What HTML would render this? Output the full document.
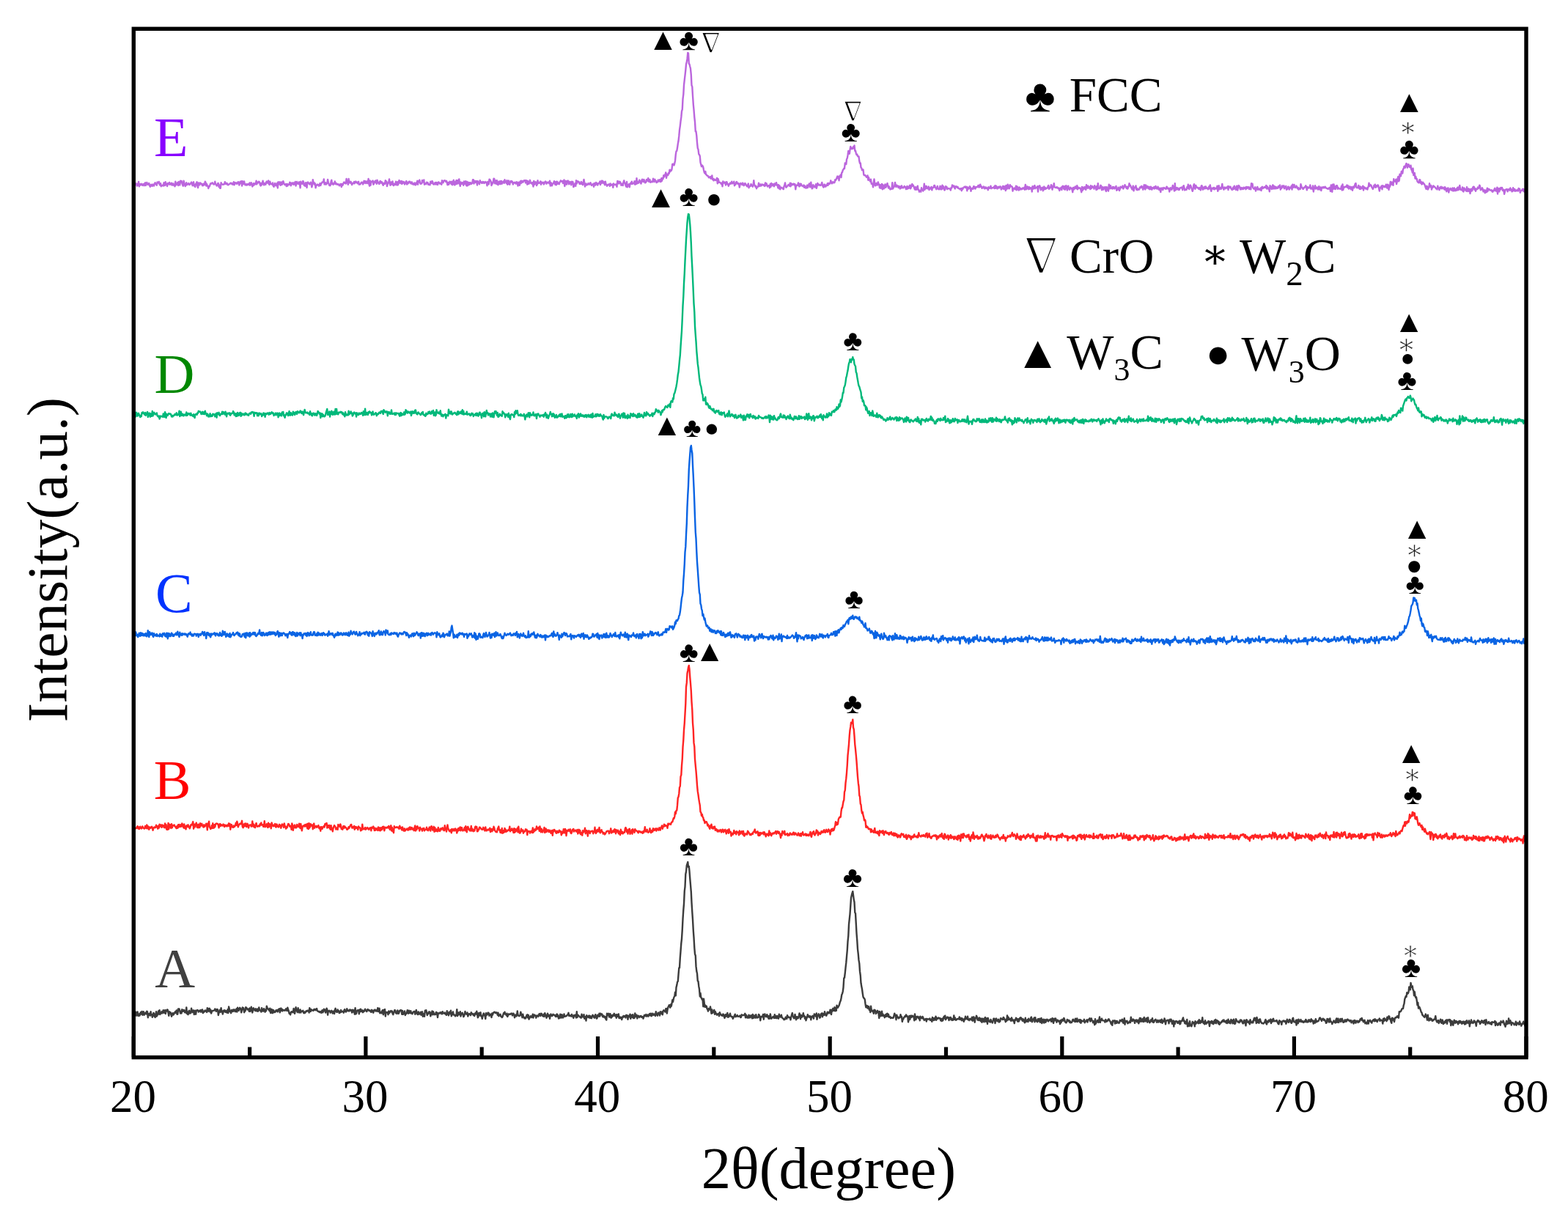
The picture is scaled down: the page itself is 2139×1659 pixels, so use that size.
<!DOCTYPE html>
<html><head><meta charset="utf-8"><title>XRD patterns</title>
<style>html,body{margin:0;padding:0;background:#fff;overflow:hidden;}svg{display:block;filter:blur(0.5px);}</style>
</head><body>
<svg width="2139" height="1659" viewBox="0 0 2139 1659">
<rect x="0" y="0" width="2139" height="1659" fill="#ffffff"/>
<polyline fill="none" stroke="#bb66dd" stroke-width="2.4" stroke-linejoin="round" points="182.3,251.4 183.1,253.9 183.8,253.7 184.6,250.4 185.3,250.8 186.1,250.4 186.8,253.7 187.6,251.3 188.3,252.8 189.1,247.9 189.8,254.4 190.6,251.2 191.3,252.7 192.1,251.2 192.8,250.7 193.6,252.3 194.3,253.0 195.1,251.2 195.8,251.5 196.6,253.2 197.3,250.4 198.1,249.3 198.8,253.1 199.6,251.2 200.3,249.0 201.1,251.2 201.8,251.9 202.6,250.6 203.3,250.1 204.1,253.1 204.8,254.8 205.6,252.7 206.3,251.8 207.1,253.6 207.8,253.9 208.6,251.6 209.3,252.9 210.1,253.5 210.8,250.7 211.6,249.2 212.3,251.1 213.1,251.0 213.8,252.8 214.6,248.4 215.3,249.7 216.1,249.5 216.8,247.9 217.6,251.6 218.3,252.5 219.1,250.2 219.8,254.2 220.6,253.2 221.3,252.9 222.1,252.5 222.8,253.6 223.6,249.3 224.3,253.0 225.1,252.8 225.8,248.2 226.6,252.0 227.3,250.7 228.1,254.0 228.8,250.0 229.6,250.7 230.3,251.2 231.1,248.9 231.8,251.7 232.6,250.4 233.3,251.6 234.1,249.7 234.8,252.7 235.6,251.8 236.3,250.4 237.1,252.8 237.8,253.1 238.6,254.2 239.3,247.8 240.1,252.5 240.8,251.7 241.6,250.6 242.3,248.9 243.1,253.0 243.8,248.0 244.6,251.3 245.3,252.5 246.1,246.8 246.8,249.1 247.6,246.9 248.3,249.7 249.1,252.4 249.8,253.7 250.6,246.8 251.3,249.3 252.1,252.1 252.8,254.1 253.6,252.2 254.3,249.2 255.1,252.2 255.8,251.5 256.6,251.1 257.3,250.0 258.1,252.0 258.8,251.8 259.6,251.0 260.3,250.1 261.1,248.6 261.8,250.1 262.6,253.3 263.3,250.2 264.1,248.3 264.8,253.6 265.6,252.0 266.3,255.0 267.1,251.1 267.8,250.2 268.6,248.3 269.3,253.6 270.1,256.0 270.8,249.5 271.6,249.9 272.3,252.3 273.1,249.5 273.8,250.6 274.6,250.5 275.3,251.5 276.1,253.3 276.8,251.2 277.6,253.0 278.3,250.4 279.1,252.1 279.8,247.6 280.6,249.1 281.3,253.6 282.1,251.1 282.8,253.6 283.6,253.7 284.3,257.0 285.1,254.2 285.8,254.4 286.6,252.0 287.3,250.3 288.1,250.4 288.8,250.6 289.6,249.2 290.3,250.1 291.1,251.0 291.8,251.7 292.6,250.6 293.3,247.7 294.1,251.3 294.8,251.9 295.6,253.6 296.3,252.7 297.1,250.2 297.8,249.9 298.6,255.0 299.3,252.5 300.1,256.9 300.8,256.9 301.6,249.1 302.3,251.2 303.1,251.4 303.8,251.7 304.6,251.8 305.3,251.2 306.1,251.2 306.8,248.1 307.6,250.8 308.3,249.7 309.1,251.3 309.8,250.1 310.6,252.1 311.3,252.4 312.1,251.4 312.8,251.3 313.6,250.8 314.3,249.7 315.1,250.3 315.8,249.7 316.6,251.4 317.3,250.7 318.1,251.8 318.8,248.1 319.6,252.4 320.3,249.2 321.1,249.2 321.8,250.2 322.6,249.4 323.3,250.9 324.1,249.2 324.8,248.2 325.6,248.5 326.3,252.6 327.1,250.1 327.8,247.8 328.6,250.1 329.3,247.1 330.1,253.5 330.8,247.2 331.6,251.0 332.3,251.1 333.1,247.5 333.8,250.9 334.6,252.4 335.3,251.5 336.1,251.2 336.8,252.7 337.6,251.3 338.3,251.7 339.1,250.9 339.8,252.3 340.6,249.4 341.3,252.7 342.1,250.3 342.8,249.2 343.6,252.0 344.3,254.5 345.1,253.1 345.8,250.2 346.6,252.5 347.3,250.3 348.1,250.9 348.8,251.3 349.6,246.7 350.3,251.4 351.1,249.0 351.8,249.5 352.6,247.9 353.3,247.7 354.1,248.6 354.8,251.9 355.6,253.4 356.3,250.0 357.1,252.3 357.8,249.8 358.6,246.7 359.3,250.8 360.1,252.4 360.8,249.9 361.6,251.3 362.3,252.0 363.1,248.9 363.8,247.5 364.6,249.6 365.3,249.3 366.1,246.5 366.8,251.0 367.6,252.1 368.3,247.7 369.1,250.2 369.8,251.0 370.6,250.9 371.3,251.9 372.1,249.5 372.8,253.8 373.6,254.8 374.3,252.8 375.1,250.0 375.8,252.3 376.6,253.4 377.3,251.6 378.1,249.7 378.8,256.5 379.6,248.2 380.3,251.4 381.1,250.5 381.8,248.3 382.6,252.9 383.3,251.3 384.1,248.4 384.8,251.8 385.6,249.9 386.3,247.1 387.1,249.5 387.8,251.4 388.6,252.2 389.3,251.4 390.1,251.2 390.8,254.1 391.6,250.9 392.3,253.6 393.1,251.5 393.8,251.6 394.6,251.9 395.3,248.7 396.1,249.2 396.8,253.3 397.6,250.9 398.3,249.5 399.1,250.9 399.8,249.4 400.6,251.8 401.3,249.4 402.1,251.3 402.8,247.9 403.6,253.6 404.3,250.2 405.1,248.0 405.8,250.5 406.6,250.0 407.3,250.9 408.1,248.3 408.8,251.1 409.6,256.4 410.3,247.6 411.1,250.8 411.8,249.6 412.6,250.7 413.3,246.9 414.1,248.3 414.8,252.8 415.6,250.6 416.3,253.9 417.1,249.3 417.8,250.9 418.6,256.0 419.3,248.9 420.1,248.6 420.8,250.1 421.6,250.0 422.3,251.6 423.1,250.3 423.8,248.7 424.6,250.6 425.3,255.3 426.1,252.7 426.8,245.1 427.6,250.2 428.3,248.9 429.1,251.8 429.8,250.4 430.6,256.3 431.3,252.7 432.1,252.8 432.8,251.6 433.6,252.4 434.3,252.1 435.1,253.7 435.8,252.0 436.6,250.1 437.3,253.0 438.1,250.7 438.8,250.0 439.6,248.4 440.3,248.6 441.1,248.5 441.8,244.4 442.6,251.6 443.3,250.8 444.1,249.3 444.8,251.7 445.6,250.5 446.3,250.4 447.1,245.0 447.8,249.3 448.6,250.8 449.3,252.9 450.1,253.3 450.8,252.6 451.6,247.7 452.3,245.7 453.1,251.0 453.8,250.1 454.6,251.9 455.3,249.9 456.1,250.6 456.8,247.4 457.6,251.2 458.3,249.5 459.1,251.3 459.8,251.7 460.6,250.9 461.3,251.9 462.1,251.6 462.8,253.3 463.6,253.0 464.3,251.3 465.1,250.9 465.8,255.0 466.6,251.1 467.3,252.9 468.1,251.4 468.8,249.2 469.6,248.5 470.3,249.8 471.1,249.9 471.8,250.5 472.6,244.0 473.3,247.9 474.1,248.7 474.8,251.8 475.6,244.0 476.3,249.2 477.1,247.5 477.8,249.5 478.6,247.9 479.3,249.6 480.1,252.1 480.8,249.9 481.6,250.2 482.3,250.2 483.1,248.0 483.8,250.3 484.6,248.8 485.3,247.5 486.1,248.9 486.8,248.5 487.6,250.2 488.3,248.6 489.1,247.8 489.8,251.7 490.6,250.9 491.3,251.5 492.1,250.4 492.8,249.1 493.6,248.6 494.3,249.0 495.1,251.4 495.8,249.8 496.6,246.8 497.3,249.6 498.1,247.1 498.8,250.1 499.6,247.6 500.3,247.5 501.1,250.1 501.8,249.6 502.6,243.9 503.3,251.0 504.1,253.6 504.8,246.5 505.6,252.7 506.3,247.8 507.1,248.2 507.8,247.6 508.6,246.4 509.3,251.7 510.1,250.6 510.8,247.8 511.6,248.8 512.3,246.4 513.0,248.5 513.8,250.8 514.5,245.7 515.3,248.0 516.0,249.0 516.8,250.6 517.5,251.0 518.3,247.4 519.0,247.1 519.8,249.6 520.5,248.2 521.3,248.5 522.0,251.4 522.8,252.8 523.5,250.2 524.3,249.6 525.0,250.9 525.8,246.1 526.5,249.6 527.3,247.5 528.0,254.0 528.8,250.7 529.5,249.5 530.3,248.8 531.0,244.5 531.8,250.9 532.5,252.8 533.3,248.5 534.0,251.4 534.8,251.6 535.5,247.5 536.3,252.4 537.0,253.2 537.8,251.0 538.5,250.5 539.3,252.1 540.0,247.6 540.8,250.7 541.5,252.6 542.3,248.2 543.0,252.2 543.8,249.4 544.5,246.0 545.3,249.6 546.0,247.7 546.8,250.0 547.5,246.9 548.3,251.0 549.0,247.6 549.8,249.7 550.5,248.0 551.3,248.5 552.0,251.5 552.8,249.7 553.5,248.5 554.3,247.0 555.0,251.6 555.8,250.8 556.5,248.8 557.3,250.0 558.0,247.6 558.8,247.6 559.5,248.0 560.3,250.3 561.0,250.3 561.8,248.4 562.5,251.3 563.3,251.4 564.0,250.3 564.8,252.0 565.5,249.6 566.3,250.0 567.0,252.4 567.8,249.6 568.5,251.0 569.3,246.8 570.0,251.7 570.8,247.2 571.5,248.1 572.3,245.6 573.0,249.5 573.8,250.9 574.5,250.7 575.3,250.4 576.0,246.0 576.8,247.6 577.5,248.4 578.3,245.5 579.0,251.8 579.8,250.2 580.5,250.6 581.3,251.2 582.0,248.6 582.8,248.9 583.5,249.1 584.3,251.9 585.0,251.4 585.8,251.7 586.5,252.4 587.3,247.6 588.0,248.9 588.8,250.1 589.5,247.0 590.3,248.4 591.0,251.3 591.8,251.5 592.5,251.5 593.3,249.6 594.0,249.1 594.8,251.6 595.5,248.9 596.3,250.2 597.0,252.1 597.8,248.8 598.5,248.4 599.3,249.5 600.0,250.6 600.8,250.4 601.5,249.7 602.3,251.8 603.0,246.2 603.8,247.5 604.5,249.3 605.3,247.1 606.0,246.2 606.8,246.3 607.5,246.8 608.3,248.1 609.0,246.7 609.8,249.3 610.5,252.3 611.3,249.0 612.0,251.9 612.8,250.2 613.5,247.7 614.3,249.6 615.0,248.1 615.8,251.4 616.5,247.7 617.3,252.3 618.0,250.8 618.8,245.8 619.5,251.1 620.3,252.5 621.0,248.0 621.8,251.4 622.5,246.0 623.3,250.8 624.0,246.3 624.8,250.3 625.5,246.0 626.3,244.4 627.0,250.2 627.8,253.9 628.5,248.4 629.3,251.2 630.0,249.9 630.8,249.1 631.5,250.9 632.3,252.9 633.0,247.4 633.8,250.9 634.5,250.5 635.3,247.1 636.0,252.9 636.8,253.5 637.5,248.0 638.3,253.1 639.0,249.7 639.8,249.0 640.5,251.9 641.3,249.2 642.0,249.1 642.8,251.1 643.5,250.4 644.3,249.6 645.0,245.2 645.8,245.1 646.5,250.5 647.3,246.8 648.0,249.1 648.8,247.0 649.5,248.9 650.3,247.1 651.0,252.5 651.8,247.3 652.5,248.9 653.3,248.7 654.0,251.3 654.8,246.1 655.5,248.7 656.3,248.2 657.0,249.7 657.8,249.7 658.5,247.9 659.3,249.4 660.0,248.2 660.8,249.9 661.5,248.9 662.3,247.9 663.0,249.0 663.8,249.7 664.5,253.2 665.3,247.9 666.0,249.3 666.8,251.4 667.5,244.6 668.3,245.1 669.0,246.1 669.8,248.2 670.5,253.0 671.3,249.1 672.0,250.6 672.8,247.9 673.5,243.6 674.3,243.8 675.0,250.4 675.8,249.0 676.5,246.3 677.3,251.1 678.0,246.2 678.8,251.5 679.5,252.3 680.3,248.2 681.0,247.5 681.8,251.1 682.5,247.3 683.3,251.0 684.0,246.9 684.8,250.6 685.5,249.2 686.3,248.1 687.0,247.2 687.8,249.8 688.5,245.2 689.3,248.2 690.0,248.0 690.8,250.0 691.5,246.3 692.3,251.9 693.0,248.0 693.8,246.4 694.5,251.3 695.3,251.8 696.0,248.3 696.8,246.9 697.5,248.6 698.3,247.3 699.0,248.0 699.8,251.6 700.5,249.5 701.3,249.0 702.0,249.5 702.8,248.7 703.5,250.5 704.3,250.6 705.0,248.2 705.8,249.1 706.5,253.6 707.3,249.7 708.0,248.6 708.8,252.9 709.5,249.0 710.3,246.8 711.0,250.0 711.8,246.8 712.5,247.3 713.3,248.7 714.0,247.6 714.8,246.1 715.5,246.3 716.3,246.0 717.0,249.5 717.8,246.1 718.5,246.5 719.3,251.7 720.0,246.9 720.8,250.9 721.5,250.8 722.3,248.1 723.0,245.8 723.8,249.4 724.5,249.9 725.3,250.6 726.0,248.9 726.8,251.2 727.5,254.5 728.3,247.0 729.0,251.8 729.8,249.5 730.5,248.2 731.3,248.8 732.0,253.1 732.8,251.5 733.5,246.3 734.3,250.0 735.0,249.7 735.8,249.7 736.5,248.9 737.3,247.4 738.0,251.9 738.8,248.5 739.5,249.7 740.3,249.3 741.0,248.8 741.8,251.4 742.5,250.5 743.3,248.3 744.0,247.5 744.8,248.2 745.5,250.7 746.3,248.9 747.0,249.4 747.8,248.6 748.5,249.1 749.3,250.3 750.0,246.6 750.8,253.5 751.5,249.2 752.3,250.0 753.0,253.4 753.8,251.1 754.5,250.6 755.3,249.2 756.0,247.2 756.8,250.3 757.5,252.1 758.3,247.9 759.0,252.3 759.8,247.6 760.5,248.4 761.3,250.8 762.0,249.9 762.8,251.2 763.5,248.5 764.3,248.0 765.0,246.3 765.8,247.5 766.5,247.7 767.3,246.9 768.0,250.1 768.8,248.2 769.5,245.5 770.3,254.0 771.0,247.6 771.8,246.8 772.5,251.6 773.3,251.5 774.0,247.0 774.8,246.4 775.5,247.3 776.3,251.4 777.0,248.9 777.8,248.1 778.5,249.8 779.3,252.4 780.0,247.7 780.8,249.8 781.5,248.1 782.3,255.1 783.0,254.3 783.8,252.5 784.5,250.2 785.3,253.8 786.0,246.1 786.8,250.5 787.5,247.3 788.3,247.1 789.0,248.3 789.8,248.1 790.5,250.8 791.3,251.1 792.0,250.3 792.8,248.0 793.5,251.1 794.3,249.6 795.0,252.2 795.8,248.3 796.5,244.9 797.3,249.4 798.0,254.6 798.8,251.5 799.5,250.4 800.3,252.6 801.0,251.9 801.8,251.9 802.5,250.1 803.3,251.3 804.0,251.6 804.8,250.0 805.5,249.2 806.3,251.6 807.0,252.9 807.8,252.0 808.5,251.4 809.3,251.1 810.0,254.7 810.8,249.9 811.5,251.1 812.3,252.6 813.0,249.0 813.8,249.6 814.5,251.2 815.3,252.6 816.0,250.1 816.8,250.3 817.5,249.9 818.3,247.6 819.0,252.1 819.8,249.4 820.5,246.6 821.3,249.7 822.0,246.6 822.8,248.1 823.5,250.1 824.3,248.3 825.0,252.3 825.8,247.6 826.5,251.1 827.3,251.9 828.0,253.8 828.8,252.9 829.5,251.8 830.3,251.7 831.0,251.5 831.8,253.9 832.5,250.5 833.3,252.8 834.0,251.7 834.8,252.4 835.5,251.5 836.3,255.9 837.0,250.5 837.8,252.0 838.5,251.8 839.3,252.2 840.0,251.6 840.8,251.3 841.5,254.8 842.3,247.0 843.0,250.0 843.8,247.6 844.5,250.5 845.3,247.8 846.0,248.3 846.8,250.0 847.5,252.9 848.3,251.3 849.0,250.8 849.8,253.0 850.5,248.5 851.3,246.3 852.0,249.6 852.8,249.9 853.5,252.9 854.3,254.7 855.0,248.0 855.8,255.4 856.5,253.6 857.3,252.2 858.0,251.3 858.8,255.3 859.5,250.8 860.3,249.7 861.0,250.7 861.8,247.6 862.5,251.0 863.3,249.7 864.0,250.4 864.8,250.2 865.5,247.3 866.3,251.7 867.0,247.3 867.8,251.1 868.5,243.2 869.3,250.3 870.0,248.0 870.8,249.8 871.5,248.5 872.3,245.6 873.0,247.5 873.8,249.6 874.5,250.5 875.3,246.2 876.0,244.7 876.8,246.9 877.5,248.0 878.3,244.9 879.0,246.3 879.8,249.3 880.5,249.2 881.3,248.5 882.0,245.0 882.8,246.7 883.5,245.8 884.3,243.1 885.0,247.7 885.8,246.2 886.5,245.1 887.3,248.9 888.0,247.7 888.8,247.8 889.5,248.5 890.3,247.6 891.0,243.7 891.8,245.5 892.5,248.2 893.3,244.7 894.0,246.3 894.8,247.0 895.5,249.1 896.3,248.8 897.0,247.9 897.8,245.6 898.5,247.6 899.3,246.7 900.0,245.1 900.8,247.9 901.5,248.0 902.3,243.3 903.0,246.7 903.8,243.0 904.5,244.1 905.3,239.1 906.0,241.4 906.8,238.8 907.5,238.0 908.3,235.3 909.0,242.9 909.8,237.8 910.5,238.0 911.3,239.1 912.0,236.0 912.8,236.5 913.5,231.8 914.3,234.0 915.0,231.9 915.8,232.7 916.5,230.9 917.3,223.9 918.0,223.8 918.8,223.8 919.5,225.5 920.3,222.6 921.0,219.4 921.8,210.9 922.5,206.4 923.3,205.8 924.0,201.8 924.8,196.1 925.5,192.6 926.3,185.4 927.0,177.4 927.8,171.8 928.5,165.7 929.3,159.9 930.0,151.9 930.8,149.1 931.5,135.1 932.3,128.6 933.0,116.1 933.8,108.9 934.5,102.8 935.3,95.6 936.0,87.8 936.8,84.3 937.5,80.4 938.3,72.0 939.0,72.7 939.8,86.9 940.5,87.4 941.3,90.8 942.0,93.5 942.8,102.1 943.5,116.3 944.3,118.4 945.0,130.3 945.8,142.3 946.5,149.7 947.3,159.8 948.0,166.1 948.8,179.4 949.5,179.3 950.3,185.3 951.0,194.6 951.8,202.3 952.5,203.8 953.3,210.4 954.0,211.0 954.8,213.0 955.5,221.5 956.3,224.6 957.0,227.2 957.8,225.6 958.5,226.3 959.3,228.2 960.0,232.0 960.8,235.2 961.5,236.5 962.3,233.9 963.0,238.1 963.8,238.6 964.5,239.4 965.3,239.9 966.0,240.1 966.8,242.2 967.5,241.8 968.3,242.4 969.0,241.0 969.8,243.7 970.5,243.0 971.3,239.4 972.0,244.9 972.8,243.8 973.5,246.4 974.3,244.5 975.0,245.0 975.8,246.0 976.5,245.8 977.3,245.3 978.0,242.9 978.8,250.4 979.5,243.9 980.3,246.6 981.0,248.9 981.8,248.6 982.5,249.2 983.3,249.9 984.0,251.1 984.8,249.5 985.5,254.3 986.3,247.4 987.0,249.9 987.8,248.8 988.5,248.5 989.3,250.2 990.0,252.5 990.8,248.3 991.5,248.3 992.3,251.2 993.0,250.9 993.8,253.8 994.5,252.1 995.3,250.6 996.0,249.6 996.8,250.7 997.5,250.0 998.3,247.7 999.0,250.4 999.8,249.9 1000.5,249.7 1001.3,247.7 1002.0,253.3 1002.8,251.3 1003.5,251.7 1004.3,248.6 1005.0,248.0 1005.8,249.7 1006.5,251.0 1007.3,250.1 1008.0,250.7 1008.8,255.6 1009.5,252.2 1010.3,249.9 1011.0,251.0 1011.8,250.6 1012.5,252.2 1013.3,249.6 1014.0,251.5 1014.8,253.2 1015.5,251.9 1016.3,250.1 1017.0,250.9 1017.8,252.5 1018.5,253.5 1019.3,254.4 1020.0,252.7 1020.8,250.6 1021.5,256.2 1022.3,254.2 1023.0,254.3 1023.8,253.9 1024.5,251.1 1025.3,252.4 1026.0,253.3 1026.8,254.7 1027.5,252.6 1028.3,246.3 1029.0,251.9 1029.8,253.1 1030.5,254.9 1031.3,253.8 1032.0,257.3 1032.8,255.3 1033.5,255.1 1034.3,254.4 1035.0,249.8 1035.8,254.1 1036.5,253.6 1037.3,251.4 1038.0,253.5 1038.8,253.2 1039.5,251.4 1040.3,252.0 1041.0,251.9 1041.8,253.1 1042.5,251.9 1043.3,254.0 1044.0,249.4 1044.8,252.7 1045.5,250.1 1046.3,252.6 1047.0,254.5 1047.8,253.4 1048.5,253.1 1049.3,253.4 1050.0,256.2 1050.8,251.0 1051.5,254.7 1052.3,250.0 1053.0,252.0 1053.8,253.2 1054.5,251.2 1055.3,253.2 1056.0,254.2 1056.8,250.4 1057.5,252.5 1058.3,251.9 1059.0,249.1 1059.8,252.8 1060.5,251.9 1061.3,256.2 1062.0,252.2 1062.8,257.4 1063.5,253.4 1064.3,258.4 1065.0,255.7 1065.8,255.6 1066.5,256.3 1067.3,256.5 1068.0,257.5 1068.8,258.2 1069.5,254.2 1070.3,252.4 1071.0,249.5 1071.8,254.1 1072.5,255.7 1073.3,254.7 1074.0,254.0 1074.8,252.9 1075.5,252.1 1076.3,252.5 1077.0,253.8 1077.8,249.6 1078.5,254.3 1079.3,250.1 1080.0,252.5 1080.8,251.5 1081.5,252.0 1082.3,250.6 1083.0,250.6 1083.8,252.6 1084.5,251.2 1085.3,258.3 1086.0,252.9 1086.8,252.7 1087.5,253.1 1088.3,252.3 1089.0,249.4 1089.8,253.5 1090.5,254.4 1091.3,250.7 1092.0,253.4 1092.8,250.8 1093.5,252.9 1094.3,253.5 1095.0,254.1 1095.8,254.3 1096.5,252.5 1097.3,255.9 1098.0,253.7 1098.8,255.6 1099.5,256.7 1100.3,255.1 1101.0,252.8 1101.8,256.2 1102.5,252.5 1103.3,252.6 1104.0,250.4 1104.8,255.4 1105.5,253.1 1106.3,248.7 1107.0,254.6 1107.8,257.3 1108.5,256.8 1109.3,252.3 1110.0,253.6 1110.8,254.5 1111.5,255.4 1112.3,253.8 1113.0,251.3 1113.8,256.9 1114.5,254.1 1115.3,250.0 1116.0,251.6 1116.8,252.6 1117.5,251.7 1118.3,252.4 1119.0,253.0 1119.8,252.6 1120.5,251.4 1121.3,249.0 1122.0,252.9 1122.8,254.5 1123.5,255.6 1124.3,251.7 1125.0,251.7 1125.8,254.6 1126.5,254.6 1127.3,252.4 1128.0,253.1 1128.8,250.2 1129.5,252.8 1130.3,250.0 1131.0,251.1 1131.8,250.8 1132.5,249.8 1133.3,246.3 1134.0,248.5 1134.8,250.4 1135.5,249.2 1136.3,248.1 1137.0,249.3 1137.8,249.3 1138.5,249.0 1139.3,245.1 1140.0,246.0 1140.8,244.6 1141.5,242.7 1142.3,240.6 1143.0,242.9 1143.8,240.7 1144.5,246.2 1145.3,240.9 1146.0,239.8 1146.8,238.5 1147.5,242.1 1148.3,235.3 1149.0,235.1 1149.8,232.0 1150.5,231.4 1151.3,229.6 1152.0,229.8 1152.8,222.4 1153.5,223.0 1154.3,224.1 1155.0,217.3 1155.8,215.7 1156.5,211.9 1157.3,206.0 1158.0,209.1 1158.8,209.8 1159.5,204.4 1160.3,199.9 1161.0,203.1 1161.8,201.7 1162.5,203.1 1163.3,202.7 1164.0,200.3 1164.8,202.3 1165.5,198.5 1166.3,205.9 1167.0,205.5 1167.8,209.3 1168.5,211.2 1169.3,210.5 1170.0,213.0 1170.8,213.7 1171.5,213.5 1172.3,219.8 1173.0,222.8 1173.8,222.5 1174.5,228.5 1175.3,229.3 1176.0,232.1 1176.8,231.6 1177.5,231.4 1178.3,238.3 1179.0,239.2 1179.8,238.9 1180.5,239.3 1181.3,240.6 1182.0,241.7 1182.8,241.8 1183.5,239.4 1184.3,245.7 1185.0,242.0 1185.8,245.1 1186.5,245.9 1187.3,247.7 1188.0,244.6 1188.8,250.8 1189.5,250.3 1190.3,251.0 1191.0,255.4 1191.8,248.5 1192.5,244.4 1193.3,251.2 1194.0,253.3 1194.8,253.1 1195.5,249.9 1196.3,251.0 1197.0,252.4 1197.8,248.4 1198.5,251.1 1199.3,251.5 1200.0,256.2 1200.8,252.2 1201.5,256.9 1202.3,254.2 1203.0,250.9 1203.8,258.4 1204.5,252.2 1205.3,255.2 1206.0,257.3 1206.8,252.9 1207.5,251.4 1208.3,255.8 1209.0,254.1 1209.8,251.8 1210.5,250.1 1211.3,253.7 1212.0,256.5 1212.8,254.3 1213.5,256.3 1214.3,258.4 1215.0,257.7 1215.8,258.0 1216.5,257.6 1217.3,249.2 1218.0,257.6 1218.8,255.9 1219.5,255.1 1220.3,253.2 1221.0,249.0 1221.8,253.0 1222.5,255.0 1223.3,252.7 1224.0,253.3 1224.8,253.6 1225.5,256.0 1226.3,254.1 1227.0,254.5 1227.8,257.5 1228.5,254.5 1229.3,256.5 1230.0,253.4 1230.8,256.2 1231.5,256.0 1232.3,256.3 1233.0,255.1 1233.8,254.0 1234.5,255.5 1235.3,255.2 1236.0,258.1 1236.8,257.9 1237.5,253.9 1238.3,257.5 1239.0,255.2 1239.8,256.8 1240.5,254.0 1241.3,252.7 1242.0,257.3 1242.8,256.0 1243.5,252.5 1244.3,251.1 1245.0,253.9 1245.8,252.8 1246.5,254.6 1247.3,256.7 1248.0,258.6 1248.8,255.2 1249.5,258.8 1250.3,258.6 1251.0,255.8 1251.8,253.7 1252.5,258.9 1253.3,258.7 1254.0,261.7 1254.8,260.9 1255.5,260.0 1256.3,261.7 1257.0,256.3 1257.8,258.4 1258.5,258.7 1259.3,260.6 1260.0,257.9 1260.8,250.6 1261.5,258.7 1262.3,253.9 1263.0,257.3 1263.8,254.0 1264.5,256.5 1265.3,257.3 1266.0,256.6 1266.8,254.5 1267.5,259.1 1268.3,257.3 1269.0,256.3 1269.8,257.5 1270.5,254.9 1271.3,259.4 1272.0,256.0 1272.8,256.1 1273.5,255.8 1274.3,253.2 1275.0,252.9 1275.8,255.8 1276.5,256.2 1277.3,258.3 1278.0,256.8 1278.8,254.0 1279.5,257.3 1280.3,258.1 1281.0,258.3 1281.8,256.9 1282.5,253.8 1283.3,258.3 1284.0,254.6 1284.8,258.2 1285.5,252.7 1286.3,257.1 1287.0,254.3 1287.8,258.0 1288.5,259.5 1289.3,258.5 1290.0,254.1 1290.8,254.7 1291.5,255.0 1292.3,258.1 1293.0,257.4 1293.8,256.9 1294.5,257.1 1295.3,257.6 1296.0,257.6 1296.8,259.6 1297.5,256.1 1298.3,256.5 1299.0,252.5 1299.8,253.4 1300.5,254.5 1301.3,253.4 1302.0,256.0 1302.8,257.5 1303.5,254.5 1304.3,254.3 1305.0,254.5 1305.8,255.8 1306.5,254.9 1307.3,257.0 1308.0,257.0 1308.8,257.3 1309.5,258.3 1310.3,257.2 1311.0,257.2 1311.8,260.2 1312.5,256.6 1313.3,258.1 1314.0,256.5 1314.8,255.4 1315.5,255.3 1316.3,254.5 1317.0,256.0 1317.8,254.7 1318.5,255.0 1319.3,260.4 1320.0,255.4 1320.8,257.8 1321.5,256.0 1322.3,257.1 1323.0,254.3 1323.8,255.9 1324.5,260.8 1325.3,257.4 1326.0,257.9 1326.8,256.5 1327.5,257.8 1328.3,254.1 1329.0,254.6 1329.8,256.9 1330.5,257.6 1331.3,255.1 1332.0,255.4 1332.8,255.0 1333.5,255.2 1334.3,253.2 1335.0,252.9 1335.8,255.6 1336.5,252.5 1337.3,251.7 1338.0,254.9 1338.8,254.3 1339.5,256.9 1340.3,255.7 1341.0,256.4 1341.8,254.5 1342.5,255.0 1343.3,257.4 1344.0,257.0 1344.8,255.4 1345.5,256.9 1346.3,256.5 1347.0,256.5 1347.8,259.2 1348.5,255.3 1349.3,256.9 1350.0,256.8 1350.8,255.5 1351.5,253.7 1352.3,257.2 1353.0,256.5 1353.8,256.2 1354.5,256.3 1355.3,256.4 1356.0,254.7 1356.8,257.1 1357.5,253.2 1358.3,256.7 1359.0,253.7 1359.8,255.7 1360.5,257.5 1361.3,255.5 1362.0,254.8 1362.8,256.5 1363.5,254.8 1364.3,254.4 1365.0,254.6 1365.8,258.5 1366.5,257.1 1367.3,257.0 1368.0,254.0 1368.8,257.7 1369.5,254.3 1370.3,257.9 1371.0,254.5 1371.8,260.1 1372.5,252.9 1373.3,258.1 1374.0,257.0 1374.8,251.8 1375.5,254.4 1376.3,257.3 1377.0,257.1 1377.8,252.1 1378.5,254.7 1379.3,253.8 1380.0,254.4 1380.8,254.8 1381.5,260.7 1382.3,257.8 1383.0,256.9 1383.8,256.6 1384.5,258.3 1385.3,258.2 1386.0,253.6 1386.8,259.4 1387.5,254.4 1388.3,255.8 1389.0,258.3 1389.8,259.5 1390.5,255.5 1391.3,256.7 1392.0,258.6 1392.8,257.3 1393.5,258.2 1394.3,258.0 1395.0,256.4 1395.8,257.1 1396.5,257.6 1397.3,255.7 1398.0,258.8 1398.8,251.9 1399.5,253.9 1400.3,258.4 1401.0,256.5 1401.8,254.6 1402.5,256.7 1403.3,258.2 1404.0,255.2 1404.8,257.8 1405.5,256.3 1406.3,256.4 1407.0,256.4 1407.8,261.5 1408.5,254.3 1409.3,255.7 1410.0,257.5 1410.8,253.9 1411.5,253.1 1412.3,257.2 1413.0,256.1 1413.8,255.8 1414.5,256.3 1415.3,254.2 1416.0,261.6 1416.8,254.2 1417.5,255.2 1418.3,253.3 1419.0,255.4 1419.8,259.2 1420.5,256.5 1421.3,257.7 1422.0,255.7 1422.8,260.3 1423.5,257.2 1424.3,254.6 1425.0,258.4 1425.8,256.0 1426.5,257.8 1427.3,256.7 1428.0,256.8 1428.8,256.4 1429.5,254.3 1430.3,253.0 1431.0,257.7 1431.8,255.6 1432.5,256.5 1433.3,255.0 1434.0,252.1 1434.8,253.5 1435.5,258.7 1436.3,254.5 1437.0,255.3 1437.8,250.2 1438.5,255.2 1439.3,255.6 1440.0,255.9 1440.8,256.3 1441.5,255.3 1442.3,255.4 1443.0,256.6 1443.8,257.3 1444.5,256.5 1445.3,260.1 1446.0,257.3 1446.8,257.2 1447.5,255.7 1448.3,259.0 1449.0,255.0 1449.8,253.7 1450.5,254.8 1451.3,257.7 1452.0,254.2 1452.8,258.8 1453.5,256.1 1454.3,253.2 1455.0,255.7 1455.8,259.5 1456.5,254.5 1457.3,253.7 1458.0,257.2 1458.8,258.7 1459.5,258.2 1460.3,255.7 1461.0,256.7 1461.8,256.9 1462.5,258.5 1463.3,262.2 1464.0,256.0 1464.8,258.7 1465.5,255.6 1466.3,257.3 1467.0,254.5 1467.8,254.9 1468.5,257.2 1469.3,253.1 1470.0,258.3 1470.8,255.6 1471.5,256.9 1472.3,256.6 1473.0,256.2 1473.8,257.2 1474.5,259.1 1475.3,262.2 1476.0,254.9 1476.8,259.8 1477.5,257.9 1478.3,255.6 1479.0,257.7 1479.8,255.2 1480.5,256.5 1481.3,258.8 1482.0,252.3 1482.8,256.4 1483.5,256.5 1484.3,253.6 1485.0,256.5 1485.8,256.2 1486.5,255.0 1487.3,258.1 1488.0,253.3 1488.8,257.1 1489.5,255.5 1490.3,254.0 1491.0,255.7 1491.8,255.4 1492.5,257.7 1493.3,253.2 1494.0,255.7 1494.8,255.2 1495.5,259.1 1496.3,254.0 1497.0,258.2 1497.8,250.2 1498.5,257.0 1499.3,256.1 1500.0,257.2 1500.8,255.2 1501.5,252.8 1502.3,253.7 1503.0,259.2 1503.8,257.2 1504.5,255.3 1505.3,258.7 1506.0,255.7 1506.8,255.8 1507.5,255.0 1508.3,259.6 1509.0,261.0 1509.8,255.2 1510.5,257.4 1511.3,258.6 1512.0,260.6 1512.8,251.8 1513.5,256.5 1514.3,257.3 1515.0,253.3 1515.8,256.9 1516.5,256.6 1517.3,257.6 1518.0,255.1 1518.8,257.0 1519.5,255.1 1520.3,257.4 1521.0,256.7 1521.8,255.8 1522.5,253.9 1523.3,259.8 1524.0,258.9 1524.8,258.5 1525.5,255.7 1526.3,256.4 1527.0,260.0 1527.8,258.0 1528.5,254.7 1529.3,256.1 1530.0,256.1 1530.8,255.2 1531.5,253.5 1532.3,257.5 1533.0,256.3 1533.8,254.8 1534.5,252.2 1535.3,254.2 1536.0,255.3 1536.8,257.0 1537.5,254.7 1538.3,257.6 1539.0,255.8 1539.8,254.1 1540.5,250.3 1541.3,253.4 1542.0,252.8 1542.8,255.4 1543.5,256.4 1544.3,258.4 1545.0,255.8 1545.8,253.6 1546.5,260.4 1547.3,257.0 1548.0,255.5 1548.8,255.5 1549.5,253.5 1550.3,258.8 1551.0,256.9 1551.8,259.2 1552.5,258.3 1553.3,257.9 1554.0,258.7 1554.8,255.7 1555.5,255.5 1556.3,256.2 1557.0,253.9 1557.8,255.9 1558.5,254.7 1559.3,258.7 1560.0,255.9 1560.8,252.2 1561.5,255.9 1562.3,258.4 1563.0,252.5 1563.8,254.7 1564.5,256.5 1565.3,254.1 1566.0,255.8 1566.8,257.2 1567.5,254.8 1568.3,258.2 1569.0,258.1 1569.8,254.7 1570.5,256.9 1571.3,258.7 1572.0,256.0 1572.8,256.9 1573.5,257.1 1574.3,255.1 1575.0,257.5 1575.8,256.4 1576.5,253.9 1577.3,256.8 1578.0,257.5 1578.8,257.5 1579.5,254.7 1580.3,256.9 1581.0,258.8 1581.8,256.7 1582.5,258.7 1583.3,262.1 1584.0,256.6 1584.8,258.1 1585.5,256.4 1586.3,259.1 1587.0,256.9 1587.8,256.0 1588.5,256.9 1589.3,256.8 1590.0,257.7 1590.8,257.8 1591.5,254.6 1592.3,255.6 1593.0,257.4 1593.8,257.6 1594.5,256.8 1595.3,261.5 1596.0,258.6 1596.8,256.2 1597.5,257.7 1598.3,258.8 1599.0,256.9 1599.8,253.0 1600.5,256.5 1601.3,256.9 1602.0,260.5 1602.8,250.1 1603.5,259.5 1604.3,256.2 1605.0,258.4 1605.8,256.1 1606.5,257.0 1607.3,258.9 1608.0,257.0 1608.8,258.9 1609.5,256.7 1610.3,256.2 1611.0,256.4 1611.8,255.4 1612.5,256.5 1613.3,259.2 1614.0,254.3 1614.8,253.3 1615.5,256.3 1616.3,259.5 1617.0,258.3 1617.8,258.9 1618.5,258.9 1619.3,255.2 1620.0,256.9 1620.8,251.6 1621.5,255.6 1622.3,258.0 1623.0,253.7 1623.8,252.6 1624.5,253.9 1625.3,256.6 1626.0,258.3 1626.8,260.8 1627.5,258.5 1628.3,252.7 1629.0,251.3 1629.8,256.1 1630.5,257.9 1631.3,252.9 1632.0,255.1 1632.8,255.4 1633.5,256.4 1634.3,256.1 1635.0,257.3 1635.8,258.1 1636.5,256.1 1637.3,257.2 1638.0,259.4 1638.8,253.5 1639.5,253.2 1640.3,256.1 1641.0,258.7 1641.8,255.6 1642.5,257.4 1643.3,254.8 1644.0,257.2 1644.8,254.4 1645.5,256.9 1646.3,256.5 1647.0,256.5 1647.8,258.3 1648.5,257.7 1649.3,254.5 1650.0,257.3 1650.8,252.4 1651.5,257.5 1652.3,260.8 1653.0,256.8 1653.8,257.0 1654.5,256.4 1655.3,258.1 1656.0,255.9 1656.8,258.3 1657.5,256.8 1658.3,256.7 1659.0,257.6 1659.8,257.1 1660.5,253.7 1661.3,260.8 1662.0,257.0 1662.8,253.3 1663.5,258.4 1664.3,256.1 1665.0,256.7 1665.8,257.7 1666.5,254.7 1667.3,250.9 1668.0,256.4 1668.8,257.1 1669.5,258.7 1670.3,255.4 1671.0,256.2 1671.8,257.3 1672.5,255.8 1673.3,255.9 1674.0,256.7 1674.8,254.2 1675.5,259.0 1676.3,254.1 1677.0,256.0 1677.8,255.4 1678.5,254.7 1679.3,257.2 1680.0,258.1 1680.8,259.1 1681.5,257.5 1682.3,255.6 1683.0,258.1 1683.8,253.7 1684.5,256.5 1685.3,257.4 1686.0,258.9 1686.8,254.2 1687.5,253.5 1688.3,259.5 1689.0,255.3 1689.8,253.1 1690.5,253.8 1691.3,256.1 1692.0,258.3 1692.8,256.0 1693.5,258.2 1694.3,256.3 1695.0,256.9 1695.8,258.1 1696.5,255.7 1697.3,257.1 1698.0,256.0 1698.8,255.7 1699.5,258.3 1700.3,255.0 1701.0,257.1 1701.8,255.2 1702.5,256.3 1703.3,255.2 1704.0,258.0 1704.8,255.8 1705.5,255.6 1706.3,258.3 1707.0,250.3 1707.8,253.5 1708.5,250.6 1709.3,256.1 1710.0,257.1 1710.8,257.8 1711.5,257.3 1712.3,255.3 1713.0,260.6 1713.8,258.0 1714.5,257.1 1715.3,254.9 1716.0,258.8 1716.8,257.3 1717.5,257.6 1718.3,259.0 1719.0,258.7 1719.8,256.4 1720.5,260.0 1721.3,255.3 1722.0,254.7 1722.8,257.1 1723.5,256.4 1724.3,255.9 1725.0,255.1 1725.8,256.0 1726.5,255.0 1727.3,253.0 1728.0,257.6 1728.8,254.4 1729.5,255.9 1730.3,257.9 1731.0,256.4 1731.8,261.4 1732.5,253.3 1733.3,254.4 1734.0,255.8 1734.8,258.1 1735.5,254.9 1736.3,252.4 1737.0,257.5 1737.8,253.7 1738.5,255.3 1739.3,257.5 1740.0,254.7 1740.8,255.2 1741.5,257.2 1742.3,256.0 1743.0,256.8 1743.8,254.2 1744.5,255.7 1745.3,253.6 1746.0,252.6 1746.8,258.7 1747.5,256.0 1748.3,256.8 1749.0,253.4 1749.8,255.4 1750.5,255.3 1751.3,253.3 1752.0,257.3 1752.8,255.1 1753.5,256.3 1754.3,254.0 1755.0,258.7 1755.8,258.2 1756.5,257.3 1757.3,254.7 1758.0,255.3 1758.8,258.6 1759.5,255.6 1760.3,256.5 1761.0,256.1 1761.8,253.6 1762.5,258.5 1763.3,251.7 1764.0,255.8 1764.8,255.0 1765.5,252.0 1766.3,255.5 1767.0,256.0 1767.8,255.1 1768.5,253.5 1769.3,256.0 1770.0,257.3 1770.8,255.7 1771.5,258.6 1772.3,257.0 1773.0,256.8 1773.8,258.0 1774.5,251.2 1775.3,254.2 1776.0,256.2 1776.8,256.2 1777.5,258.0 1778.3,257.3 1779.0,255.6 1779.8,255.8 1780.5,255.0 1781.3,253.3 1782.0,254.9 1782.8,259.3 1783.5,255.2 1784.3,255.5 1785.0,256.6 1785.8,255.4 1786.5,256.1 1787.3,252.5 1788.0,257.5 1788.8,256.3 1789.5,257.4 1790.3,257.9 1791.0,253.5 1791.8,261.5 1792.5,257.1 1793.3,257.0 1794.0,253.1 1794.8,257.6 1795.5,257.1 1796.3,255.5 1797.0,256.6 1797.8,258.6 1798.5,255.4 1799.3,254.2 1800.0,258.5 1800.8,256.3 1801.5,255.4 1802.3,260.1 1803.0,256.0 1803.8,255.4 1804.5,256.3 1805.3,255.1 1806.0,256.3 1806.8,256.2 1807.5,254.7 1808.3,255.5 1809.0,256.6 1809.8,256.9 1810.5,257.3 1811.3,257.8 1812.0,256.9 1812.8,257.5 1813.5,255.9 1814.3,256.2 1815.0,261.0 1815.8,252.4 1816.5,256.6 1817.3,261.7 1818.0,251.8 1818.8,257.9 1819.5,251.4 1820.3,255.2 1821.0,257.9 1821.8,258.0 1822.5,253.7 1823.3,253.2 1824.0,253.2 1824.8,257.7 1825.5,255.9 1826.3,256.9 1827.0,257.4 1827.8,257.6 1828.5,257.8 1829.3,257.0 1830.0,253.7 1830.8,259.5 1831.5,251.4 1832.3,259.1 1833.0,255.2 1833.8,255.7 1834.5,254.8 1835.3,254.8 1836.0,255.1 1836.8,254.3 1837.5,252.5 1838.3,255.9 1839.0,253.5 1839.8,257.6 1840.5,255.1 1841.3,254.4 1842.0,256.9 1842.8,258.2 1843.5,255.1 1844.3,256.7 1845.0,259.7 1845.8,254.7 1846.5,254.7 1847.3,256.3 1848.0,253.4 1848.8,250.7 1849.5,250.0 1850.3,255.5 1851.0,256.2 1851.8,256.2 1852.5,256.0 1853.3,253.0 1854.0,256.8 1854.8,257.9 1855.5,254.5 1856.3,257.8 1857.0,255.4 1857.8,256.6 1858.5,257.1 1859.3,253.6 1860.0,259.5 1860.8,255.1 1861.5,256.7 1862.3,256.1 1863.0,257.6 1863.8,257.3 1864.5,256.5 1865.3,258.6 1866.0,256.1 1866.8,254.4 1867.5,249.8 1868.3,254.0 1869.0,251.8 1869.8,252.8 1870.5,252.8 1871.3,255.4 1872.0,256.4 1872.8,258.0 1873.5,256.5 1874.3,252.9 1875.0,254.8 1875.8,251.7 1876.5,255.8 1877.3,255.1 1878.0,253.2 1878.8,254.3 1879.5,252.4 1880.3,253.3 1881.0,257.1 1881.8,260.5 1882.5,256.0 1883.3,256.4 1884.0,254.6 1884.8,253.5 1885.5,258.4 1886.3,253.3 1887.0,254.8 1887.8,253.9 1888.5,255.2 1889.3,254.0 1890.0,255.2 1890.8,251.6 1891.5,253.8 1892.3,256.6 1893.0,251.7 1893.8,252.2 1894.5,259.0 1895.3,254.5 1896.0,254.8 1896.8,248.0 1897.5,252.3 1898.3,249.1 1899.0,248.5 1899.8,251.7 1900.5,252.8 1901.3,244.2 1902.0,247.1 1902.8,247.6 1903.5,247.8 1904.3,244.7 1905.0,251.1 1905.8,247.9 1906.5,244.0 1907.3,241.0 1908.0,247.3 1908.8,246.0 1909.5,237.7 1910.3,239.7 1911.0,240.3 1911.8,233.9 1912.5,233.8 1913.3,236.4 1914.0,230.8 1914.8,230.0 1915.5,226.9 1916.3,226.9 1917.0,228.8 1917.8,224.8 1918.5,223.0 1919.3,224.0 1920.0,228.7 1920.8,225.5 1921.5,224.2 1922.3,226.3 1923.0,227.9 1923.8,228.4 1924.5,225.7 1925.3,231.5 1926.0,231.9 1926.8,235.6 1927.5,229.6 1928.3,239.1 1929.0,236.5 1929.8,236.1 1930.5,243.6 1931.3,241.0 1932.0,244.0 1932.8,244.0 1933.5,247.5 1934.3,248.4 1935.0,249.2 1935.8,249.2 1936.5,245.1 1937.3,245.6 1938.0,249.9 1938.8,248.1 1939.5,251.6 1940.3,251.1 1941.0,248.7 1941.8,250.1 1942.5,250.6 1943.3,251.7 1944.0,253.7 1944.8,256.0 1945.5,257.9 1946.3,253.8 1947.0,254.5 1947.8,258.5 1948.5,257.1 1949.3,255.6 1950.0,250.3 1950.8,252.8 1951.5,254.9 1952.3,253.2 1953.0,258.6 1953.8,255.2 1954.5,255.9 1955.3,253.4 1956.0,253.9 1956.8,254.9 1957.5,255.3 1958.3,256.3 1959.0,257.4 1959.8,257.1 1960.5,258.5 1961.3,253.8 1962.0,256.7 1962.8,256.7 1963.5,259.2 1964.3,255.6 1965.0,256.8 1965.8,254.7 1966.5,257.3 1967.3,257.4 1968.0,255.6 1968.8,256.1 1969.5,257.1 1970.3,258.4 1971.0,255.1 1971.8,259.1 1972.5,256.8 1973.3,261.2 1974.0,260.4 1974.8,256.8 1975.5,256.4 1976.3,262.5 1977.0,259.0 1977.8,258.9 1978.5,257.0 1979.3,257.7 1980.0,259.6 1980.8,259.3 1981.5,256.5 1982.3,260.6 1983.0,258.9 1983.8,256.5 1984.5,260.4 1985.3,258.2 1986.0,260.1 1986.8,257.6 1987.5,259.4 1988.3,255.7 1989.0,259.3 1989.8,255.4 1990.5,258.5 1991.3,253.0 1992.0,257.6 1992.8,258.9 1993.5,258.3 1994.3,259.4 1995.0,255.4 1995.8,261.0 1996.5,261.4 1997.3,256.4 1998.0,257.6 1998.8,258.4 1999.5,259.9 2000.3,260.7 2001.0,255.3 2001.8,261.0 2002.5,259.1 2003.3,257.4 2004.0,261.0 2004.8,258.2 2005.5,264.0 2006.3,259.4 2007.0,257.7 2007.8,260.5 2008.5,259.6 2009.3,255.6 2010.0,254.7 2010.8,254.9 2011.5,258.8 2012.3,257.0 2013.0,260.9 2013.8,257.9 2014.5,257.8 2015.3,258.1 2016.0,255.6 2016.8,257.0 2017.5,255.9 2018.3,252.6 2019.0,254.1 2019.8,259.4 2020.5,257.5 2021.3,258.5 2022.0,256.3 2022.8,258.4 2023.5,261.4 2024.3,260.5 2025.0,259.3 2025.8,263.2 2026.5,260.0 2027.3,259.4 2028.0,262.2 2028.8,256.6 2029.5,261.0 2030.3,257.7 2031.0,258.2 2031.8,258.2 2032.5,259.6 2033.3,259.4 2034.0,259.6 2034.8,259.3 2035.5,261.4 2036.3,261.8 2037.0,260.0 2037.8,260.2 2038.5,258.1 2039.3,256.8 2040.0,260.2 2040.8,259.2 2041.5,260.9 2042.3,255.8 2043.0,264.5 2043.8,257.0 2044.5,260.7 2045.3,261.5 2046.0,257.0 2046.8,258.6 2047.5,255.9 2048.3,257.1 2049.1,256.0 2049.8,259.8 2050.6,260.1 2051.3,258.8 2052.1,264.8 2052.8,261.8 2053.6,259.0 2054.3,258.5 2055.1,258.4 2055.8,258.0 2056.6,261.3 2057.3,259.2 2058.1,258.1 2058.8,258.2 2059.6,259.7 2060.3,256.5 2061.1,259.2 2061.8,258.6 2062.6,261.3 2063.3,261.0 2064.1,256.1 2064.8,258.6 2065.6,260.3 2066.3,258.1 2067.1,260.7 2067.8,259.8 2068.6,260.4 2069.3,259.3 2070.1,260.1 2070.8,260.6 2071.6,256.9 2072.3,258.0 2073.1,257.8 2073.8,262.9 2074.6,260.2 2075.3,260.2 2076.1,259.7 2076.8,258.3 2077.6,257.8 2078.3,260.8 2079.1,258.3 2079.8,261.9 2080.6,259.2 2081.3,258.8"/>
<polyline fill="none" stroke="#00b87a" stroke-width="2.4" stroke-linejoin="round" points="182.3,563.7 183.1,563.9 183.8,563.6 184.6,564.7 185.3,568.3 186.1,562.6 186.8,567.0 187.6,567.5 188.3,564.4 189.1,563.8 189.8,566.0 190.6,567.3 191.3,569.1 192.1,566.8 192.8,568.1 193.6,563.0 194.3,563.8 195.1,562.2 195.8,563.3 196.6,564.7 197.3,565.7 198.1,563.0 198.8,566.8 199.6,565.1 200.3,564.2 201.1,561.9 201.8,569.0 202.6,565.7 203.3,563.7 204.1,563.7 204.8,568.7 205.6,564.4 206.3,567.6 207.1,567.8 207.8,560.9 208.6,567.4 209.3,564.4 210.1,562.7 210.8,563.5 211.6,565.4 212.3,564.9 213.1,565.2 213.8,563.4 214.6,567.2 215.3,567.9 216.1,568.7 216.8,567.4 217.6,571.5 218.3,569.8 219.1,567.6 219.8,568.2 220.6,567.9 221.3,568.1 222.1,568.9 222.8,564.5 223.6,567.2 224.3,569.0 225.1,562.1 225.8,564.9 226.6,570.0 227.3,564.9 228.1,565.7 228.8,566.9 229.6,565.0 230.3,564.0 231.1,564.6 231.8,564.8 232.6,564.5 233.3,565.9 234.1,568.4 234.8,567.1 235.6,568.5 236.3,566.8 237.1,567.0 237.8,566.5 238.6,564.9 239.3,566.1 240.1,565.9 240.8,563.3 241.6,566.6 242.3,566.2 243.1,565.9 243.8,564.3 244.6,560.6 245.3,568.1 246.1,565.4 246.8,561.7 247.6,566.8 248.3,564.5 249.1,566.9 249.8,565.3 250.6,567.4 251.3,565.7 252.1,565.6 252.8,565.3 253.6,567.1 254.3,562.4 255.1,566.9 255.8,566.1 256.6,563.9 257.3,564.9 258.1,564.1 258.8,565.0 259.6,566.6 260.3,563.7 261.1,566.4 261.8,566.8 262.6,566.3 263.3,568.1 264.1,565.2 264.8,566.7 265.6,570.0 266.3,565.6 267.1,565.0 267.8,565.0 268.6,565.8 269.3,563.4 270.1,563.8 270.8,560.8 271.6,561.8 272.3,561.5 273.1,561.4 273.8,562.9 274.6,565.1 275.3,563.3 276.1,561.8 276.8,564.7 277.6,564.8 278.3,562.1 279.1,565.1 279.8,560.7 280.6,564.1 281.3,564.1 282.1,567.2 282.8,564.4 283.6,565.5 284.3,568.5 285.1,568.1 285.8,568.3 286.6,564.2 287.3,568.1 288.1,566.4 288.8,568.0 289.6,567.6 290.3,564.7 291.1,565.6 291.8,565.0 292.6,566.1 293.3,568.3 294.1,565.4 294.8,564.0 295.6,569.7 296.3,563.3 297.1,565.1 297.8,565.1 298.6,562.8 299.3,566.5 300.1,567.0 300.8,565.0 301.6,565.2 302.3,564.8 303.1,561.7 303.8,565.0 304.6,562.1 305.3,562.3 306.1,564.5 306.8,565.5 307.6,561.7 308.3,565.0 309.1,568.3 309.8,563.9 310.6,563.7 311.3,564.5 312.1,563.8 312.8,563.2 313.6,566.3 314.3,566.7 315.1,563.8 315.8,564.5 316.6,564.0 317.3,563.7 318.1,561.1 318.8,562.1 319.6,566.3 320.3,563.9 321.1,564.8 321.8,568.1 322.6,564.1 323.3,567.9 324.1,562.9 324.8,564.3 325.6,566.9 326.3,565.3 327.1,563.1 327.8,562.8 328.6,567.7 329.3,563.7 330.1,566.5 330.8,565.7 331.6,564.6 332.3,564.9 333.1,566.4 333.8,565.2 334.6,563.4 335.3,565.7 336.1,564.3 336.8,564.8 337.6,566.2 338.3,565.8 339.1,566.8 339.8,564.5 340.6,563.8 341.3,563.8 342.1,564.8 342.8,562.5 343.6,563.1 344.3,562.0 345.1,562.1 345.8,563.2 346.6,567.8 347.3,562.8 348.1,563.9 348.8,563.6 349.6,563.1 350.3,563.5 351.1,567.2 351.8,563.6 352.6,567.3 353.3,565.9 354.1,563.6 354.8,564.3 355.6,565.0 356.3,564.2 357.1,568.0 357.8,566.4 358.6,566.4 359.3,563.5 360.1,565.9 360.8,563.9 361.6,568.9 362.3,564.2 363.1,564.9 363.8,565.1 364.6,563.5 365.3,563.6 366.1,563.6 366.8,565.8 367.6,562.9 368.3,563.9 369.1,565.0 369.8,563.8 370.6,562.3 371.3,562.8 372.1,564.3 372.8,563.5 373.6,567.1 374.3,565.6 375.1,565.5 375.8,563.6 376.6,566.3 377.3,564.6 378.1,563.5 378.8,564.0 379.6,569.2 380.3,563.9 381.1,563.4 381.8,567.0 382.6,566.2 383.3,564.5 384.1,567.3 384.8,562.4 385.6,564.1 386.3,562.0 387.1,567.4 387.8,566.2 388.6,569.8 389.3,566.1 390.1,566.3 390.8,563.5 391.6,563.5 392.3,564.8 393.1,567.1 393.8,563.6 394.6,561.1 395.3,566.6 396.1,566.5 396.8,563.2 397.6,565.4 398.3,566.4 399.1,566.5 399.8,561.6 400.6,564.4 401.3,562.9 402.1,565.9 402.8,564.3 403.6,561.9 404.3,564.2 405.1,565.0 405.8,561.2 406.6,561.5 407.3,562.7 408.1,563.3 408.8,562.8 409.6,560.5 410.3,561.0 411.1,563.5 411.8,564.1 412.6,561.6 413.3,563.3 414.1,566.2 414.8,562.3 415.6,558.9 416.3,561.1 417.1,563.4 417.8,563.2 418.6,563.4 419.3,562.5 420.1,564.1 420.8,564.3 421.6,563.5 422.3,566.0 423.1,561.2 423.8,565.2 424.6,563.7 425.3,567.0 426.1,567.3 426.8,564.0 427.6,563.6 428.3,563.9 429.1,566.3 429.8,566.6 430.6,564.1 431.3,564.9 432.1,566.9 432.8,564.6 433.6,560.9 434.3,562.1 435.1,563.0 435.8,564.8 436.6,563.4 437.3,570.0 438.1,564.2 438.8,568.1 439.6,564.4 440.3,568.3 441.1,565.9 441.8,567.8 442.6,568.4 443.3,567.7 444.1,566.1 444.8,562.6 445.6,560.1 446.3,558.0 447.1,566.0 447.8,565.7 448.6,565.3 449.3,561.5 450.1,568.5 450.8,562.4 451.6,565.2 452.3,560.8 453.1,562.6 453.8,565.9 454.6,565.5 455.3,561.7 456.1,563.5 456.8,565.6 457.6,557.9 458.3,564.9 459.1,557.9 459.8,564.7 460.6,563.1 461.3,565.3 462.1,562.6 462.8,562.9 463.6,562.9 464.3,561.8 465.1,563.1 465.8,561.9 466.6,562.8 467.3,565.1 468.1,563.4 468.8,566.1 469.6,565.5 470.3,568.3 471.1,562.2 471.8,564.9 472.6,566.6 473.3,565.5 474.1,566.0 474.8,566.4 475.6,560.8 476.3,565.3 477.1,564.5 477.8,563.3 478.6,561.4 479.3,564.1 480.1,563.6 480.8,567.5 481.6,566.4 482.3,563.4 483.1,562.5 483.8,563.0 484.6,564.6 485.3,563.5 486.1,568.6 486.8,563.1 487.6,565.3 488.3,565.9 489.1,566.1 489.8,563.4 490.6,564.4 491.3,564.9 492.1,564.8 492.8,562.9 493.6,563.1 494.3,563.8 495.1,566.8 495.8,561.2 496.6,564.6 497.3,566.1 498.1,557.6 498.8,565.8 499.6,565.7 500.3,563.0 501.1,564.9 501.8,565.9 502.6,562.2 503.3,563.7 504.1,561.3 504.8,562.0 505.6,563.2 506.3,563.1 507.1,566.4 507.8,562.9 508.6,561.6 509.3,565.6 510.1,565.8 510.8,565.0 511.6,564.3 512.3,563.3 513.0,563.4 513.8,567.2 514.5,565.8 515.3,564.5 516.0,565.0 516.8,563.5 517.5,562.4 518.3,563.1 519.0,563.9 519.8,561.0 520.5,561.3 521.3,560.8 522.0,563.1 522.8,565.0 523.5,559.1 524.3,561.8 525.0,560.9 525.8,562.8 526.5,561.4 527.3,561.7 528.0,561.4 528.8,567.3 529.5,563.1 530.3,562.0 531.0,562.3 531.8,564.7 532.5,564.8 533.3,563.5 534.0,559.5 534.8,564.8 535.5,564.9 536.3,564.4 537.0,564.1 537.8,563.6 538.5,565.8 539.3,563.4 540.0,566.0 540.8,563.5 541.5,563.9 542.3,564.1 543.0,563.9 543.8,564.0 544.5,566.2 545.3,567.7 546.0,563.6 546.8,563.0 547.5,567.1 548.3,564.2 549.0,565.1 549.8,566.0 550.5,565.7 551.3,562.3 552.0,565.7 552.8,564.8 553.5,559.2 554.3,562.6 555.0,560.7 555.8,563.6 556.5,562.8 557.3,561.6 558.0,562.3 558.8,563.6 559.5,563.1 560.3,561.5 561.0,567.0 561.8,564.0 562.5,561.1 563.3,563.4 564.0,563.8 564.8,561.5 565.5,563.6 566.3,559.6 567.0,559.4 567.8,564.0 568.5,564.6 569.3,565.4 570.0,563.2 570.8,562.4 571.5,563.9 572.3,564.3 573.0,565.3 573.8,566.2 574.5,565.4 575.3,563.1 576.0,564.2 576.8,561.9 577.5,565.9 578.3,565.8 579.0,566.9 579.8,565.7 580.5,567.8 581.3,563.8 582.0,565.7 582.8,564.7 583.5,564.8 584.3,562.1 585.0,563.8 585.8,561.4 586.5,564.3 587.3,563.5 588.0,564.8 588.8,561.2 589.5,563.4 590.3,563.7 591.0,560.0 591.8,566.9 592.5,564.8 593.3,562.5 594.0,567.2 594.8,566.1 595.5,559.2 596.3,563.0 597.0,562.6 597.8,564.0 598.5,562.4 599.3,563.9 600.0,564.7 600.8,560.3 601.5,565.1 602.3,567.6 603.0,565.4 603.8,567.3 604.5,568.2 605.3,565.9 606.0,566.2 606.8,566.3 607.5,564.9 608.3,570.5 609.0,566.2 609.8,566.1 610.5,566.6 611.3,567.2 612.0,558.6 612.8,562.2 613.5,564.0 614.3,564.4 615.0,561.5 615.8,561.4 616.5,565.4 617.3,565.5 618.0,563.9 618.8,564.1 619.5,563.6 620.3,562.8 621.0,563.3 621.8,565.0 622.5,564.3 623.3,566.2 624.0,562.0 624.8,561.2 625.5,565.2 626.3,562.3 627.0,563.5 627.8,564.1 628.5,561.8 629.3,561.3 630.0,564.5 630.8,559.2 631.5,565.2 632.3,560.9 633.0,565.5 633.8,564.7 634.5,564.5 635.3,565.0 636.0,564.4 636.8,561.7 637.5,565.7 638.3,564.4 639.0,565.3 639.8,564.5 640.5,564.5 641.3,566.8 642.0,567.1 642.8,566.1 643.5,563.7 644.3,564.4 645.0,564.2 645.8,568.0 646.5,566.8 647.3,565.9 648.0,565.5 648.8,564.3 649.5,567.0 650.3,563.6 651.0,563.9 651.8,566.9 652.5,567.7 653.3,565.1 654.0,562.8 654.8,562.7 655.5,566.4 656.3,565.5 657.0,570.2 657.8,564.2 658.5,564.9 659.3,563.5 660.0,568.2 660.8,562.3 661.5,566.5 662.3,568.4 663.0,563.8 663.8,560.0 664.5,563.8 665.3,563.1 666.0,566.4 666.8,565.6 667.5,564.2 668.3,565.4 669.0,568.5 669.8,564.5 670.5,564.7 671.3,568.8 672.0,563.5 672.8,564.1 673.5,569.4 674.3,564.6 675.0,561.3 675.8,563.4 676.5,561.1 677.3,564.2 678.0,566.7 678.8,562.9 679.5,568.8 680.3,568.6 681.0,567.6 681.8,564.6 682.5,565.9 683.3,566.7 684.0,567.2 684.8,567.7 685.5,561.3 686.3,563.8 687.0,563.0 687.8,564.5 688.5,565.5 689.3,569.4 690.0,565.1 690.8,566.9 691.5,565.5 692.3,565.3 693.0,568.8 693.8,563.8 694.5,567.3 695.3,570.1 696.0,572.1 696.8,565.9 697.5,565.4 698.3,565.0 699.0,566.1 699.8,566.4 700.5,565.9 701.3,569.1 702.0,562.3 702.8,565.1 703.5,560.2 704.3,562.4 705.0,563.7 705.8,560.2 706.5,565.1 707.3,566.9 708.0,565.9 708.8,566.6 709.5,567.0 710.3,564.9 711.0,567.2 711.8,566.1 712.5,567.3 713.3,567.3 714.0,567.4 714.8,564.8 715.5,567.1 716.3,572.4 717.0,568.8 717.8,566.5 718.5,565.5 719.3,568.5 720.0,566.6 720.8,563.2 721.5,565.5 722.3,569.3 723.0,563.3 723.8,566.6 724.5,565.3 725.3,566.7 726.0,566.2 726.8,565.5 727.5,562.5 728.3,567.0 729.0,567.3 729.8,567.0 730.5,565.2 731.3,565.9 732.0,571.0 732.8,564.8 733.5,566.2 734.3,564.4 735.0,566.2 735.8,567.0 736.5,568.7 737.3,566.8 738.0,566.4 738.8,567.0 739.5,567.3 740.3,566.1 741.0,566.3 741.8,568.7 742.5,565.2 743.3,566.5 744.0,562.9 744.8,565.9 745.5,569.7 746.3,565.8 747.0,567.9 747.8,570.8 748.5,568.8 749.3,566.5 750.0,565.3 750.8,561.9 751.5,564.8 752.3,564.7 753.0,568.2 753.8,567.8 754.5,564.1 755.3,567.7 756.0,565.4 756.8,569.9 757.5,569.3 758.3,567.9 759.0,565.9 759.8,569.8 760.5,568.2 761.3,568.7 762.0,567.5 762.8,566.0 763.5,567.9 764.3,564.9 765.0,568.3 765.8,567.5 766.5,564.5 767.3,568.8 768.0,568.2 768.8,567.9 769.5,568.9 770.3,570.8 771.0,567.2 771.8,567.1 772.5,570.3 773.3,569.1 774.0,565.5 774.8,568.7 775.5,565.2 776.3,569.4 777.0,568.5 777.8,568.8 778.5,565.0 779.3,566.2 780.0,569.1 780.8,564.8 781.5,568.2 782.3,566.7 783.0,567.3 783.8,565.4 784.5,567.9 785.3,567.4 786.0,568.1 786.8,570.9 787.5,565.9 788.3,566.3 789.0,564.3 789.8,569.5 790.5,565.7 791.3,567.9 792.0,564.4 792.8,566.1 793.5,567.8 794.3,567.6 795.0,566.2 795.8,568.4 796.5,567.0 797.3,568.8 798.0,566.4 798.8,568.1 799.5,566.0 800.3,569.3 801.0,566.9 801.8,567.0 802.5,565.8 803.3,568.7 804.0,567.1 804.8,566.4 805.5,569.2 806.3,565.4 807.0,568.7 807.8,569.7 808.5,563.9 809.3,568.8 810.0,568.2 810.8,567.7 811.5,568.1 812.3,565.3 813.0,568.4 813.8,567.9 814.5,564.8 815.3,567.2 816.0,565.3 816.8,567.7 817.5,565.9 818.3,567.7 819.0,565.1 819.8,566.9 820.5,567.3 821.3,568.0 822.0,570.5 822.8,572.6 823.5,566.0 824.3,570.5 825.0,568.4 825.8,568.4 826.5,568.3 827.3,568.6 828.0,568.7 828.8,570.4 829.5,571.2 830.3,569.5 831.0,568.6 831.8,569.3 832.5,568.7 833.3,571.0 834.0,565.6 834.8,564.6 835.5,566.3 836.3,567.0 837.0,566.3 837.8,567.4 838.5,562.6 839.3,566.1 840.0,566.6 840.8,565.6 841.5,567.2 842.3,568.2 843.0,569.0 843.8,564.9 844.5,564.8 845.3,568.2 846.0,570.7 846.8,567.3 847.5,567.0 848.3,564.7 849.0,567.0 849.8,569.7 850.5,563.5 851.3,569.1 852.0,563.9 852.8,570.3 853.5,569.3 854.3,567.6 855.0,568.5 855.8,570.9 856.5,565.8 857.3,569.8 858.0,568.6 858.8,567.4 859.5,570.0 860.3,564.2 861.0,567.0 861.8,565.0 862.5,567.0 863.3,568.0 864.0,564.1 864.8,567.5 865.5,567.5 866.3,565.8 867.0,566.7 867.8,568.8 868.5,567.4 869.3,569.8 870.0,564.9 870.8,564.5 871.5,569.0 872.3,564.3 873.0,568.8 873.8,566.4 874.5,567.5 875.3,565.5 876.0,567.9 876.8,568.3 877.5,569.8 878.3,566.4 879.0,563.0 879.8,567.0 880.5,565.3 881.3,567.4 882.0,562.1 882.8,565.5 883.5,563.8 884.3,564.4 885.0,566.2 885.8,566.4 886.5,567.7 887.3,566.1 888.0,566.5 888.8,566.2 889.5,563.7 890.3,568.0 891.0,564.0 891.8,564.0 892.5,565.3 893.3,562.7 894.0,562.6 894.8,558.3 895.5,560.7 896.3,559.7 897.0,560.5 897.8,562.7 898.5,559.8 899.3,561.3 900.0,561.7 900.8,563.3 901.5,566.2 902.3,563.7 903.0,560.3 903.8,561.9 904.5,559.1 905.3,558.7 906.0,559.0 906.8,556.8 907.5,555.0 908.3,554.0 909.0,555.3 909.8,555.7 910.5,556.0 911.3,552.7 912.0,553.9 912.8,552.9 913.5,551.2 914.3,555.9 915.0,548.6 915.8,547.1 916.5,547.5 917.3,548.6 918.0,543.2 918.8,544.4 919.5,537.7 920.3,536.3 921.0,533.9 921.8,530.5 922.5,527.5 923.3,522.9 924.0,517.9 924.8,510.9 925.5,507.6 926.3,499.6 927.0,491.8 927.8,484.6 928.5,473.1 929.3,461.4 930.0,451.5 930.8,434.3 931.5,417.5 932.3,404.3 933.0,387.1 933.8,372.9 934.5,356.6 935.3,341.1 936.0,327.1 936.8,314.8 937.5,303.9 938.3,296.2 939.0,291.9 939.8,292.4 940.5,298.4 941.3,306.5 942.0,316.4 942.8,331.9 943.5,349.9 944.3,364.9 945.0,379.4 945.8,397.7 946.5,414.1 947.3,425.4 948.0,444.8 948.8,456.6 949.5,465.7 950.3,478.8 951.0,486.9 951.8,496.4 952.5,501.2 953.3,508.9 954.0,515.5 954.8,521.1 955.5,525.1 956.3,527.1 957.0,531.4 957.8,537.2 958.5,538.1 959.3,546.5 960.0,545.5 960.8,544.2 961.5,546.5 962.3,541.7 963.0,551.3 963.8,552.1 964.5,549.8 965.3,550.8 966.0,552.1 966.8,555.4 967.5,556.7 968.3,553.9 969.0,555.7 969.8,558.1 970.5,558.3 971.3,558.1 972.0,560.2 972.8,558.2 973.5,557.8 974.3,562.1 975.0,562.4 975.8,563.6 976.5,560.9 977.3,560.0 978.0,561.7 978.8,560.6 979.5,561.8 980.3,560.0 981.0,564.6 981.8,563.3 982.5,565.6 983.3,562.5 984.0,562.5 984.8,566.3 985.5,563.1 986.3,563.6 987.0,563.7 987.8,562.5 988.5,566.6 989.3,568.8 990.0,566.9 990.8,567.4 991.5,565.4 992.3,564.3 993.0,568.3 993.8,564.2 994.5,560.5 995.3,564.9 996.0,568.4 996.8,567.3 997.5,566.3 998.3,564.9 999.0,565.4 999.8,567.9 1000.5,567.8 1001.3,566.5 1002.0,570.1 1002.8,567.2 1003.5,565.8 1004.3,568.4 1005.0,570.6 1005.8,569.8 1006.5,570.0 1007.3,566.8 1008.0,568.8 1008.8,568.1 1009.5,567.2 1010.3,565.5 1011.0,569.9 1011.8,568.2 1012.5,567.4 1013.3,569.9 1014.0,573.4 1014.8,566.6 1015.5,570.0 1016.3,572.9 1017.0,572.8 1017.8,567.5 1018.5,568.2 1019.3,565.3 1020.0,568.6 1020.8,565.7 1021.5,566.3 1022.3,570.4 1023.0,565.8 1023.8,564.9 1024.5,568.1 1025.3,568.4 1026.0,568.5 1026.8,570.2 1027.5,567.0 1028.3,568.0 1029.0,569.7 1029.8,568.1 1030.5,571.5 1031.3,571.1 1032.0,569.7 1032.8,569.6 1033.5,570.2 1034.3,571.0 1035.0,567.0 1035.8,568.2 1036.5,569.1 1037.3,569.1 1038.0,569.5 1038.8,569.6 1039.5,570.8 1040.3,570.1 1041.0,571.0 1041.8,570.8 1042.5,569.9 1043.3,569.0 1044.0,568.2 1044.8,570.6 1045.5,568.2 1046.3,569.1 1047.0,570.3 1047.8,569.4 1048.5,566.4 1049.3,568.0 1050.0,576.1 1050.8,566.8 1051.5,572.0 1052.3,568.1 1053.0,570.3 1053.8,572.3 1054.5,568.8 1055.3,572.5 1056.0,567.1 1056.8,570.9 1057.5,570.3 1058.3,572.3 1059.0,572.7 1059.8,573.3 1060.5,573.0 1061.3,570.1 1062.0,569.0 1062.8,571.2 1063.5,569.3 1064.3,566.3 1065.0,564.5 1065.8,569.0 1066.5,568.9 1067.3,569.6 1068.0,569.7 1068.8,566.4 1069.5,569.6 1070.3,567.0 1071.0,569.8 1071.8,569.1 1072.5,572.1 1073.3,570.0 1074.0,568.5 1074.8,567.4 1075.5,569.8 1076.3,570.8 1077.0,571.2 1077.8,565.7 1078.5,568.2 1079.3,571.3 1080.0,570.1 1080.8,572.0 1081.5,571.0 1082.3,573.2 1083.0,571.3 1083.8,568.0 1084.5,569.4 1085.3,571.2 1086.0,568.3 1086.8,570.2 1087.5,571.3 1088.3,572.1 1089.0,571.6 1089.8,567.3 1090.5,571.9 1091.3,568.2 1092.0,569.8 1092.8,568.1 1093.5,571.1 1094.3,569.2 1095.0,569.8 1095.8,570.2 1096.5,569.4 1097.3,568.4 1098.0,572.1 1098.8,570.6 1099.5,571.0 1100.3,564.4 1101.0,566.2 1101.8,572.8 1102.5,571.1 1103.3,564.2 1104.0,570.8 1104.8,570.2 1105.5,568.4 1106.3,569.4 1107.0,573.4 1107.8,568.9 1108.5,571.0 1109.3,567.2 1110.0,567.4 1110.8,574.3 1111.5,571.2 1112.3,569.2 1113.0,569.2 1113.8,569.2 1114.5,567.7 1115.3,570.2 1116.0,570.4 1116.8,568.3 1117.5,568.8 1118.3,566.4 1119.0,569.1 1119.8,565.1 1120.5,568.4 1121.3,571.1 1122.0,567.9 1122.8,573.2 1123.5,566.3 1124.3,567.7 1125.0,568.0 1125.8,569.4 1126.5,569.7 1127.3,567.7 1128.0,564.5 1128.8,569.5 1129.5,567.8 1130.3,567.8 1131.0,563.1 1131.8,566.3 1132.5,564.6 1133.3,566.1 1134.0,566.9 1134.8,561.6 1135.5,562.3 1136.3,561.8 1137.0,560.1 1137.8,562.2 1138.5,561.7 1139.3,558.7 1140.0,558.2 1140.8,559.6 1141.5,555.2 1142.3,558.2 1143.0,557.8 1143.8,556.4 1144.5,551.5 1145.3,554.8 1146.0,553.4 1146.8,545.5 1147.5,548.5 1148.3,545.3 1149.0,541.8 1149.8,535.8 1150.5,536.0 1151.3,528.8 1152.0,527.5 1152.8,525.4 1153.5,521.1 1154.3,515.1 1155.0,513.2 1155.8,508.5 1156.5,505.6 1157.3,500.0 1158.0,495.9 1158.8,494.1 1159.5,490.2 1160.3,492.8 1161.0,494.3 1161.8,489.9 1162.5,490.8 1163.3,487.2 1164.0,490.2 1164.8,490.6 1165.5,496.6 1166.3,498.5 1167.0,499.7 1167.8,507.9 1168.5,508.9 1169.3,514.2 1170.0,518.2 1170.8,522.9 1171.5,526.3 1172.3,527.5 1173.0,530.4 1173.8,532.9 1174.5,535.2 1175.3,543.3 1176.0,541.7 1176.8,547.8 1177.5,546.0 1178.3,548.4 1179.0,553.4 1179.8,553.1 1180.5,553.6 1181.3,559.4 1182.0,555.5 1182.8,557.6 1183.5,561.3 1184.3,563.8 1185.0,561.9 1185.8,561.1 1186.5,567.1 1187.3,563.7 1188.0,563.1 1188.8,564.8 1189.5,567.1 1190.3,560.4 1191.0,563.8 1191.8,567.9 1192.5,567.2 1193.3,566.7 1194.0,566.5 1194.8,568.0 1195.5,569.1 1196.3,563.8 1197.0,566.9 1197.8,569.4 1198.5,567.5 1199.3,566.0 1200.0,568.1 1200.8,566.7 1201.5,569.8 1202.3,570.4 1203.0,568.3 1203.8,569.6 1204.5,570.8 1205.3,572.8 1206.0,572.8 1206.8,571.9 1207.5,572.5 1208.3,574.6 1209.0,573.4 1209.8,573.1 1210.5,570.2 1211.3,572.3 1212.0,572.7 1212.8,571.9 1213.5,569.9 1214.3,568.5 1215.0,572.6 1215.8,572.6 1216.5,571.7 1217.3,569.9 1218.0,570.6 1218.8,571.2 1219.5,572.6 1220.3,571.5 1221.0,569.8 1221.8,570.3 1222.5,569.1 1223.3,574.1 1224.0,569.7 1224.8,573.4 1225.5,571.3 1226.3,573.9 1227.0,569.3 1227.8,572.7 1228.5,570.3 1229.3,570.6 1230.0,571.2 1230.8,570.5 1231.5,571.6 1232.3,572.9 1233.0,576.1 1233.8,572.5 1234.5,570.6 1235.3,574.2 1236.0,575.5 1236.8,568.7 1237.5,573.8 1238.3,570.6 1239.0,569.8 1239.8,574.1 1240.5,575.5 1241.3,576.2 1242.0,573.2 1242.8,572.5 1243.5,573.5 1244.3,574.2 1245.0,574.7 1245.8,575.4 1246.5,573.7 1247.3,573.9 1248.0,573.2 1248.8,571.4 1249.5,573.3 1250.3,575.0 1251.0,573.9 1251.8,569.0 1252.5,575.3 1253.3,571.3 1254.0,576.8 1254.8,576.6 1255.5,574.2 1256.3,579.4 1257.0,571.6 1257.8,572.7 1258.5,571.8 1259.3,573.6 1260.0,573.1 1260.8,573.4 1261.5,573.1 1262.3,575.5 1263.0,573.0 1263.8,570.9 1264.5,573.3 1265.3,574.0 1266.0,574.6 1266.8,571.6 1267.5,572.5 1268.3,572.9 1269.0,572.0 1269.8,567.9 1270.5,572.9 1271.3,569.6 1272.0,573.8 1272.8,572.3 1273.5,574.1 1274.3,574.6 1275.0,577.9 1275.8,577.8 1276.5,578.0 1277.3,574.1 1278.0,572.8 1278.8,574.9 1279.5,571.4 1280.3,572.8 1281.0,571.5 1281.8,572.7 1282.5,574.1 1283.3,570.8 1284.0,573.1 1284.8,572.9 1285.5,572.9 1286.3,573.3 1287.0,569.9 1287.8,572.7 1288.5,572.5 1289.3,567.7 1290.0,576.1 1290.8,574.9 1291.5,575.1 1292.3,573.0 1293.0,571.1 1293.8,574.6 1294.5,572.6 1295.3,577.2 1296.0,577.1 1296.8,573.2 1297.5,576.4 1298.3,575.4 1299.0,573.9 1299.8,571.2 1300.5,574.8 1301.3,575.2 1302.0,575.1 1302.8,570.9 1303.5,573.4 1304.3,573.3 1305.0,572.8 1305.8,572.3 1306.5,577.0 1307.3,574.5 1308.0,572.9 1308.8,574.4 1309.5,575.4 1310.3,575.0 1311.0,574.2 1311.8,574.9 1312.5,572.2 1313.3,574.6 1314.0,572.2 1314.8,573.6 1315.5,575.3 1316.3,572.3 1317.0,575.3 1317.8,575.9 1318.5,576.3 1319.3,571.6 1320.0,567.8 1320.8,573.1 1321.5,578.6 1322.3,575.8 1323.0,574.7 1323.8,575.1 1324.5,575.7 1325.3,574.5 1326.0,578.7 1326.8,574.7 1327.5,572.1 1328.3,572.0 1329.0,573.8 1329.8,573.8 1330.5,575.1 1331.3,575.1 1332.0,575.0 1332.8,571.3 1333.5,573.6 1334.3,571.5 1335.0,573.2 1335.8,571.3 1336.5,575.6 1337.3,576.0 1338.0,575.2 1338.8,572.5 1339.5,576.2 1340.3,575.1 1341.0,572.3 1341.8,575.7 1342.5,576.1 1343.3,575.5 1344.0,571.5 1344.8,575.8 1345.5,576.3 1346.3,573.6 1347.0,576.3 1347.8,575.0 1348.5,575.6 1349.3,570.6 1350.0,572.9 1350.8,574.0 1351.5,570.3 1352.3,572.8 1353.0,575.7 1353.8,570.2 1354.5,575.5 1355.3,574.8 1356.0,571.8 1356.8,572.1 1357.5,572.1 1358.3,574.3 1359.0,569.7 1359.8,574.9 1360.5,571.1 1361.3,573.1 1362.0,573.0 1362.8,575.1 1363.5,572.0 1364.3,572.3 1365.0,575.6 1365.8,576.3 1366.5,573.1 1367.3,572.4 1368.0,573.3 1368.8,572.8 1369.5,572.6 1370.3,570.6 1371.0,568.5 1371.8,572.7 1372.5,572.2 1373.3,574.2 1374.0,574.2 1374.8,576.5 1375.5,571.3 1376.3,573.4 1377.0,570.5 1377.8,573.6 1378.5,574.5 1379.3,572.8 1380.0,574.3 1380.8,579.3 1381.5,574.0 1382.3,577.8 1383.0,574.9 1383.8,576.7 1384.5,570.2 1385.3,572.0 1386.0,573.5 1386.8,576.4 1387.5,572.8 1388.3,570.5 1389.0,572.1 1389.8,574.4 1390.5,570.5 1391.3,573.5 1392.0,573.2 1392.8,573.0 1393.5,574.6 1394.3,572.8 1395.0,575.1 1395.8,575.2 1396.5,577.2 1397.3,574.8 1398.0,574.1 1398.8,572.3 1399.5,573.3 1400.3,572.0 1401.0,576.7 1401.8,570.3 1402.5,575.1 1403.3,575.2 1404.0,575.6 1404.8,573.7 1405.5,578.4 1406.3,574.0 1407.0,571.8 1407.8,573.4 1408.5,573.2 1409.3,576.8 1410.0,574.4 1410.8,572.9 1411.5,572.9 1412.3,574.2 1413.0,573.6 1413.8,574.1 1414.5,576.0 1415.3,571.7 1416.0,572.9 1416.8,574.4 1417.5,571.3 1418.3,575.0 1419.0,576.2 1419.8,574.0 1420.5,575.1 1421.3,572.0 1422.0,573.6 1422.8,574.0 1423.5,573.3 1424.3,575.5 1425.0,572.5 1425.8,576.0 1426.5,572.4 1427.3,578.5 1428.0,575.6 1428.8,573.6 1429.5,570.6 1430.3,571.4 1431.0,568.4 1431.8,574.7 1432.5,572.6 1433.3,572.2 1434.0,573.8 1434.8,571.3 1435.5,573.2 1436.3,574.5 1437.0,575.8 1437.8,577.9 1438.5,572.4 1439.3,575.3 1440.0,570.8 1440.8,571.5 1441.5,573.9 1442.3,573.0 1443.0,570.6 1443.8,573.4 1444.5,577.2 1445.3,572.5 1446.0,572.7 1446.8,576.5 1447.5,575.0 1448.3,573.4 1449.0,575.5 1449.8,573.3 1450.5,573.0 1451.3,575.0 1452.0,572.6 1452.8,575.4 1453.5,576.7 1454.3,572.6 1455.0,572.7 1455.8,572.8 1456.5,574.1 1457.3,572.9 1458.0,574.6 1458.8,576.0 1459.5,572.8 1460.3,577.1 1461.0,576.7 1461.8,575.8 1462.5,572.4 1463.3,578.6 1464.0,571.7 1464.8,574.9 1465.5,570.0 1466.3,573.6 1467.0,572.3 1467.8,572.6 1468.5,572.9 1469.3,572.2 1470.0,575.0 1470.8,574.8 1471.5,576.3 1472.3,573.8 1473.0,576.3 1473.8,576.6 1474.5,573.0 1475.3,576.6 1476.0,576.9 1476.8,571.9 1477.5,572.1 1478.3,577.9 1479.0,574.3 1479.8,573.5 1480.5,572.2 1481.3,575.1 1482.0,573.2 1482.8,574.8 1483.5,574.5 1484.3,575.1 1485.0,575.2 1485.8,573.4 1486.5,574.5 1487.3,574.6 1488.0,572.8 1488.8,571.8 1489.5,573.4 1490.3,575.5 1491.0,572.6 1491.8,572.3 1492.5,573.9 1493.3,572.7 1494.0,573.9 1494.8,573.9 1495.5,573.1 1496.3,575.0 1497.0,572.8 1497.8,572.9 1498.5,571.2 1499.3,572.7 1500.0,574.4 1500.8,576.0 1501.5,579.3 1502.3,573.6 1503.0,573.1 1503.8,577.5 1504.5,571.5 1505.3,575.7 1506.0,576.1 1506.8,577.2 1507.5,574.1 1508.3,574.8 1509.0,571.4 1509.8,572.8 1510.5,574.2 1511.3,573.2 1512.0,572.9 1512.8,576.0 1513.5,571.5 1514.3,571.0 1515.0,571.5 1515.8,572.9 1516.5,572.6 1517.3,573.9 1518.0,573.3 1518.8,577.7 1519.5,573.6 1520.3,574.7 1521.0,575.6 1521.8,578.3 1522.5,573.6 1523.3,572.6 1524.0,574.9 1524.8,572.1 1525.5,569.7 1526.3,569.3 1527.0,571.4 1527.8,569.9 1528.5,574.3 1529.3,573.3 1530.0,575.6 1530.8,573.2 1531.5,572.3 1532.3,574.3 1533.0,574.1 1533.8,571.3 1534.5,575.8 1535.3,573.1 1536.0,574.1 1536.8,571.6 1537.5,574.3 1538.3,576.3 1539.0,572.2 1539.8,567.7 1540.5,573.0 1541.3,572.6 1542.0,574.2 1542.8,570.4 1543.5,575.1 1544.3,573.9 1545.0,573.0 1545.8,571.5 1546.5,574.1 1547.3,575.8 1548.0,574.8 1548.8,574.9 1549.5,574.3 1550.3,574.8 1551.0,571.9 1551.8,576.9 1552.5,576.1 1553.3,573.8 1554.0,574.3 1554.8,571.8 1555.5,572.7 1556.3,575.0 1557.0,572.8 1557.8,571.9 1558.5,573.2 1559.3,574.6 1560.0,571.5 1560.8,574.1 1561.5,574.1 1562.3,574.0 1563.0,573.8 1563.8,572.9 1564.5,572.2 1565.3,574.3 1566.0,567.6 1566.8,574.6 1567.5,570.0 1568.3,571.8 1569.0,572.8 1569.8,569.3 1570.5,573.5 1571.3,574.7 1572.0,571.0 1572.8,572.7 1573.5,574.6 1574.3,574.7 1575.0,575.2 1575.8,570.8 1576.5,573.2 1577.3,575.8 1578.0,571.2 1578.8,571.6 1579.5,573.6 1580.3,573.7 1581.0,571.2 1581.8,571.7 1582.5,573.0 1583.3,573.2 1584.0,576.1 1584.8,574.3 1585.5,572.9 1586.3,572.2 1587.0,573.7 1587.8,577.2 1588.5,572.2 1589.3,571.4 1590.0,570.9 1590.8,573.2 1591.5,571.3 1592.3,570.2 1593.0,572.0 1593.8,571.9 1594.5,574.9 1595.3,575.9 1596.0,572.3 1596.8,572.2 1597.5,574.8 1598.3,572.9 1599.0,572.3 1599.8,574.6 1600.5,571.6 1601.3,574.5 1602.0,577.2 1602.8,571.1 1603.5,574.5 1604.3,573.5 1605.0,579.0 1605.8,575.4 1606.5,572.0 1607.3,573.1 1608.0,571.7 1608.8,574.9 1609.5,571.4 1610.3,571.7 1611.0,574.6 1611.8,571.0 1612.5,571.4 1613.3,571.5 1614.0,571.8 1614.8,573.5 1615.5,573.4 1616.3,574.9 1617.0,573.9 1617.8,576.0 1618.5,575.1 1619.3,576.1 1620.0,572.4 1620.8,571.2 1621.5,577.7 1622.3,573.7 1623.0,569.4 1623.8,572.1 1624.5,574.5 1625.3,575.4 1626.0,577.4 1626.8,575.4 1627.5,574.0 1628.3,572.7 1629.0,571.0 1629.8,573.0 1630.5,572.5 1631.3,574.7 1632.0,576.9 1632.8,576.3 1633.5,574.0 1634.3,577.2 1635.0,579.5 1635.8,574.3 1636.5,573.4 1637.3,573.1 1638.0,573.1 1638.8,568.1 1639.5,569.3 1640.3,567.7 1641.0,570.5 1641.8,571.6 1642.5,570.2 1643.3,573.4 1644.0,572.3 1644.8,572.9 1645.5,572.9 1646.3,571.2 1647.0,576.2 1647.8,573.6 1648.5,570.4 1649.3,574.3 1650.0,574.8 1650.8,571.1 1651.5,573.5 1652.3,576.1 1653.0,574.4 1653.8,573.7 1654.5,573.8 1655.3,574.4 1656.0,571.9 1656.8,573.0 1657.5,574.3 1658.3,573.8 1659.0,576.2 1659.8,570.7 1660.5,577.4 1661.3,573.0 1662.0,572.7 1662.8,573.8 1663.5,575.7 1664.3,573.5 1665.0,576.2 1665.8,575.9 1666.5,574.0 1667.3,573.6 1668.0,573.6 1668.8,574.3 1669.5,571.4 1670.3,576.2 1671.0,573.9 1671.8,574.1 1672.5,572.5 1673.3,572.5 1674.0,576.1 1674.8,570.1 1675.5,573.7 1676.3,571.9 1677.0,570.4 1677.8,574.5 1678.5,571.8 1679.3,574.5 1680.0,572.7 1680.8,569.7 1681.5,573.2 1682.3,571.3 1683.0,573.0 1683.8,572.9 1684.5,574.3 1685.3,573.7 1686.0,572.8 1686.8,572.6 1687.5,571.3 1688.3,570.2 1689.0,574.6 1689.8,571.3 1690.5,572.3 1691.3,574.1 1692.0,574.2 1692.8,574.0 1693.5,571.7 1694.3,572.9 1695.0,573.1 1695.8,573.1 1696.5,570.8 1697.3,573.6 1698.0,575.0 1698.8,573.6 1699.5,574.1 1700.3,569.9 1701.0,572.3 1701.8,578.1 1702.5,572.1 1703.3,574.7 1704.0,575.7 1704.8,575.2 1705.5,573.7 1706.3,573.2 1707.0,571.2 1707.8,576.5 1708.5,573.9 1709.3,575.8 1710.0,571.3 1710.8,570.8 1711.5,570.8 1712.3,575.8 1713.0,573.7 1713.8,573.6 1714.5,574.3 1715.3,574.4 1716.0,573.8 1716.8,572.1 1717.5,571.4 1718.3,573.2 1719.0,574.8 1719.8,572.2 1720.5,573.4 1721.3,572.7 1722.0,574.2 1722.8,571.5 1723.5,576.9 1724.3,576.8 1725.0,573.8 1725.8,573.3 1726.5,570.5 1727.3,575.0 1728.0,573.6 1728.8,573.6 1729.5,570.4 1730.3,574.4 1731.0,576.5 1731.8,571.5 1732.5,573.1 1733.3,575.8 1734.0,575.0 1734.8,575.1 1735.5,579.3 1736.3,576.6 1737.0,574.5 1737.8,569.3 1738.5,573.9 1739.3,570.1 1740.0,572.0 1740.8,576.5 1741.5,572.4 1742.3,574.0 1743.0,576.6 1743.8,572.7 1744.5,572.8 1745.3,571.5 1746.0,572.6 1746.8,570.4 1747.5,573.4 1748.3,571.6 1749.0,573.8 1749.8,574.2 1750.5,573.1 1751.3,573.6 1752.0,572.8 1752.8,574.5 1753.5,575.3 1754.3,574.6 1755.0,576.2 1755.8,574.1 1756.5,573.6 1757.3,574.4 1758.0,570.7 1758.8,572.5 1759.5,569.8 1760.3,573.7 1761.0,574.9 1761.8,571.1 1762.5,572.2 1763.3,572.5 1764.0,575.7 1764.8,574.4 1765.5,576.1 1766.3,575.1 1767.0,577.1 1767.8,570.4 1768.5,567.3 1769.3,575.7 1770.0,577.4 1770.8,571.1 1771.5,571.2 1772.3,575.1 1773.0,576.7 1773.8,571.1 1774.5,571.9 1775.3,574.8 1776.0,574.1 1776.8,573.7 1777.5,574.5 1778.3,571.0 1779.0,571.5 1779.8,575.9 1780.5,570.4 1781.3,574.8 1782.0,572.5 1782.8,575.9 1783.5,573.4 1784.3,573.4 1785.0,575.7 1785.8,574.4 1786.5,573.8 1787.3,569.7 1788.0,576.9 1788.8,573.7 1789.5,575.9 1790.3,573.3 1791.0,572.0 1791.8,576.3 1792.5,573.9 1793.3,573.4 1794.0,571.3 1794.8,576.2 1795.5,575.3 1796.3,571.8 1797.0,575.0 1797.8,574.6 1798.5,579.1 1799.3,573.8 1800.0,577.6 1800.8,570.2 1801.5,570.9 1802.3,575.1 1803.0,575.4 1803.8,574.5 1804.5,577.9 1805.3,574.2 1806.0,570.6 1806.8,576.3 1807.5,573.6 1808.3,572.2 1809.0,574.6 1809.8,574.7 1810.5,573.1 1811.3,575.5 1812.0,574.9 1812.8,574.0 1813.5,575.6 1814.3,570.9 1815.0,572.8 1815.8,572.8 1816.5,573.4 1817.3,576.6 1818.0,573.9 1818.8,573.0 1819.5,571.2 1820.3,572.5 1821.0,571.5 1821.8,571.3 1822.5,573.0 1823.3,569.9 1824.0,571.4 1824.8,574.3 1825.5,572.7 1826.3,570.8 1827.0,571.7 1827.8,571.5 1828.5,575.3 1829.3,575.4 1830.0,576.4 1830.8,573.0 1831.5,573.7 1832.3,575.6 1833.0,571.8 1833.8,572.5 1834.5,575.0 1835.3,571.9 1836.0,571.2 1836.8,573.3 1837.5,571.6 1838.3,570.7 1839.0,572.3 1839.8,569.2 1840.5,573.9 1841.3,573.2 1842.0,573.7 1842.8,573.7 1843.5,574.9 1844.3,570.8 1845.0,573.9 1845.8,576.2 1846.5,572.2 1847.3,571.8 1848.0,572.0 1848.8,570.5 1849.5,577.6 1850.3,572.3 1851.0,574.1 1851.8,571.0 1852.5,571.4 1853.3,571.0 1854.0,570.0 1854.8,571.8 1855.5,574.8 1856.3,571.5 1857.0,574.8 1857.8,576.7 1858.5,574.2 1859.3,575.8 1860.0,576.2 1860.8,573.1 1861.5,573.5 1862.3,569.8 1863.0,573.4 1863.8,576.1 1864.5,574.2 1865.3,573.1 1866.0,572.3 1866.8,571.3 1867.5,571.8 1868.3,576.5 1869.0,574.6 1869.8,572.8 1870.5,571.8 1871.3,569.3 1872.0,574.0 1872.8,571.3 1873.5,571.4 1874.3,571.5 1875.0,574.4 1875.8,572.3 1876.5,574.9 1877.3,570.5 1878.0,570.4 1878.8,569.5 1879.5,571.9 1880.3,569.4 1881.0,570.6 1881.8,574.1 1882.5,572.8 1883.3,571.3 1884.0,571.5 1884.8,566.0 1885.5,567.8 1886.3,573.0 1887.0,569.9 1887.8,570.3 1888.5,573.4 1889.3,569.5 1890.0,572.2 1890.8,571.4 1891.5,572.3 1892.3,571.9 1893.0,575.0 1893.8,572.9 1894.5,574.2 1895.3,569.7 1896.0,570.5 1896.8,571.0 1897.5,573.1 1898.3,571.3 1899.0,569.1 1899.8,566.7 1900.5,568.8 1901.3,566.2 1902.0,566.0 1902.8,566.3 1903.5,566.2 1904.3,565.2 1905.0,568.0 1905.8,565.0 1906.5,562.6 1907.3,563.8 1908.0,559.9 1908.8,562.6 1909.5,562.1 1910.3,563.0 1911.0,556.6 1911.8,559.2 1912.5,557.6 1913.3,560.5 1914.0,554.2 1914.8,551.7 1915.5,549.6 1916.3,547.2 1917.0,545.3 1917.8,544.4 1918.5,546.5 1919.3,543.0 1920.0,542.6 1920.8,541.0 1921.5,542.3 1922.3,543.1 1923.0,542.9 1923.8,539.6 1924.5,542.0 1925.3,547.3 1926.0,544.9 1926.8,545.2 1927.5,543.5 1928.3,545.0 1929.0,545.7 1929.8,549.9 1930.5,552.0 1931.3,551.7 1932.0,554.3 1932.8,556.8 1933.5,557.9 1934.3,560.2 1935.0,556.5 1935.8,560.9 1936.5,562.6 1937.3,562.8 1938.0,561.2 1938.8,561.5 1939.5,568.3 1940.3,564.9 1941.0,567.0 1941.8,565.9 1942.5,566.0 1943.3,568.6 1944.0,569.9 1944.8,568.5 1945.5,568.4 1946.3,570.8 1947.0,569.3 1947.8,569.6 1948.5,569.4 1949.3,571.2 1950.0,570.9 1950.8,571.0 1951.5,571.1 1952.3,572.3 1953.0,574.1 1953.8,571.8 1954.5,570.5 1955.3,575.8 1956.0,573.8 1956.8,571.1 1957.5,568.9 1958.3,574.1 1959.0,570.5 1959.8,571.7 1960.5,567.0 1961.3,572.8 1962.0,573.5 1962.8,571.0 1963.5,570.8 1964.3,571.0 1965.0,569.2 1965.8,569.6 1966.5,573.8 1967.3,571.7 1968.0,572.5 1968.8,572.6 1969.5,574.5 1970.3,573.3 1971.0,574.4 1971.8,574.6 1972.5,572.4 1973.3,573.1 1974.0,574.1 1974.8,577.5 1975.5,574.1 1976.3,574.2 1977.0,571.5 1977.8,572.3 1978.5,573.7 1979.3,572.4 1980.0,572.6 1980.8,572.7 1981.5,575.2 1982.3,570.7 1983.0,574.2 1983.8,574.2 1984.5,573.7 1985.3,572.3 1986.0,573.9 1986.8,573.3 1987.5,578.9 1988.3,574.7 1989.0,574.8 1989.8,572.8 1990.5,579.3 1991.3,567.4 1992.0,577.9 1992.8,571.8 1993.5,572.3 1994.3,572.4 1995.0,567.4 1995.8,574.7 1996.5,569.2 1997.3,571.1 1998.0,574.4 1998.8,573.4 1999.5,569.4 2000.3,569.9 2001.0,572.3 2001.8,572.7 2002.5,573.6 2003.3,572.4 2004.0,574.9 2004.8,574.7 2005.5,573.6 2006.3,573.1 2007.0,575.1 2007.8,575.7 2008.5,573.9 2009.3,573.4 2010.0,575.0 2010.8,572.9 2011.5,574.5 2012.3,577.3 2013.0,572.1 2013.8,572.6 2014.5,570.5 2015.3,572.8 2016.0,575.7 2016.8,572.9 2017.5,574.5 2018.3,573.8 2019.0,572.2 2019.8,575.8 2020.5,573.1 2021.3,576.2 2022.0,573.8 2022.8,572.9 2023.5,575.8 2024.3,572.1 2025.0,572.0 2025.8,575.6 2026.5,574.3 2027.3,572.6 2028.0,573.6 2028.8,572.3 2029.5,575.8 2030.3,577.1 2031.0,578.2 2031.8,576.1 2032.5,576.9 2033.3,574.8 2034.0,573.1 2034.8,573.0 2035.5,574.7 2036.3,574.3 2037.0,574.2 2037.8,569.2 2038.5,573.7 2039.3,576.1 2040.0,573.7 2040.8,575.6 2041.5,574.0 2042.3,573.0 2043.0,575.5 2043.8,576.5 2044.5,574.8 2045.3,575.9 2046.0,572.1 2046.8,572.0 2047.5,570.9 2048.3,574.1 2049.1,579.7 2049.8,573.2 2050.6,571.8 2051.3,574.3 2052.1,574.3 2052.8,574.2 2053.6,572.6 2054.3,576.9 2055.1,573.4 2055.8,574.2 2056.6,572.0 2057.3,575.7 2058.1,577.9 2058.8,576.9 2059.6,573.1 2060.3,576.6 2061.1,573.4 2061.8,574.8 2062.6,574.6 2063.3,576.5 2064.1,576.1 2064.8,574.6 2065.6,574.9 2066.3,577.6 2067.1,572.3 2067.8,573.6 2068.6,577.8 2069.3,574.2 2070.1,572.0 2070.8,574.3 2071.6,574.7 2072.3,571.2 2073.1,572.8 2073.8,572.2 2074.6,574.7 2075.3,574.1 2076.1,572.7 2076.8,575.5 2077.6,573.2 2078.3,577.8 2079.1,576.4 2079.8,573.8 2080.6,574.7 2081.3,576.4"/>
<polyline fill="none" stroke="#0a64e4" stroke-width="2.4" stroke-linejoin="round" points="182.3,866.1 183.1,864.3 183.8,866.5 184.6,865.5 185.3,862.5 186.1,867.4 186.8,865.3 187.6,866.7 188.3,869.1 189.1,866.2 189.8,863.7 190.6,864.5 191.3,867.9 192.1,863.2 192.8,866.6 193.6,866.9 194.3,864.0 195.1,866.6 195.8,867.4 196.6,864.9 197.3,865.5 198.1,867.5 198.8,864.0 199.6,864.9 200.3,868.4 201.1,866.4 201.8,860.1 202.6,865.7 203.3,869.1 204.1,862.2 204.8,866.3 205.6,865.9 206.3,863.8 207.1,865.7 207.8,863.6 208.6,868.2 209.3,868.9 210.1,864.3 210.8,866.0 211.6,867.0 212.3,866.0 213.1,867.7 213.8,865.0 214.6,868.0 215.3,866.6 216.1,866.7 216.8,867.6 217.6,868.4 218.3,864.7 219.1,867.9 219.8,867.9 220.6,865.8 221.3,868.7 222.1,864.2 222.8,864.4 223.6,866.0 224.3,863.8 225.1,867.8 225.8,865.7 226.6,868.7 227.3,863.6 228.1,863.9 228.8,871.4 229.6,864.0 230.3,868.2 231.1,864.5 231.8,866.5 232.6,868.1 233.3,865.7 234.1,863.6 234.8,864.7 235.6,867.8 236.3,865.9 237.1,868.0 237.8,865.6 238.6,866.0 239.3,865.1 240.1,863.5 240.8,866.4 241.6,865.7 242.3,861.6 243.1,865.4 243.8,867.2 244.6,869.0 245.3,862.8 246.1,865.6 246.8,866.4 247.6,866.8 248.3,864.1 249.1,866.4 249.8,864.6 250.6,865.3 251.3,864.4 252.1,866.0 252.8,864.6 253.6,866.1 254.3,865.2 255.1,867.2 255.8,868.7 256.6,865.4 257.3,864.2 258.1,865.2 258.8,864.7 259.6,862.6 260.3,865.9 261.1,864.9 261.8,867.6 262.6,865.6 263.3,867.6 264.1,867.3 264.8,864.9 265.6,864.6 266.3,864.9 267.1,865.1 267.8,867.6 268.6,865.1 269.3,865.4 270.1,864.7 270.8,869.0 271.6,865.7 272.3,866.2 273.1,864.7 273.8,866.7 274.6,864.6 275.3,864.7 276.1,862.0 276.8,862.6 277.6,866.0 278.3,866.9 279.1,862.3 279.8,865.7 280.6,865.7 281.3,871.0 282.1,863.3 282.8,863.8 283.6,863.0 284.3,866.6 285.1,867.1 285.8,864.6 286.6,868.1 287.3,869.3 288.1,864.5 288.8,866.6 289.6,865.2 290.3,864.5 291.1,864.9 291.8,865.3 292.6,863.3 293.3,865.7 294.1,867.4 294.8,864.1 295.6,864.9 296.3,864.2 297.1,866.6 297.8,865.7 298.6,867.6 299.3,865.2 300.1,862.9 300.8,866.8 301.6,865.1 302.3,867.8 303.1,867.1 303.8,860.8 304.6,862.2 305.3,866.1 306.1,864.7 306.8,862.0 307.6,865.4 308.3,868.9 309.1,867.5 309.8,864.5 310.6,866.6 311.3,867.8 312.1,865.4 312.8,868.9 313.6,864.0 314.3,869.3 315.1,868.1 315.8,866.0 316.6,865.4 317.3,864.9 318.1,863.0 318.8,866.5 319.6,867.0 320.3,865.9 321.1,865.1 321.8,865.0 322.6,863.2 323.3,863.9 324.1,862.6 324.8,866.4 325.6,864.0 326.3,867.5 327.1,864.6 327.8,868.6 328.6,868.9 329.3,868.8 330.1,868.1 330.8,865.3 331.6,865.3 332.3,864.5 333.1,866.5 333.8,869.0 334.6,863.6 335.3,870.2 336.1,864.5 336.8,863.3 337.6,866.1 338.3,867.4 339.1,864.7 339.8,863.4 340.6,868.7 341.3,863.3 342.1,867.3 342.8,865.7 343.6,864.7 344.3,865.5 345.1,863.2 345.8,863.0 346.6,865.6 347.3,862.9 348.1,863.3 348.8,867.5 349.6,868.0 350.3,866.6 351.1,866.3 351.8,864.1 352.6,864.9 353.3,863.4 354.1,859.5 354.8,865.3 355.6,865.5 356.3,867.0 357.1,862.9 357.8,867.4 358.6,864.2 359.3,862.9 360.1,864.8 360.8,867.1 361.6,865.3 362.3,866.2 363.1,863.6 363.8,866.2 364.6,867.1 365.3,863.5 366.1,866.0 366.8,862.6 367.6,865.5 368.3,862.2 369.1,865.7 369.8,864.8 370.6,862.5 371.3,865.2 372.1,862.6 372.8,864.5 373.6,862.5 374.3,865.1 375.1,863.2 375.8,867.1 376.6,865.4 377.3,865.7 378.1,862.2 378.8,861.0 379.6,863.5 380.3,868.7 381.1,863.3 381.8,867.3 382.6,867.3 383.3,863.7 384.1,864.3 384.8,867.1 385.6,864.0 386.3,863.7 387.1,863.4 387.8,864.8 388.6,864.6 389.3,867.2 390.1,865.4 390.8,867.3 391.6,865.0 392.3,870.1 393.1,865.1 393.8,865.0 394.6,863.7 395.3,862.0 396.1,863.6 396.8,865.6 397.6,863.3 398.3,866.7 399.1,862.1 399.8,862.1 400.6,865.9 401.3,866.1 402.1,863.2 402.8,867.5 403.6,868.1 404.3,866.2 405.1,862.9 405.8,867.6 406.6,864.5 407.3,864.0 408.1,865.7 408.8,863.3 409.6,867.3 410.3,863.1 411.1,866.4 411.8,866.0 412.6,871.0 413.3,865.7 414.1,866.4 414.8,864.2 415.6,864.6 416.3,864.0 417.1,866.6 417.8,863.9 418.6,868.0 419.3,865.0 420.1,863.0 420.8,864.0 421.6,867.4 422.3,864.3 423.1,866.4 423.8,862.2 424.6,866.1 425.3,866.7 426.1,866.1 426.8,866.6 427.6,863.3 428.3,862.0 429.1,862.7 429.8,866.9 430.6,866.2 431.3,867.0 432.1,864.5 432.8,867.2 433.6,862.8 434.3,866.6 435.1,863.7 435.8,864.6 436.6,866.5 437.3,866.7 438.1,864.5 438.8,863.9 439.6,867.0 440.3,866.2 441.1,863.1 441.8,865.1 442.6,864.3 443.3,866.7 444.1,865.9 444.8,866.1 445.6,865.6 446.3,864.6 447.1,867.7 447.8,866.4 448.6,861.3 449.3,865.0 450.1,866.2 450.8,864.3 451.6,864.0 452.3,864.6 453.1,866.3 453.8,863.8 454.6,866.1 455.3,867.9 456.1,869.8 456.8,867.0 457.6,864.7 458.3,867.2 459.1,864.9 459.8,866.4 460.6,862.5 461.3,866.9 462.1,863.3 462.8,864.4 463.6,866.2 464.3,864.1 465.1,863.3 465.8,864.0 466.6,866.4 467.3,866.6 468.1,865.8 468.8,863.4 469.6,863.9 470.3,866.0 471.1,866.2 471.8,863.4 472.6,863.5 473.3,866.1 474.1,866.9 474.8,865.0 475.6,862.6 476.3,867.8 477.1,864.9 477.8,865.7 478.6,860.8 479.3,863.5 480.1,864.5 480.8,865.4 481.6,863.1 482.3,861.9 483.1,861.8 483.8,864.2 484.6,865.6 485.3,865.6 486.1,861.9 486.8,863.9 487.6,865.1 488.3,867.3 489.1,866.4 489.8,865.8 490.6,862.1 491.3,867.2 492.1,865.0 492.8,865.5 493.6,863.8 494.3,864.6 495.1,864.1 495.8,863.8 496.6,862.7 497.3,865.4 498.1,865.6 498.8,862.7 499.6,862.0 500.3,861.8 501.1,863.0 501.8,866.5 502.6,863.8 503.3,867.7 504.1,862.1 504.8,862.7 505.6,863.5 506.3,863.6 507.1,865.5 507.8,867.9 508.6,861.2 509.3,864.8 510.1,866.3 510.8,868.1 511.6,863.7 512.3,864.9 513.0,865.6 513.8,863.4 514.5,864.4 515.3,862.8 516.0,861.9 516.8,860.2 517.5,865.9 518.3,866.4 519.0,864.2 519.8,861.4 520.5,865.9 521.3,863.5 522.0,866.2 522.8,862.3 523.5,861.0 524.3,862.5 525.0,862.0 525.8,866.5 526.5,859.4 527.3,862.8 528.0,863.5 528.8,860.4 529.5,865.3 530.3,865.8 531.0,866.2 531.8,866.1 532.5,864.2 533.3,866.1 534.0,863.4 534.8,864.2 535.5,864.6 536.3,864.1 537.0,865.1 537.8,863.0 538.5,864.2 539.3,863.4 540.0,864.8 540.8,865.5 541.5,863.6 542.3,867.9 543.0,868.7 543.8,866.0 544.5,864.9 545.3,863.4 546.0,864.1 546.8,863.9 547.5,865.5 548.3,864.0 549.0,865.4 549.8,865.3 550.5,863.4 551.3,861.9 552.0,862.3 552.8,862.6 553.5,864.7 554.3,867.1 555.0,863.3 555.8,866.4 556.5,865.0 557.3,867.8 558.0,869.8 558.8,867.8 559.5,866.6 560.3,867.0 561.0,868.4 561.8,865.2 562.5,864.2 563.3,865.8 564.0,868.3 564.8,863.8 565.5,867.1 566.3,866.5 567.0,864.6 567.8,863.7 568.5,862.3 569.3,863.3 570.0,866.0 570.8,867.2 571.5,864.8 572.3,865.1 573.0,864.6 573.8,870.6 574.5,863.3 575.3,863.1 576.0,867.8 576.8,863.6 577.5,867.5 578.3,864.0 579.0,867.5 579.8,868.2 580.5,864.7 581.3,865.5 582.0,863.7 582.8,867.2 583.5,864.9 584.3,863.7 585.0,866.2 585.8,866.0 586.5,865.1 587.3,864.2 588.0,866.7 588.8,863.5 589.5,863.0 590.3,864.1 591.0,865.7 591.8,864.1 592.5,863.8 593.3,863.2 594.0,863.8 594.8,864.2 595.5,869.3 596.3,862.3 597.0,865.0 597.8,866.2 598.5,864.6 599.3,864.2 600.0,867.7 600.8,869.5 601.5,869.1 602.3,867.3 603.0,866.2 603.8,868.2 604.5,863.6 605.3,865.0 606.0,869.2 606.8,867.1 607.5,866.5 608.3,865.6 609.0,865.3 609.8,864.5 610.5,867.3 611.3,867.2 612.0,867.3 612.8,861.5 613.5,867.7 614.3,864.6 615.0,862.5 615.8,855.8 616.5,853.6 617.3,858.9 618.0,863.1 618.8,870.4 619.5,865.8 620.3,866.5 621.0,869.2 621.8,868.8 622.5,868.8 623.3,865.8 624.0,870.1 624.8,867.1 625.5,864.6 626.3,866.8 627.0,863.4 627.8,863.8 628.5,865.0 629.3,864.1 630.0,865.5 630.8,863.7 631.5,865.7 632.3,865.1 633.0,868.9 633.8,864.9 634.5,865.8 635.3,865.1 636.0,865.7 636.8,864.4 637.5,870.9 638.3,866.4 639.0,868.4 639.8,866.1 640.5,864.3 641.3,865.7 642.0,865.3 642.8,864.2 643.5,866.7 644.3,869.5 645.0,866.9 645.8,868.6 646.5,869.3 647.3,863.2 648.0,870.7 648.8,864.6 649.5,872.9 650.3,867.8 651.0,868.6 651.8,871.8 652.5,869.6 653.3,864.6 654.0,864.3 654.8,865.6 655.5,869.8 656.3,868.6 657.0,869.6 657.8,868.7 658.5,870.1 659.3,865.7 660.0,864.1 660.8,866.3 661.5,869.0 662.3,865.5 663.0,862.9 663.8,866.3 664.5,868.6 665.3,868.0 666.0,866.5 666.8,866.1 667.5,863.0 668.3,866.9 669.0,870.6 669.8,866.0 670.5,870.1 671.3,864.7 672.0,866.2 672.8,865.0 673.5,867.0 674.3,863.6 675.0,869.1 675.8,866.0 676.5,862.3 677.3,867.5 678.0,866.4 678.8,863.5 679.5,865.5 680.3,867.1 681.0,867.1 681.8,866.7 682.5,865.0 683.3,867.0 684.0,869.2 684.8,871.1 685.5,868.4 686.3,871.1 687.0,869.1 687.8,866.7 688.5,863.7 689.3,865.8 690.0,866.3 690.8,867.0 691.5,866.3 692.3,864.7 693.0,865.2 693.8,865.9 694.5,864.8 695.3,865.0 696.0,863.5 696.8,866.2 697.5,867.2 698.3,865.9 699.0,866.5 699.8,866.9 700.5,864.5 701.3,865.1 702.0,864.5 702.8,866.9 703.5,863.7 704.3,865.7 705.0,862.0 705.8,869.4 706.5,867.3 707.3,864.9 708.0,866.6 708.8,870.5 709.5,867.3 710.3,864.5 711.0,867.1 711.8,866.2 712.5,868.0 713.3,867.1 714.0,863.7 714.8,867.1 715.5,868.4 716.3,869.2 717.0,867.2 717.8,870.1 718.5,869.4 719.3,869.1 720.0,869.6 720.8,861.3 721.5,869.1 722.3,869.5 723.0,866.4 723.8,868.1 724.5,865.2 725.3,864.4 726.0,865.9 726.8,864.1 727.5,865.6 728.3,862.5 729.0,865.8 729.8,869.5 730.5,870.1 731.3,866.6 732.0,870.2 732.8,867.8 733.5,864.8 734.3,866.3 735.0,867.4 735.8,867.4 736.5,868.7 737.3,866.1 738.0,866.7 738.8,869.5 739.5,867.8 740.3,869.4 741.0,867.5 741.8,869.0 742.5,869.2 743.3,866.4 744.0,873.3 744.8,866.8 745.5,868.7 746.3,867.6 747.0,869.2 747.8,868.3 748.5,868.7 749.3,867.7 750.0,867.1 750.8,867.5 751.5,866.9 752.3,865.1 753.0,863.7 753.8,867.6 754.5,869.0 755.3,861.5 756.0,867.2 756.8,865.1 757.5,866.6 758.3,867.8 759.0,867.1 759.8,866.2 760.5,863.1 761.3,866.7 762.0,867.3 762.8,872.9 763.5,866.5 764.3,867.9 765.0,868.1 765.8,869.8 766.5,864.8 767.3,868.3 768.0,866.2 768.8,864.7 769.5,863.1 770.3,863.5 771.0,867.1 771.8,864.7 772.5,864.0 773.3,865.2 774.0,868.6 774.8,868.1 775.5,868.0 776.3,868.4 777.0,868.2 777.8,866.2 778.5,865.0 779.3,872.3 780.0,867.3 780.8,868.0 781.5,867.0 782.3,869.1 783.0,870.6 783.8,867.1 784.5,868.1 785.3,867.8 786.0,868.9 786.8,867.5 787.5,867.5 788.3,866.2 789.0,867.3 789.8,865.7 790.5,868.4 791.3,866.6 792.0,869.9 792.8,865.4 793.5,864.6 794.3,868.2 795.0,867.7 795.8,864.0 796.5,871.7 797.3,866.5 798.0,869.1 798.8,866.3 799.5,868.5 800.3,869.4 801.0,866.5 801.8,868.2 802.5,869.4 803.3,871.8 804.0,869.9 804.8,870.9 805.5,869.5 806.3,869.9 807.0,869.5 807.8,867.9 808.5,864.6 809.3,864.8 810.0,868.5 810.8,868.6 811.5,867.6 812.3,866.3 813.0,866.4 813.8,864.9 814.5,869.5 815.3,864.0 816.0,870.3 816.8,866.3 817.5,872.0 818.3,868.1 819.0,866.7 819.8,867.6 820.5,866.6 821.3,870.6 822.0,867.8 822.8,868.4 823.5,865.1 824.3,869.4 825.0,865.2 825.8,866.6 826.5,870.1 827.3,863.6 828.0,867.9 828.8,869.4 829.5,867.2 830.3,869.6 831.0,869.3 831.8,867.9 832.5,864.0 833.3,866.2 834.0,866.5 834.8,869.1 835.5,867.1 836.3,866.8 837.0,865.0 837.8,867.1 838.5,868.0 839.3,863.0 840.0,867.7 840.8,868.6 841.5,867.5 842.3,867.8 843.0,866.7 843.8,869.2 844.5,866.1 845.3,871.3 846.0,867.2 846.8,862.6 847.5,865.4 848.3,866.2 849.0,867.3 849.8,866.0 850.5,865.6 851.3,867.5 852.0,869.1 852.8,862.7 853.5,865.0 854.3,869.5 855.0,867.0 855.8,864.7 856.5,870.0 857.3,873.1 858.0,866.5 858.8,868.5 859.5,867.3 860.3,868.0 861.0,869.1 861.8,866.6 862.5,866.9 863.3,866.3 864.0,863.5 864.8,867.6 865.5,868.2 866.3,866.7 867.0,866.7 867.8,870.3 868.5,865.6 869.3,865.1 870.0,868.2 870.8,867.7 871.5,871.0 872.3,865.0 873.0,867.4 873.8,864.9 874.5,871.2 875.3,866.1 876.0,870.1 876.8,862.1 877.5,864.3 878.3,867.4 879.0,865.1 879.8,864.7 880.5,867.2 881.3,866.1 882.0,866.1 882.8,866.3 883.5,864.8 884.3,868.7 885.0,867.5 885.8,865.0 886.5,864.4 887.3,861.3 888.0,862.5 888.8,867.0 889.5,861.9 890.3,863.1 891.0,867.1 891.8,865.9 892.5,864.5 893.3,864.5 894.0,863.0 894.8,863.9 895.5,863.6 896.3,866.0 897.0,865.1 897.8,862.3 898.5,866.6 899.3,867.5 900.0,866.2 900.8,866.6 901.5,865.8 902.3,864.8 903.0,866.5 903.8,865.8 904.5,862.7 905.3,862.4 906.0,862.8 906.8,862.8 907.5,861.2 908.3,858.0 909.0,862.9 909.8,859.0 910.5,857.8 911.3,858.1 912.0,859.6 912.8,858.7 913.5,854.2 914.3,855.2 915.0,854.6 915.8,855.5 916.5,856.6 917.3,854.3 918.0,858.7 918.8,857.3 919.5,855.9 920.3,853.4 921.0,848.7 921.8,851.2 922.5,846.3 923.3,846.0 924.0,847.0 924.8,845.0 925.5,844.2 926.3,840.1 927.0,839.4 927.8,834.8 928.5,829.3 929.3,821.8 930.0,815.9 930.8,812.3 931.5,808.0 932.3,791.6 933.0,783.0 933.8,769.4 934.5,753.4 935.3,745.9 936.0,729.5 936.8,714.2 937.5,692.3 938.3,675.4 939.0,662.9 939.8,640.5 940.5,629.8 941.3,619.4 942.0,610.6 942.8,608.0 943.5,613.9 944.3,618.1 945.0,634.4 945.8,649.8 946.5,664.7 947.3,685.3 948.0,705.8 948.8,726.2 949.5,734.7 950.3,752.9 951.0,766.6 951.8,777.3 952.5,787.7 953.3,799.5 954.0,808.4 954.8,811.1 955.5,823.5 956.3,825.4 957.0,830.5 957.8,833.1 958.5,840.1 959.3,837.8 960.0,842.1 960.8,845.6 961.5,843.6 962.3,848.4 963.0,851.6 963.8,854.4 964.5,853.1 965.3,853.8 966.0,856.8 966.8,857.2 967.5,856.0 968.3,860.7 969.0,858.9 969.8,858.2 970.5,862.2 971.3,861.8 972.0,859.5 972.8,862.7 973.5,860.3 974.3,860.8 975.0,860.2 975.8,864.1 976.5,862.4 977.3,864.1 978.0,860.6 978.8,862.5 979.5,860.2 980.3,862.4 981.0,862.5 981.8,863.6 982.5,861.2 983.3,866.4 984.0,861.3 984.8,866.9 985.5,864.5 986.3,866.9 987.0,862.9 987.8,865.0 988.5,866.7 989.3,869.0 990.0,865.6 990.8,868.2 991.5,865.4 992.3,867.5 993.0,863.6 993.8,865.2 994.5,867.0 995.3,862.9 996.0,862.3 996.8,865.9 997.5,869.7 998.3,868.6 999.0,866.2 999.8,868.4 1000.5,867.0 1001.3,867.6 1002.0,869.9 1002.8,865.2 1003.5,865.4 1004.3,864.2 1005.0,866.1 1005.8,869.6 1006.5,867.3 1007.3,864.8 1008.0,866.0 1008.8,866.1 1009.5,868.8 1010.3,867.6 1011.0,867.8 1011.8,869.7 1012.5,868.7 1013.3,870.1 1014.0,866.8 1014.8,866.8 1015.5,868.2 1016.3,873.1 1017.0,867.0 1017.8,869.5 1018.5,870.1 1019.3,867.3 1020.0,866.7 1020.8,873.0 1021.5,868.7 1022.3,868.3 1023.0,869.8 1023.8,869.4 1024.5,866.5 1025.3,866.1 1026.0,869.1 1026.8,868.1 1027.5,869.6 1028.3,867.5 1029.0,874.5 1029.8,870.5 1030.5,873.4 1031.3,868.6 1032.0,869.2 1032.8,868.4 1033.5,869.5 1034.3,871.8 1035.0,868.2 1035.8,865.0 1036.5,867.6 1037.3,868.4 1038.0,870.3 1038.8,865.6 1039.5,864.7 1040.3,869.1 1041.0,871.1 1041.8,867.9 1042.5,869.5 1043.3,868.7 1044.0,868.9 1044.8,869.8 1045.5,868.7 1046.3,869.5 1047.0,869.2 1047.8,872.5 1048.5,869.3 1049.3,872.3 1050.0,868.7 1050.8,869.0 1051.5,866.9 1052.3,868.6 1053.0,871.0 1053.8,871.5 1054.5,866.6 1055.3,873.4 1056.0,869.4 1056.8,869.9 1057.5,870.9 1058.3,869.3 1059.0,867.5 1059.8,869.3 1060.5,868.5 1061.3,872.8 1062.0,869.2 1062.8,864.8 1063.5,871.6 1064.3,870.2 1065.0,868.9 1065.8,865.4 1066.5,875.1 1067.3,868.2 1068.0,868.1 1068.8,867.6 1069.5,869.0 1070.3,868.5 1071.0,869.3 1071.8,869.7 1072.5,868.9 1073.3,871.0 1074.0,867.0 1074.8,870.9 1075.5,869.8 1076.3,869.3 1077.0,870.6 1077.8,869.8 1078.5,869.7 1079.3,868.5 1080.0,867.7 1080.8,866.6 1081.5,867.0 1082.3,868.2 1083.0,870.8 1083.8,868.8 1084.5,869.4 1085.3,867.0 1086.0,863.3 1086.8,869.0 1087.5,875.3 1088.3,866.5 1089.0,871.3 1089.8,866.8 1090.5,867.0 1091.3,867.7 1092.0,868.0 1092.8,871.4 1093.5,870.4 1094.3,870.5 1095.0,869.1 1095.8,871.6 1096.5,873.1 1097.3,870.0 1098.0,868.6 1098.8,867.1 1099.5,868.3 1100.3,866.3 1101.0,871.2 1101.8,867.3 1102.5,870.9 1103.3,866.4 1104.0,870.4 1104.8,869.9 1105.5,870.2 1106.3,869.3 1107.0,866.8 1107.8,874.0 1108.5,866.3 1109.3,871.1 1110.0,868.7 1110.8,867.0 1111.5,870.7 1112.3,872.0 1113.0,871.1 1113.8,866.5 1114.5,867.5 1115.3,869.8 1116.0,869.4 1116.8,870.3 1117.5,868.0 1118.3,864.8 1119.0,865.8 1119.8,868.6 1120.5,866.0 1121.3,865.3 1122.0,869.1 1122.8,870.5 1123.5,866.6 1124.3,867.4 1125.0,867.5 1125.8,869.4 1126.5,867.1 1127.3,867.0 1128.0,867.3 1128.8,864.9 1129.5,869.7 1130.3,870.0 1131.0,866.9 1131.8,866.7 1132.5,866.5 1133.3,865.7 1134.0,863.8 1134.8,866.2 1135.5,865.9 1136.3,866.0 1137.0,862.2 1137.8,864.5 1138.5,861.6 1139.3,867.7 1140.0,861.2 1140.8,863.9 1141.5,867.1 1142.3,860.6 1143.0,863.4 1143.8,859.1 1144.5,863.3 1145.3,859.9 1146.0,858.6 1146.8,856.9 1147.5,858.8 1148.3,856.0 1149.0,857.3 1149.8,856.7 1150.5,853.0 1151.3,853.8 1152.0,854.9 1152.8,852.4 1153.5,851.2 1154.3,849.5 1155.0,847.7 1155.8,847.9 1156.5,845.8 1157.3,851.3 1158.0,845.0 1158.8,842.9 1159.5,845.0 1160.3,842.9 1161.0,841.6 1161.8,843.9 1162.5,841.4 1163.3,839.7 1164.0,844.0 1164.8,844.8 1165.5,843.5 1166.3,841.5 1167.0,841.8 1167.8,841.4 1168.5,843.4 1169.3,842.2 1170.0,844.0 1170.8,843.7 1171.5,845.3 1172.3,841.7 1173.0,846.5 1173.8,846.3 1174.5,847.6 1175.3,849.9 1176.0,847.5 1176.8,849.2 1177.5,852.2 1178.3,852.8 1179.0,855.4 1179.8,855.2 1180.5,850.1 1181.3,857.0 1182.0,856.7 1182.8,858.0 1183.5,860.4 1184.3,859.4 1185.0,859.5 1185.8,857.5 1186.5,860.5 1187.3,863.6 1188.0,863.6 1188.8,860.8 1189.5,861.1 1190.3,863.5 1191.0,865.5 1191.8,863.6 1192.5,871.0 1193.3,869.8 1194.0,861.0 1194.8,870.2 1195.5,870.2 1196.3,862.8 1197.0,863.9 1197.8,867.0 1198.5,867.7 1199.3,866.3 1200.0,868.2 1200.8,872.3 1201.5,867.0 1202.3,864.7 1203.0,868.4 1203.8,870.6 1204.5,871.9 1205.3,871.1 1206.0,863.7 1206.8,866.7 1207.5,868.8 1208.3,867.4 1209.0,870.2 1209.8,870.2 1210.5,873.2 1211.3,872.3 1212.0,868.7 1212.8,873.3 1213.5,867.3 1214.3,868.1 1215.0,868.0 1215.8,868.4 1216.5,871.4 1217.3,873.4 1218.0,867.3 1218.8,871.6 1219.5,872.5 1220.3,870.7 1221.0,864.3 1221.8,870.8 1222.5,871.5 1223.3,866.2 1224.0,868.6 1224.8,871.5 1225.5,870.0 1226.3,871.4 1227.0,871.8 1227.8,867.0 1228.5,867.3 1229.3,871.4 1230.0,869.2 1230.8,871.6 1231.5,871.1 1232.3,868.6 1233.0,872.2 1233.8,871.5 1234.5,869.7 1235.3,870.1 1236.0,870.3 1236.8,872.2 1237.5,876.9 1238.3,873.1 1239.0,871.6 1239.8,869.2 1240.5,871.9 1241.3,871.5 1242.0,870.3 1242.8,869.7 1243.5,874.3 1244.3,874.1 1245.0,868.6 1245.8,873.3 1246.5,872.3 1247.3,875.1 1248.0,870.2 1248.8,873.7 1249.5,870.9 1250.3,871.6 1251.0,872.4 1251.8,873.6 1252.5,872.6 1253.3,868.6 1254.0,873.1 1254.8,871.4 1255.5,870.8 1256.3,867.9 1257.0,870.3 1257.8,873.4 1258.5,873.6 1259.3,872.1 1260.0,869.5 1260.8,872.7 1261.5,869.6 1262.3,872.8 1263.0,870.2 1263.8,868.3 1264.5,872.0 1265.3,871.5 1266.0,871.5 1266.8,869.4 1267.5,869.1 1268.3,873.2 1269.0,871.1 1269.8,874.5 1270.5,874.7 1271.3,869.7 1272.0,871.2 1272.8,866.5 1273.5,872.1 1274.3,871.1 1275.0,872.9 1275.8,871.8 1276.5,871.5 1277.3,871.0 1278.0,871.2 1278.8,875.0 1279.5,874.0 1280.3,876.9 1281.0,874.1 1281.8,871.7 1282.5,871.3 1283.3,875.0 1284.0,868.1 1284.8,871.7 1285.5,871.0 1286.3,867.1 1287.0,873.3 1287.8,871.4 1288.5,871.1 1289.3,870.0 1290.0,871.6 1290.8,871.0 1291.5,873.9 1292.3,871.5 1293.0,876.7 1293.8,870.8 1294.5,872.2 1295.3,870.6 1296.0,873.3 1296.8,870.8 1297.5,874.3 1298.3,873.4 1299.0,872.4 1299.8,868.5 1300.5,871.8 1301.3,871.7 1302.0,873.1 1302.8,869.4 1303.5,873.4 1304.3,873.5 1305.0,871.9 1305.8,872.5 1306.5,870.8 1307.3,873.4 1308.0,869.2 1308.8,870.0 1309.5,878.4 1310.3,870.9 1311.0,870.9 1311.8,869.3 1312.5,870.6 1313.3,871.6 1314.0,868.9 1314.8,868.4 1315.5,870.4 1316.3,874.2 1317.0,870.8 1317.8,876.6 1318.5,874.2 1319.3,873.3 1320.0,871.4 1320.8,873.4 1321.5,878.3 1322.3,870.3 1323.0,873.6 1323.8,876.1 1324.5,874.7 1325.3,873.0 1326.0,871.9 1326.8,874.5 1327.5,869.4 1328.3,876.1 1329.0,871.0 1329.8,868.8 1330.5,872.0 1331.3,872.2 1332.0,871.8 1332.8,866.6 1333.5,871.0 1334.3,873.8 1335.0,873.2 1335.8,874.9 1336.5,873.2 1337.3,869.0 1338.0,872.6 1338.8,873.5 1339.5,874.0 1340.3,874.3 1341.0,874.0 1341.8,874.6 1342.5,874.5 1343.3,869.7 1344.0,874.9 1344.8,873.7 1345.5,871.6 1346.3,872.4 1347.0,871.7 1347.8,872.4 1348.5,868.7 1349.3,868.7 1350.0,873.9 1350.8,871.7 1351.5,875.1 1352.3,875.4 1353.0,873.3 1353.8,876.5 1354.5,871.3 1355.3,873.6 1356.0,871.0 1356.8,873.9 1357.5,875.9 1358.3,875.9 1359.0,874.4 1359.8,871.8 1360.5,874.0 1361.3,871.9 1362.0,873.5 1362.8,871.8 1363.5,874.8 1364.3,874.1 1365.0,874.6 1365.8,874.4 1366.5,875.2 1367.3,872.8 1368.0,871.4 1368.8,871.5 1369.5,878.9 1370.3,873.7 1371.0,870.6 1371.8,868.4 1372.5,875.3 1373.3,872.7 1374.0,876.6 1374.8,876.3 1375.5,873.1 1376.3,873.2 1377.0,871.8 1377.8,874.9 1378.5,870.7 1379.3,874.1 1380.0,872.4 1380.8,875.9 1381.5,872.2 1382.3,871.3 1383.0,873.8 1383.8,870.7 1384.5,873.9 1385.3,872.0 1386.0,871.4 1386.8,871.9 1387.5,872.0 1388.3,870.1 1389.0,873.5 1389.8,872.2 1390.5,871.1 1391.3,874.7 1392.0,872.6 1392.8,875.2 1393.5,868.6 1394.3,874.5 1395.0,872.2 1395.8,875.1 1396.5,872.1 1397.3,871.0 1398.0,870.7 1398.8,872.6 1399.5,868.9 1400.3,871.1 1401.0,869.9 1401.8,876.2 1402.5,872.8 1403.3,871.3 1404.0,867.2 1404.8,871.5 1405.5,870.5 1406.3,871.5 1407.0,871.7 1407.8,870.3 1408.5,869.3 1409.3,871.3 1410.0,871.7 1410.8,871.9 1411.5,872.0 1412.3,872.9 1413.0,870.6 1413.8,874.0 1414.5,871.6 1415.3,872.8 1416.0,871.7 1416.8,872.9 1417.5,875.7 1418.3,873.7 1419.0,873.1 1419.8,873.2 1420.5,871.9 1421.3,870.7 1422.0,869.1 1422.8,873.4 1423.5,874.2 1424.3,874.6 1425.0,869.5 1425.8,871.4 1426.5,873.8 1427.3,869.8 1428.0,873.8 1428.8,874.0 1429.5,869.6 1430.3,873.5 1431.0,871.9 1431.8,871.3 1432.5,873.0 1433.3,871.3 1434.0,869.6 1434.8,874.5 1435.5,874.2 1436.3,874.3 1437.0,873.7 1437.8,870.9 1438.5,873.6 1439.3,876.9 1440.0,874.7 1440.8,874.1 1441.5,874.6 1442.3,873.9 1443.0,874.4 1443.8,874.3 1444.5,873.0 1445.3,873.9 1446.0,874.2 1446.8,874.4 1447.5,879.0 1448.3,873.6 1449.0,871.7 1449.8,873.6 1450.5,870.4 1451.3,876.9 1452.0,872.2 1452.8,872.8 1453.5,873.3 1454.3,874.5 1455.0,872.0 1455.8,874.1 1456.5,873.4 1457.3,874.1 1458.0,875.6 1458.8,873.5 1459.5,877.9 1460.3,875.2 1461.0,877.0 1461.8,874.0 1462.5,876.4 1463.3,873.2 1464.0,876.0 1464.8,874.3 1465.5,872.1 1466.3,872.0 1467.0,878.2 1467.8,875.0 1468.5,875.6 1469.3,876.6 1470.0,875.3 1470.8,876.9 1471.5,874.3 1472.3,875.1 1473.0,877.9 1473.8,872.5 1474.5,875.1 1475.3,873.7 1476.0,877.9 1476.8,874.4 1477.5,875.4 1478.3,875.3 1479.0,873.2 1479.8,873.9 1480.5,873.0 1481.3,875.8 1482.0,872.5 1482.8,875.7 1483.5,873.9 1484.3,874.6 1485.0,875.6 1485.8,874.9 1486.5,874.1 1487.3,872.1 1488.0,873.1 1488.8,873.7 1489.5,875.0 1490.3,873.6 1491.0,873.2 1491.8,877.3 1492.5,874.6 1493.3,874.8 1494.0,872.5 1494.8,872.9 1495.5,873.0 1496.3,872.1 1497.0,873.9 1497.8,874.5 1498.5,872.6 1499.3,873.0 1500.0,875.9 1500.8,867.9 1501.5,873.8 1502.3,877.0 1503.0,875.7 1503.8,875.2 1504.5,877.1 1505.3,876.3 1506.0,875.0 1506.8,872.2 1507.5,870.8 1508.3,871.5 1509.0,875.7 1509.8,872.2 1510.5,872.7 1511.3,875.9 1512.0,873.4 1512.8,874.9 1513.5,871.8 1514.3,873.5 1515.0,873.3 1515.8,872.9 1516.5,871.1 1517.3,872.4 1518.0,875.5 1518.8,874.0 1519.5,875.1 1520.3,872.0 1521.0,877.0 1521.8,872.4 1522.5,873.0 1523.3,874.6 1524.0,873.0 1524.8,874.4 1525.5,877.1 1526.3,875.3 1527.0,873.6 1527.8,876.8 1528.5,873.4 1529.3,873.7 1530.0,875.1 1530.8,875.3 1531.5,870.7 1532.3,875.4 1533.0,873.6 1533.8,872.0 1534.5,871.8 1535.3,871.8 1536.0,870.8 1536.8,875.4 1537.5,876.1 1538.3,873.2 1539.0,873.6 1539.8,873.9 1540.5,876.3 1541.3,875.1 1542.0,877.9 1542.8,875.8 1543.5,877.8 1544.3,872.4 1545.0,873.2 1545.8,875.1 1546.5,874.2 1547.3,872.8 1548.0,872.0 1548.8,871.1 1549.5,873.7 1550.3,872.8 1551.0,874.8 1551.8,872.2 1552.5,873.3 1553.3,874.1 1554.0,874.5 1554.8,871.9 1555.5,872.7 1556.3,876.1 1557.0,868.6 1557.8,873.9 1558.5,874.2 1559.3,873.4 1560.0,870.8 1560.8,874.4 1561.5,873.5 1562.3,874.2 1563.0,873.5 1563.8,872.8 1564.5,874.7 1565.3,872.1 1566.0,876.1 1566.8,874.7 1567.5,873.4 1568.3,874.4 1569.0,875.7 1569.8,872.3 1570.5,875.5 1571.3,878.7 1572.0,874.0 1572.8,874.7 1573.5,872.4 1574.3,873.4 1575.0,872.0 1575.8,876.5 1576.5,872.2 1577.3,874.8 1578.0,872.6 1578.8,874.1 1579.5,872.2 1580.3,872.1 1581.0,876.7 1581.8,876.2 1582.5,874.7 1583.3,873.7 1584.0,873.7 1584.8,872.3 1585.5,874.8 1586.3,877.3 1587.0,873.0 1587.8,879.0 1588.5,874.9 1589.3,877.4 1590.0,875.4 1590.8,872.2 1591.5,871.8 1592.3,877.0 1593.0,876.6 1593.8,872.6 1594.5,878.5 1595.3,874.3 1596.0,880.5 1596.8,873.9 1597.5,876.7 1598.3,875.0 1599.0,873.2 1599.8,875.9 1600.5,872.6 1601.3,872.1 1602.0,873.6 1602.8,868.5 1603.5,870.8 1604.3,872.6 1605.0,873.9 1605.8,875.3 1606.5,876.2 1607.3,873.6 1608.0,877.2 1608.8,874.7 1609.5,873.8 1610.3,876.3 1611.0,876.8 1611.8,873.9 1612.5,873.3 1613.3,874.9 1614.0,873.9 1614.8,871.3 1615.5,873.8 1616.3,873.7 1617.0,874.1 1617.8,874.6 1618.5,876.3 1619.3,872.2 1620.0,874.2 1620.8,875.4 1621.5,869.2 1622.3,876.4 1623.0,874.4 1623.8,879.5 1624.5,875.8 1625.3,872.5 1626.0,874.5 1626.8,873.8 1627.5,875.3 1628.3,871.6 1629.0,875.1 1629.8,874.1 1630.5,874.1 1631.3,875.7 1632.0,875.1 1632.8,878.8 1633.5,875.6 1634.3,876.5 1635.0,873.7 1635.8,873.5 1636.5,877.6 1637.3,873.4 1638.0,872.0 1638.8,871.8 1639.5,872.4 1640.3,871.8 1641.0,872.4 1641.8,876.3 1642.5,873.4 1643.3,874.9 1644.0,877.9 1644.8,872.5 1645.5,872.6 1646.3,870.4 1647.0,876.0 1647.8,874.6 1648.5,870.5 1649.3,876.6 1650.0,876.2 1650.8,868.2 1651.5,872.0 1652.3,876.1 1653.0,872.3 1653.8,873.8 1654.5,875.4 1655.3,874.8 1656.0,873.1 1656.8,875.4 1657.5,876.8 1658.3,873.5 1659.0,879.2 1659.8,876.1 1660.5,874.3 1661.3,870.9 1662.0,871.1 1662.8,871.1 1663.5,874.3 1664.3,870.3 1665.0,875.0 1665.8,874.6 1666.5,871.7 1667.3,871.5 1668.0,876.3 1668.8,871.9 1669.5,869.4 1670.3,872.6 1671.0,874.2 1671.8,875.8 1672.5,874.9 1673.3,878.8 1674.0,876.0 1674.8,874.5 1675.5,876.2 1676.3,876.2 1677.0,874.2 1677.8,875.3 1678.5,874.9 1679.3,874.0 1680.0,873.0 1680.8,868.1 1681.5,873.1 1682.3,871.5 1683.0,874.7 1683.8,873.5 1684.5,871.0 1685.3,873.0 1686.0,872.7 1686.8,867.9 1687.5,872.0 1688.3,873.6 1689.0,876.3 1689.8,873.3 1690.5,874.4 1691.3,876.0 1692.0,875.5 1692.8,873.6 1693.5,874.5 1694.3,872.9 1695.0,872.8 1695.8,873.7 1696.5,874.3 1697.3,876.1 1698.0,875.8 1698.8,876.5 1699.5,871.8 1700.3,874.4 1701.0,874.7 1701.8,872.3 1702.5,869.8 1703.3,875.0 1704.0,877.9 1704.8,871.6 1705.5,873.6 1706.3,876.7 1707.0,871.8 1707.8,872.7 1708.5,870.9 1709.3,872.9 1710.0,874.8 1710.8,875.1 1711.5,872.7 1712.3,875.1 1713.0,870.7 1713.8,871.9 1714.5,873.2 1715.3,873.1 1716.0,874.4 1716.8,871.8 1717.5,868.0 1718.3,874.9 1719.0,876.0 1719.8,873.2 1720.5,871.9 1721.3,871.6 1722.0,872.8 1722.8,870.1 1723.5,873.2 1724.3,872.3 1725.0,870.1 1725.8,873.4 1726.5,874.2 1727.3,876.8 1728.0,873.5 1728.8,876.7 1729.5,872.6 1730.3,873.0 1731.0,874.4 1731.8,872.1 1732.5,873.6 1733.3,871.6 1734.0,871.4 1734.8,871.9 1735.5,874.1 1736.3,872.6 1737.0,871.7 1737.8,875.9 1738.5,872.8 1739.3,874.5 1740.0,873.9 1740.8,875.0 1741.5,873.5 1742.3,872.4 1743.0,874.3 1743.8,874.5 1744.5,876.5 1745.3,874.6 1746.0,874.5 1746.8,871.7 1747.5,875.5 1748.3,875.5 1749.0,873.4 1749.8,874.2 1750.5,873.9 1751.3,876.4 1752.0,870.7 1752.8,873.1 1753.5,874.8 1754.3,867.4 1755.0,872.7 1755.8,877.5 1756.5,872.0 1757.3,874.7 1758.0,873.4 1758.8,875.1 1759.5,874.1 1760.3,876.1 1761.0,872.7 1761.8,878.3 1762.5,875.5 1763.3,875.1 1764.0,873.3 1764.8,874.2 1765.5,873.0 1766.3,874.1 1767.0,872.5 1767.8,872.6 1768.5,876.0 1769.3,875.5 1770.0,876.8 1770.8,875.5 1771.5,870.7 1772.3,874.9 1773.0,875.4 1773.8,874.2 1774.5,875.5 1775.3,875.4 1776.0,873.8 1776.8,875.1 1777.5,872.9 1778.3,875.4 1779.0,870.6 1779.8,870.6 1780.5,875.3 1781.3,870.5 1782.0,874.7 1782.8,874.2 1783.5,879.2 1784.3,872.7 1785.0,872.5 1785.8,873.9 1786.5,873.7 1787.3,872.3 1788.0,871.9 1788.8,873.4 1789.5,874.7 1790.3,869.1 1791.0,874.8 1791.8,874.0 1792.5,872.2 1793.3,871.1 1794.0,871.8 1794.8,869.2 1795.5,873.1 1796.3,872.9 1797.0,872.9 1797.8,873.7 1798.5,870.9 1799.3,875.0 1800.0,873.1 1800.8,873.7 1801.5,874.2 1802.3,874.3 1803.0,875.1 1803.8,874.0 1804.5,873.8 1805.3,871.7 1806.0,872.1 1806.8,870.1 1807.5,873.1 1808.3,872.0 1809.0,872.5 1809.8,874.0 1810.5,872.3 1811.3,875.7 1812.0,871.0 1812.8,876.0 1813.5,875.6 1814.3,873.0 1815.0,874.1 1815.8,874.9 1816.5,871.8 1817.3,873.0 1818.0,874.1 1818.8,872.9 1819.5,871.1 1820.3,868.7 1821.0,873.0 1821.8,873.4 1822.5,875.2 1823.3,874.0 1824.0,870.3 1824.8,871.0 1825.5,870.4 1826.3,874.5 1827.0,872.7 1827.8,873.7 1828.5,871.7 1829.3,869.4 1830.0,872.7 1830.8,868.9 1831.5,868.1 1832.3,869.8 1833.0,872.3 1833.8,873.9 1834.5,871.9 1835.3,871.5 1836.0,872.0 1836.8,872.6 1837.5,873.1 1838.3,869.1 1839.0,869.8 1839.8,877.0 1840.5,869.1 1841.3,867.7 1842.0,871.0 1842.8,871.4 1843.5,871.2 1844.3,876.2 1845.0,875.2 1845.8,871.6 1846.5,878.0 1847.3,872.9 1848.0,873.9 1848.8,872.1 1849.5,871.9 1850.3,874.6 1851.0,876.5 1851.8,874.7 1852.5,873.5 1853.3,872.8 1854.0,875.7 1854.8,870.2 1855.5,872.3 1856.3,870.9 1857.0,872.3 1857.8,872.3 1858.5,871.5 1859.3,870.9 1860.0,873.9 1860.8,877.4 1861.5,874.2 1862.3,873.3 1863.0,872.0 1863.8,874.6 1864.5,874.2 1865.3,877.1 1866.0,872.6 1866.8,876.1 1867.5,871.4 1868.3,876.0 1869.0,874.2 1869.8,871.6 1870.5,869.0 1871.3,872.5 1872.0,872.7 1872.8,874.2 1873.5,873.8 1874.3,874.9 1875.0,869.9 1875.8,877.8 1876.5,873.0 1877.3,873.9 1878.0,868.7 1878.8,873.6 1879.5,873.0 1880.3,873.3 1881.0,877.6 1881.8,871.4 1882.5,871.7 1883.3,872.8 1884.0,872.7 1884.8,869.7 1885.5,869.4 1886.3,871.3 1887.0,869.1 1887.8,872.7 1888.5,869.8 1889.3,868.9 1890.0,873.0 1890.8,872.8 1891.5,873.1 1892.3,872.2 1893.0,872.9 1893.8,871.0 1894.5,868.2 1895.3,870.7 1896.0,870.7 1896.8,870.2 1897.5,871.4 1898.3,874.0 1899.0,872.1 1899.8,871.2 1900.5,871.3 1901.3,867.9 1902.0,873.4 1902.8,869.6 1903.5,871.6 1904.3,870.8 1905.0,870.6 1905.8,871.8 1906.5,868.2 1907.3,869.8 1908.0,867.4 1908.8,867.3 1909.5,862.8 1910.3,866.7 1911.0,865.8 1911.8,865.9 1912.5,862.7 1913.3,861.4 1914.0,863.2 1914.8,861.1 1915.5,861.3 1916.3,853.8 1917.0,854.5 1917.8,857.1 1918.5,855.1 1919.3,853.1 1920.0,851.4 1920.8,848.7 1921.5,845.6 1922.3,841.4 1923.0,840.4 1923.8,836.5 1924.5,832.5 1925.3,826.9 1926.0,825.6 1926.8,824.5 1927.5,822.1 1928.3,815.4 1929.0,819.4 1929.8,815.8 1930.5,819.7 1931.3,818.3 1932.0,818.6 1932.8,825.4 1933.5,823.2 1934.3,830.3 1935.0,832.5 1935.8,836.5 1936.5,839.8 1937.3,842.2 1938.0,846.7 1938.8,843.7 1939.5,850.9 1940.3,854.2 1941.0,850.7 1941.8,852.5 1942.5,855.8 1943.3,856.3 1944.0,861.6 1944.8,862.0 1945.5,860.5 1946.3,861.6 1947.0,867.0 1947.8,861.3 1948.5,864.2 1949.3,870.1 1950.0,869.5 1950.8,867.0 1951.5,869.6 1952.3,865.8 1953.0,871.0 1953.8,875.0 1954.5,868.6 1955.3,870.9 1956.0,869.5 1956.8,868.0 1957.5,869.6 1958.3,868.9 1959.0,867.7 1959.8,870.8 1960.5,871.7 1961.3,872.6 1962.0,872.6 1962.8,872.9 1963.5,872.8 1964.3,873.0 1965.0,870.3 1965.8,873.0 1966.5,872.1 1967.3,870.2 1968.0,872.8 1968.8,874.1 1969.5,875.7 1970.3,871.2 1971.0,875.2 1971.8,869.9 1972.5,873.5 1973.3,875.0 1974.0,872.4 1974.8,871.6 1975.5,870.3 1976.3,874.2 1977.0,870.8 1977.8,873.0 1978.5,872.8 1979.3,874.0 1980.0,876.2 1980.8,874.8 1981.5,878.1 1982.3,877.7 1983.0,874.2 1983.8,872.0 1984.5,873.9 1985.3,873.8 1986.0,877.0 1986.8,874.3 1987.5,875.5 1988.3,871.5 1989.0,875.4 1989.8,877.4 1990.5,875.4 1991.3,872.6 1992.0,873.9 1992.8,874.6 1993.5,874.4 1994.3,874.3 1995.0,874.7 1995.8,872.4 1996.5,873.3 1997.3,873.0 1998.0,872.8 1998.8,869.9 1999.5,873.3 2000.3,873.3 2001.0,870.6 2001.8,875.9 2002.5,872.5 2003.3,872.8 2004.0,874.0 2004.8,873.2 2005.5,874.9 2006.3,875.1 2007.0,869.4 2007.8,873.8 2008.5,875.9 2009.3,875.6 2010.0,876.5 2010.8,875.6 2011.5,875.1 2012.3,873.7 2013.0,878.9 2013.8,875.9 2014.5,875.3 2015.3,875.1 2016.0,874.0 2016.8,874.1 2017.5,875.6 2018.3,873.1 2019.0,870.9 2019.8,873.3 2020.5,872.9 2021.3,873.9 2022.0,873.8 2022.8,876.9 2023.5,872.2 2024.3,875.9 2025.0,875.7 2025.8,873.6 2026.5,871.8 2027.3,874.7 2028.0,871.8 2028.8,877.0 2029.5,875.9 2030.3,870.2 2031.0,874.7 2031.8,873.6 2032.5,872.7 2033.3,872.5 2034.0,876.9 2034.8,872.2 2035.5,872.3 2036.3,875.6 2037.0,873.4 2037.8,870.4 2038.5,878.9 2039.3,873.5 2040.0,871.9 2040.8,878.7 2041.5,873.9 2042.3,874.2 2043.0,873.0 2043.8,875.1 2044.5,874.5 2045.3,874.1 2046.0,876.1 2046.8,873.5 2047.5,872.1 2048.3,871.5 2049.1,875.4 2049.8,874.9 2050.6,873.6 2051.3,878.9 2052.1,876.3 2052.8,874.2 2053.6,872.9 2054.3,874.8 2055.1,873.5 2055.8,875.2 2056.6,875.8 2057.3,876.0 2058.1,870.8 2058.8,873.7 2059.6,875.2 2060.3,875.2 2061.1,874.9 2061.8,873.9 2062.6,875.0 2063.3,877.0 2064.1,874.8 2064.8,874.2 2065.6,876.9 2066.3,877.4 2067.1,873.9 2067.8,874.7 2068.6,873.3 2069.3,875.6 2070.1,876.6 2070.8,875.4 2071.6,874.1 2072.3,874.0 2073.1,875.8 2073.8,877.4 2074.6,876.1 2075.3,875.8 2076.1,878.2 2076.8,875.1 2077.6,875.0 2078.3,871.4 2079.1,877.9 2079.8,877.3 2080.6,875.2 2081.3,875.8"/>
<polyline fill="none" stroke="#ff2424" stroke-width="2.4" stroke-linejoin="round" points="182.3,1130.2 183.1,1127.8 183.8,1128.6 184.6,1130.5 185.3,1130.1 186.1,1129.9 186.8,1128.2 187.6,1127.2 188.3,1130.3 189.1,1128.4 189.8,1131.0 190.6,1129.7 191.3,1127.7 192.1,1129.7 192.8,1130.5 193.6,1129.4 194.3,1127.4 195.1,1129.5 195.8,1129.6 196.6,1130.6 197.3,1130.3 198.1,1127.0 198.8,1127.8 199.6,1130.0 200.3,1125.4 201.1,1130.4 201.8,1127.2 202.6,1128.1 203.3,1131.8 204.1,1128.9 204.8,1128.4 205.6,1129.7 206.3,1129.0 207.1,1127.7 207.8,1129.2 208.6,1132.8 209.3,1130.2 210.1,1129.0 210.8,1128.4 211.6,1129.3 212.3,1128.8 213.1,1125.7 213.8,1128.4 214.6,1127.4 215.3,1130.7 216.1,1126.8 216.8,1129.6 217.6,1124.7 218.3,1127.6 219.1,1125.7 219.8,1125.5 220.6,1128.9 221.3,1125.5 222.1,1127.3 222.8,1126.2 223.6,1128.6 224.3,1129.2 225.1,1123.5 225.8,1129.2 226.6,1125.1 227.3,1131.7 228.1,1129.4 228.8,1131.8 229.6,1122.9 230.3,1131.1 231.1,1127.6 231.8,1124.8 232.6,1128.0 233.3,1129.9 234.1,1124.1 234.8,1129.3 235.6,1126.5 236.3,1125.9 237.1,1126.3 237.8,1125.5 238.6,1127.6 239.3,1127.8 240.1,1129.4 240.8,1130.2 241.6,1126.9 242.3,1129.7 243.1,1125.1 243.8,1128.5 244.6,1125.0 245.3,1125.9 246.1,1128.0 246.8,1125.2 247.6,1127.5 248.3,1123.5 249.1,1125.1 249.8,1127.6 250.6,1129.6 251.3,1124.5 252.1,1129.9 252.8,1127.4 253.6,1131.4 254.3,1126.5 255.1,1126.2 255.8,1127.9 256.6,1125.3 257.3,1128.4 258.1,1127.5 258.8,1130.3 259.6,1128.4 260.3,1125.4 261.1,1125.1 261.8,1125.5 262.6,1123.1 263.3,1121.1 264.1,1130.7 264.8,1124.7 265.6,1128.6 266.3,1124.4 267.1,1125.1 267.8,1122.6 268.6,1128.5 269.3,1125.3 270.1,1129.3 270.8,1124.7 271.6,1128.7 272.3,1129.1 273.1,1123.2 273.8,1127.0 274.6,1124.1 275.3,1123.8 276.1,1126.3 276.8,1127.6 277.6,1128.6 278.3,1125.3 279.1,1127.8 279.8,1126.9 280.6,1125.7 281.3,1123.7 282.1,1125.6 282.8,1132.4 283.6,1123.5 284.3,1124.9 285.1,1120.7 285.8,1128.3 286.6,1129.4 287.3,1131.1 288.1,1130.1 288.8,1126.2 289.6,1129.8 290.3,1123.3 291.1,1129.7 291.8,1129.5 292.6,1125.3 293.3,1128.3 294.1,1124.3 294.8,1123.6 295.6,1123.5 296.3,1124.0 297.1,1123.9 297.8,1125.8 298.6,1129.4 299.3,1125.3 300.1,1124.0 300.8,1127.0 301.6,1125.0 302.3,1125.6 303.1,1126.4 303.8,1126.6 304.6,1124.5 305.3,1125.5 306.1,1128.0 306.8,1125.5 307.6,1125.9 308.3,1127.2 309.1,1127.3 309.8,1125.7 310.6,1127.3 311.3,1126.0 312.1,1123.3 312.8,1127.1 313.6,1123.9 314.3,1131.7 315.1,1126.2 315.8,1125.1 316.6,1127.4 317.3,1128.7 318.1,1128.9 318.8,1126.5 319.6,1128.1 320.3,1127.4 321.1,1126.1 321.8,1122.8 322.6,1125.8 323.3,1120.6 324.1,1123.9 324.8,1128.3 325.6,1125.7 326.3,1125.3 327.1,1123.7 327.8,1123.8 328.6,1124.2 329.3,1122.9 330.1,1119.8 330.8,1127.9 331.6,1129.2 332.3,1124.7 333.1,1127.6 333.8,1123.6 334.6,1126.8 335.3,1123.4 336.1,1128.1 336.8,1126.4 337.6,1123.8 338.3,1127.5 339.1,1129.5 339.8,1125.9 340.6,1125.6 341.3,1125.5 342.1,1125.5 342.8,1127.6 343.6,1127.4 344.3,1120.4 345.1,1127.2 345.8,1124.5 346.6,1128.4 347.3,1126.2 348.1,1129.1 348.8,1124.5 349.6,1123.0 350.3,1126.3 351.1,1127.8 351.8,1127.3 352.6,1127.4 353.3,1126.2 354.1,1127.2 354.8,1124.1 355.6,1125.4 356.3,1122.5 357.1,1125.6 357.8,1125.0 358.6,1125.4 359.3,1127.8 360.1,1125.8 360.8,1120.1 361.6,1128.4 362.3,1125.9 363.1,1127.3 363.8,1124.2 364.6,1127.5 365.3,1128.9 366.1,1122.7 366.8,1128.4 367.6,1124.1 368.3,1124.5 369.1,1126.1 369.8,1130.2 370.6,1122.4 371.3,1124.7 372.1,1126.1 372.8,1127.3 373.6,1125.7 374.3,1126.8 375.1,1124.0 375.8,1127.8 376.6,1128.6 377.3,1124.4 378.1,1125.3 378.8,1127.8 379.6,1127.9 380.3,1128.5 381.1,1124.8 381.8,1126.4 382.6,1126.1 383.3,1129.7 384.1,1126.6 384.8,1124.5 385.6,1124.8 386.3,1126.5 387.1,1128.9 387.8,1123.4 388.6,1126.8 389.3,1127.6 390.1,1130.6 390.8,1127.9 391.6,1129.3 392.3,1126.7 393.1,1124.0 393.8,1124.1 394.6,1125.7 395.3,1127.7 396.1,1127.0 396.8,1126.9 397.6,1131.7 398.3,1123.4 399.1,1126.0 399.8,1132.9 400.6,1128.6 401.3,1126.5 402.1,1125.5 402.8,1129.4 403.6,1129.1 404.3,1129.2 405.1,1124.9 405.8,1127.6 406.6,1126.8 407.3,1128.1 408.1,1123.8 408.8,1128.2 409.6,1130.0 410.3,1124.0 411.1,1128.6 411.8,1133.3 412.6,1128.7 413.3,1126.8 414.1,1127.2 414.8,1125.9 415.6,1127.5 416.3,1125.0 417.1,1127.3 417.8,1125.5 418.6,1124.3 419.3,1130.4 420.1,1123.7 420.8,1131.1 421.6,1123.1 422.3,1129.5 423.1,1128.0 423.8,1124.3 424.6,1126.5 425.3,1125.5 426.1,1125.6 426.8,1131.2 427.6,1125.1 428.3,1123.5 429.1,1129.7 429.8,1128.2 430.6,1127.4 431.3,1126.8 432.1,1128.8 432.8,1128.1 433.6,1127.1 434.3,1126.1 435.1,1129.6 435.8,1130.4 436.6,1128.5 437.3,1133.7 438.1,1128.1 438.8,1128.1 439.6,1130.8 440.3,1128.4 441.1,1128.3 441.8,1127.0 442.6,1128.6 443.3,1124.2 444.1,1123.7 444.8,1125.3 445.6,1123.0 446.3,1129.6 447.1,1127.0 447.8,1126.1 448.6,1128.9 449.3,1125.9 450.1,1130.5 450.8,1131.8 451.6,1126.2 452.3,1131.8 453.1,1129.8 453.8,1134.3 454.6,1129.8 455.3,1127.7 456.1,1126.1 456.8,1127.1 457.6,1128.3 458.3,1131.5 459.1,1130.5 459.8,1129.6 460.6,1131.8 461.3,1124.9 462.1,1126.0 462.8,1125.9 463.6,1128.2 464.3,1124.5 465.1,1126.9 465.8,1131.0 466.6,1130.5 467.3,1131.8 468.1,1127.6 468.8,1126.9 469.6,1129.7 470.3,1127.4 471.1,1129.0 471.8,1128.9 472.6,1130.1 473.3,1131.9 474.1,1131.7 474.8,1130.6 475.6,1128.2 476.3,1129.9 477.1,1127.7 477.8,1126.6 478.6,1125.2 479.3,1125.0 480.1,1129.3 480.8,1129.6 481.6,1128.2 482.3,1129.2 483.1,1127.0 483.8,1131.7 484.6,1128.7 485.3,1127.9 486.1,1130.0 486.8,1128.5 487.6,1129.6 488.3,1132.0 489.1,1127.5 489.8,1128.7 490.6,1129.0 491.3,1129.5 492.1,1133.4 492.8,1131.5 493.6,1132.4 494.3,1124.7 495.1,1131.0 495.8,1130.6 496.6,1131.2 497.3,1130.2 498.1,1128.9 498.8,1131.8 499.6,1130.0 500.3,1130.5 501.1,1129.1 501.8,1129.8 502.6,1131.2 503.3,1131.7 504.1,1129.8 504.8,1129.9 505.6,1129.2 506.3,1133.4 507.1,1128.6 507.8,1128.9 508.6,1129.8 509.3,1127.6 510.1,1130.2 510.8,1133.0 511.6,1129.6 512.3,1132.7 513.0,1131.7 513.8,1130.3 514.5,1131.4 515.3,1133.0 516.0,1128.5 516.8,1131.8 517.5,1133.0 518.3,1129.1 519.0,1133.3 519.8,1132.0 520.5,1129.1 521.3,1131.7 522.0,1127.9 522.8,1128.3 523.5,1127.8 524.3,1133.2 525.0,1129.9 525.8,1128.8 526.5,1129.0 527.3,1129.7 528.0,1128.9 528.8,1128.3 529.5,1129.4 530.3,1126.9 531.0,1128.0 531.8,1131.7 532.5,1130.4 533.3,1126.3 534.0,1133.4 534.8,1128.9 535.5,1134.2 536.3,1131.4 537.0,1136.2 537.8,1127.2 538.5,1129.0 539.3,1129.0 540.0,1129.0 540.8,1128.3 541.5,1128.4 542.3,1129.2 543.0,1128.4 543.8,1129.6 544.5,1130.8 545.3,1126.8 546.0,1130.1 546.8,1128.8 547.5,1130.8 548.3,1132.5 549.0,1128.5 549.8,1130.6 550.5,1133.3 551.3,1133.6 552.0,1130.5 552.8,1133.4 553.5,1132.2 554.3,1131.8 555.0,1130.6 555.8,1132.0 556.5,1132.7 557.3,1129.8 558.0,1132.0 558.8,1128.6 559.5,1128.4 560.3,1131.8 561.0,1130.1 561.8,1128.9 562.5,1131.1 563.3,1131.8 564.0,1130.4 564.8,1133.2 565.5,1128.8 566.3,1126.5 567.0,1133.5 567.8,1128.2 568.5,1131.7 569.3,1127.1 570.0,1128.4 570.8,1130.1 571.5,1129.7 572.3,1133.6 573.0,1128.8 573.8,1130.8 574.5,1131.3 575.3,1130.9 576.0,1133.6 576.8,1130.3 577.5,1130.6 578.3,1129.8 579.0,1133.4 579.8,1131.9 580.5,1131.8 581.3,1131.5 582.0,1128.7 582.8,1132.5 583.5,1131.1 584.3,1133.2 585.0,1131.1 585.8,1128.6 586.5,1129.5 587.3,1133.6 588.0,1127.6 588.8,1127.2 589.5,1129.3 590.3,1132.6 591.0,1130.1 591.8,1127.8 592.5,1134.8 593.3,1129.1 594.0,1132.5 594.8,1134.0 595.5,1131.5 596.3,1132.7 597.0,1134.4 597.8,1128.9 598.5,1133.0 599.3,1133.7 600.0,1133.9 600.8,1130.5 601.5,1132.2 602.3,1130.1 603.0,1130.0 603.8,1129.3 604.5,1132.3 605.3,1131.4 606.0,1133.2 606.8,1126.2 607.5,1129.1 608.3,1131.5 609.0,1134.5 609.8,1129.8 610.5,1125.4 611.3,1130.4 612.0,1131.5 612.8,1133.5 613.5,1134.3 614.3,1133.6 615.0,1132.0 615.8,1136.4 616.5,1130.9 617.3,1132.2 618.0,1133.4 618.8,1131.2 619.5,1131.8 620.3,1133.5 621.0,1130.4 621.8,1131.8 622.5,1131.8 623.3,1136.5 624.0,1133.6 624.8,1130.5 625.5,1133.3 626.3,1129.7 627.0,1132.6 627.8,1128.5 628.5,1133.2 629.3,1131.4 630.0,1129.1 630.8,1132.5 631.5,1133.4 632.3,1132.5 633.0,1132.0 633.8,1129.0 634.5,1133.2 635.3,1127.2 636.0,1130.4 636.8,1135.3 637.5,1128.7 638.3,1127.8 639.0,1129.6 639.8,1132.2 640.5,1131.4 641.3,1133.6 642.0,1131.7 642.8,1127.0 643.5,1133.6 644.3,1130.7 645.0,1133.0 645.8,1134.2 646.5,1132.3 647.3,1133.6 648.0,1128.5 648.8,1127.4 649.5,1129.6 650.3,1128.0 651.0,1134.3 651.8,1134.1 652.5,1131.5 653.3,1131.9 654.0,1128.7 654.8,1128.8 655.5,1129.7 656.3,1130.5 657.0,1131.6 657.8,1130.9 658.5,1131.8 659.3,1128.8 660.0,1130.0 660.8,1131.9 661.5,1133.5 662.3,1128.5 663.0,1132.5 663.8,1133.4 664.5,1132.0 665.3,1132.4 666.0,1131.5 666.8,1132.4 667.5,1131.8 668.3,1129.7 669.0,1135.1 669.8,1132.8 670.5,1131.0 671.3,1134.3 672.0,1131.0 672.8,1132.5 673.5,1127.8 674.3,1129.6 675.0,1133.1 675.8,1134.1 676.5,1135.0 677.3,1134.4 678.0,1135.3 678.8,1130.6 679.5,1129.3 680.3,1127.6 681.0,1132.6 681.8,1132.1 682.5,1135.7 683.3,1132.4 684.0,1136.2 684.8,1130.0 685.5,1136.7 686.3,1133.2 687.0,1136.0 687.8,1135.1 688.5,1130.0 689.3,1134.8 690.0,1131.8 690.8,1134.7 691.5,1134.0 692.3,1133.6 693.0,1132.4 693.8,1132.2 694.5,1132.7 695.3,1127.7 696.0,1134.4 696.8,1132.2 697.5,1132.7 698.3,1130.4 699.0,1133.0 699.8,1131.7 700.5,1136.0 701.3,1130.3 702.0,1135.8 702.8,1130.9 703.5,1134.5 704.3,1133.4 705.0,1132.0 705.8,1129.8 706.5,1135.4 707.3,1127.6 708.0,1133.0 708.8,1136.5 709.5,1136.6 710.3,1134.5 711.0,1130.7 711.8,1133.7 712.5,1134.1 713.3,1132.4 714.0,1136.7 714.8,1134.5 715.5,1134.7 716.3,1133.9 717.0,1131.3 717.8,1132.0 718.5,1131.8 719.3,1139.1 720.0,1133.7 720.8,1134.4 721.5,1134.2 722.3,1134.1 723.0,1136.6 723.8,1134.9 724.5,1133.8 725.3,1133.5 726.0,1136.1 726.8,1129.5 727.5,1135.8 728.3,1132.0 729.0,1134.0 729.8,1131.3 730.5,1132.9 731.3,1132.3 732.0,1127.4 732.8,1130.4 733.5,1130.9 734.3,1129.8 735.0,1128.8 735.8,1133.7 736.5,1127.5 737.3,1133.1 738.0,1135.3 738.8,1130.8 739.5,1132.8 740.3,1135.5 741.0,1132.6 741.8,1132.5 742.5,1129.0 743.3,1136.0 744.0,1132.8 744.8,1130.6 745.5,1135.1 746.3,1132.6 747.0,1133.3 747.8,1132.2 748.5,1135.0 749.3,1134.9 750.0,1132.7 750.8,1133.7 751.5,1136.8 752.3,1134.1 753.0,1132.9 753.8,1139.8 754.5,1132.8 755.3,1134.4 756.0,1131.9 756.8,1132.7 757.5,1133.5 758.3,1135.9 759.0,1136.8 759.8,1133.7 760.5,1136.0 761.3,1134.3 762.0,1135.8 762.8,1132.7 763.5,1134.8 764.3,1133.8 765.0,1134.4 765.8,1139.2 766.5,1134.7 767.3,1137.0 768.0,1136.4 768.8,1131.1 769.5,1135.0 770.3,1136.4 771.0,1131.0 771.8,1132.4 772.5,1140.2 773.3,1134.0 774.0,1132.9 774.8,1133.7 775.5,1131.8 776.3,1133.7 777.0,1133.9 777.8,1131.3 778.5,1136.4 779.3,1137.0 780.0,1135.7 780.8,1132.0 781.5,1132.6 782.3,1130.9 783.0,1134.5 783.8,1132.9 784.5,1132.8 785.3,1132.6 786.0,1134.6 786.8,1134.5 787.5,1132.0 788.3,1137.5 789.0,1134.8 789.8,1131.8 790.5,1136.3 791.3,1132.9 792.0,1138.4 792.8,1137.5 793.5,1136.0 794.3,1139.7 795.0,1133.1 795.8,1135.6 796.5,1134.4 797.3,1133.2 798.0,1129.7 798.8,1137.3 799.5,1134.5 800.3,1133.1 801.0,1133.9 801.8,1140.7 802.5,1134.9 803.3,1133.3 804.0,1134.2 804.8,1137.0 805.5,1134.3 806.3,1134.1 807.0,1134.4 807.8,1133.4 808.5,1134.0 809.3,1137.3 810.0,1134.1 810.8,1134.4 811.5,1128.8 812.3,1136.0 813.0,1136.9 813.8,1132.8 814.5,1135.0 815.3,1131.7 816.0,1134.3 816.8,1134.2 817.5,1128.9 818.3,1135.4 819.0,1136.3 819.8,1133.7 820.5,1132.2 821.3,1134.9 822.0,1135.0 822.8,1137.6 823.5,1136.1 824.3,1136.3 825.0,1138.4 825.8,1137.5 826.5,1136.2 827.3,1134.4 828.0,1134.0 828.8,1134.0 829.5,1133.5 830.3,1134.2 831.0,1137.2 831.8,1134.0 832.5,1134.1 833.3,1130.3 834.0,1136.5 834.8,1133.6 835.5,1135.5 836.3,1135.1 837.0,1132.8 837.8,1135.1 838.5,1131.1 839.3,1132.7 840.0,1137.2 840.8,1132.2 841.5,1135.0 842.3,1134.2 843.0,1132.7 843.8,1137.4 844.5,1134.3 845.3,1136.2 846.0,1139.0 846.8,1131.8 847.5,1134.8 848.3,1137.0 849.0,1134.8 849.8,1137.3 850.5,1136.2 851.3,1135.3 852.0,1135.7 852.8,1130.6 853.5,1129.0 854.3,1130.8 855.0,1135.1 855.8,1132.6 856.5,1137.5 857.3,1132.3 858.0,1131.2 858.8,1130.7 859.5,1137.8 860.3,1135.1 861.0,1136.0 861.8,1132.1 862.5,1137.7 863.3,1131.2 864.0,1134.0 864.8,1133.0 865.5,1135.9 866.3,1131.2 867.0,1132.8 867.8,1133.1 868.5,1133.8 869.3,1134.0 870.0,1135.6 870.8,1136.2 871.5,1133.7 872.3,1134.1 873.0,1134.9 873.8,1135.5 874.5,1134.6 875.3,1136.0 876.0,1135.6 876.8,1136.8 877.5,1133.9 878.3,1135.7 879.0,1133.9 879.8,1128.2 880.5,1133.1 881.3,1134.7 882.0,1133.0 882.8,1131.8 883.5,1135.0 884.3,1135.8 885.0,1134.6 885.8,1134.5 886.5,1130.2 887.3,1134.0 888.0,1136.1 888.8,1135.3 889.5,1132.6 890.3,1134.8 891.0,1130.1 891.8,1131.4 892.5,1132.9 893.3,1132.7 894.0,1130.4 894.8,1131.1 895.5,1133.6 896.3,1130.2 897.0,1131.4 897.8,1131.5 898.5,1132.7 899.3,1129.3 900.0,1130.9 900.8,1132.6 901.5,1128.9 902.3,1128.4 903.0,1126.5 903.8,1130.8 904.5,1128.0 905.3,1127.6 906.0,1124.6 906.8,1127.2 907.5,1125.7 908.3,1126.7 909.0,1126.4 909.8,1126.8 910.5,1129.8 911.3,1123.7 912.0,1125.4 912.8,1123.8 913.5,1123.9 914.3,1124.2 915.0,1124.9 915.8,1122.3 916.5,1121.5 917.3,1121.3 918.0,1118.9 918.8,1116.3 919.5,1116.7 920.3,1114.0 921.0,1107.9 921.8,1110.3 922.5,1106.0 923.3,1105.5 924.0,1098.9 924.8,1088.4 925.5,1087.3 926.3,1082.9 927.0,1074.2 927.8,1072.7 928.5,1059.6 929.3,1057.4 930.0,1044.8 930.8,1035.0 931.5,1019.5 932.3,1009.4 933.0,996.0 933.8,986.5 934.5,974.1 935.3,960.0 936.0,937.3 936.8,931.4 937.5,918.7 938.3,914.8 939.0,910.6 939.8,907.9 940.5,912.8 941.3,924.3 942.0,932.0 942.8,942.6 943.5,957.4 944.3,968.3 945.0,986.0 945.8,996.1 946.5,1013.4 947.3,1018.7 948.0,1035.5 948.8,1044.3 949.5,1051.7 950.3,1061.3 951.0,1071.6 951.8,1079.9 952.5,1084.0 953.3,1090.1 954.0,1094.4 954.8,1098.6 955.5,1107.6 956.3,1108.3 957.0,1112.8 957.8,1111.0 958.5,1114.7 959.3,1115.4 960.0,1119.4 960.8,1119.1 961.5,1123.1 962.3,1121.2 963.0,1121.2 963.8,1121.1 964.5,1122.9 965.3,1126.6 966.0,1124.9 966.8,1126.9 967.5,1129.1 968.3,1130.8 969.0,1126.4 969.8,1128.4 970.5,1124.8 971.3,1130.0 972.0,1129.8 972.8,1130.6 973.5,1127.9 974.3,1129.8 975.0,1127.7 975.8,1132.8 976.5,1130.9 977.3,1131.1 978.0,1133.4 978.8,1134.5 979.5,1132.4 980.3,1133.9 981.0,1134.5 981.8,1133.4 982.5,1132.1 983.3,1132.6 984.0,1135.5 984.8,1134.4 985.5,1131.7 986.3,1131.9 987.0,1135.4 987.8,1134.1 988.5,1132.5 989.3,1131.8 990.0,1134.5 990.8,1137.4 991.5,1133.8 992.3,1132.4 993.0,1132.7 993.8,1136.8 994.5,1131.2 995.3,1134.5 996.0,1135.6 996.8,1134.9 997.5,1140.5 998.3,1137.2 999.0,1137.0 999.8,1138.6 1000.5,1136.4 1001.3,1133.0 1002.0,1136.7 1002.8,1135.2 1003.5,1134.9 1004.3,1138.4 1005.0,1134.1 1005.8,1135.7 1006.5,1135.6 1007.3,1135.5 1008.0,1139.4 1008.8,1133.5 1009.5,1135.0 1010.3,1137.6 1011.0,1135.3 1011.8,1134.1 1012.5,1134.9 1013.3,1138.4 1014.0,1133.9 1014.8,1140.0 1015.5,1140.5 1016.3,1137.5 1017.0,1138.1 1017.8,1138.4 1018.5,1137.0 1019.3,1138.4 1020.0,1133.8 1020.8,1134.7 1021.5,1136.2 1022.3,1136.8 1023.0,1138.9 1023.8,1138.2 1024.5,1139.2 1025.3,1137.5 1026.0,1137.1 1026.8,1138.0 1027.5,1135.4 1028.3,1135.0 1029.0,1133.4 1029.8,1131.6 1030.5,1136.0 1031.3,1136.6 1032.0,1135.1 1032.8,1135.6 1033.5,1134.3 1034.3,1139.5 1035.0,1140.1 1035.8,1136.0 1036.5,1139.8 1037.3,1137.7 1038.0,1136.0 1038.8,1137.6 1039.5,1136.8 1040.3,1136.8 1041.0,1135.5 1041.8,1138.4 1042.5,1135.1 1043.3,1136.8 1044.0,1139.0 1044.8,1141.3 1045.5,1137.6 1046.3,1138.0 1047.0,1139.2 1047.8,1137.5 1048.5,1140.3 1049.3,1133.4 1050.0,1138.9 1050.8,1136.2 1051.5,1138.1 1052.3,1140.3 1053.0,1137.7 1053.8,1136.7 1054.5,1137.5 1055.3,1136.3 1056.0,1137.2 1056.8,1136.1 1057.5,1135.2 1058.3,1133.9 1059.0,1137.7 1059.8,1136.0 1060.5,1134.2 1061.3,1134.4 1062.0,1136.9 1062.8,1135.1 1063.5,1137.2 1064.3,1139.0 1065.0,1143.0 1065.8,1137.5 1066.5,1139.9 1067.3,1133.9 1068.0,1135.6 1068.8,1135.8 1069.5,1137.6 1070.3,1133.8 1071.0,1139.0 1071.8,1138.3 1072.5,1138.2 1073.3,1138.6 1074.0,1137.0 1074.8,1140.1 1075.5,1138.8 1076.3,1138.0 1077.0,1139.6 1077.8,1136.5 1078.5,1137.7 1079.3,1137.6 1080.0,1138.8 1080.8,1137.6 1081.5,1138.6 1082.3,1135.6 1083.0,1135.8 1083.8,1138.9 1084.5,1137.9 1085.3,1136.5 1086.0,1138.4 1086.8,1138.5 1087.5,1139.8 1088.3,1138.6 1089.0,1136.5 1089.8,1138.2 1090.5,1140.2 1091.3,1139.4 1092.0,1137.2 1092.8,1140.7 1093.5,1137.2 1094.3,1138.3 1095.0,1135.2 1095.8,1138.9 1096.5,1139.4 1097.3,1138.4 1098.0,1138.8 1098.8,1137.5 1099.5,1139.9 1100.3,1138.0 1101.0,1139.9 1101.8,1139.4 1102.5,1138.6 1103.3,1140.2 1104.0,1138.7 1104.8,1137.6 1105.5,1134.9 1106.3,1140.7 1107.0,1141.8 1107.8,1137.8 1108.5,1135.6 1109.3,1137.4 1110.0,1134.1 1110.8,1137.6 1111.5,1139.5 1112.3,1137.1 1113.0,1137.2 1113.8,1132.5 1114.5,1135.6 1115.3,1133.8 1116.0,1139.5 1116.8,1136.1 1117.5,1135.7 1118.3,1137.4 1119.0,1138.1 1119.8,1136.9 1120.5,1134.0 1121.3,1135.8 1122.0,1135.8 1122.8,1133.8 1123.5,1135.4 1124.3,1132.2 1125.0,1134.7 1125.8,1135.8 1126.5,1134.4 1127.3,1131.8 1128.0,1134.4 1128.8,1135.1 1129.5,1134.7 1130.3,1131.4 1131.0,1132.9 1131.8,1132.9 1132.5,1138.5 1133.3,1133.5 1134.0,1131.4 1134.8,1133.8 1135.5,1130.7 1136.3,1130.6 1137.0,1133.2 1137.8,1131.8 1138.5,1129.0 1139.3,1126.0 1140.0,1121.1 1140.8,1125.6 1141.5,1122.3 1142.3,1125.0 1143.0,1124.0 1143.8,1117.8 1144.5,1116.2 1145.3,1114.7 1146.0,1115.2 1146.8,1114.5 1147.5,1107.1 1148.3,1102.2 1149.0,1102.2 1149.8,1097.5 1150.5,1093.5 1151.3,1091.5 1152.0,1080.7 1152.8,1078.2 1153.5,1068.4 1154.3,1062.2 1155.0,1054.6 1155.8,1043.5 1156.5,1030.9 1157.3,1022.9 1158.0,1015.5 1158.8,1003.7 1159.5,996.1 1160.3,991.4 1161.0,985.6 1161.8,987.0 1162.5,986.6 1163.3,981.6 1164.0,992.3 1164.8,995.1 1165.5,1003.8 1166.3,1015.8 1167.0,1022.1 1167.8,1030.5 1168.5,1038.5 1169.3,1049.8 1170.0,1059.4 1170.8,1068.2 1171.5,1072.8 1172.3,1085.2 1173.0,1086.9 1173.8,1096.6 1174.5,1097.9 1175.3,1105.8 1176.0,1109.6 1176.8,1107.9 1177.5,1112.4 1178.3,1115.0 1179.0,1119.4 1179.8,1118.2 1180.5,1119.5 1181.3,1128.7 1182.0,1126.7 1182.8,1128.9 1183.5,1128.1 1184.3,1129.5 1185.0,1131.2 1185.8,1131.0 1186.5,1130.7 1187.3,1131.1 1188.0,1135.2 1188.8,1131.4 1189.5,1134.7 1190.3,1134.0 1191.0,1133.5 1191.8,1135.8 1192.5,1133.3 1193.3,1129.9 1194.0,1136.1 1194.8,1134.7 1195.5,1135.1 1196.3,1136.7 1197.0,1134.5 1197.8,1137.6 1198.5,1134.8 1199.3,1140.1 1200.0,1133.3 1200.8,1136.0 1201.5,1135.7 1202.3,1133.9 1203.0,1134.6 1203.8,1136.7 1204.5,1133.2 1205.3,1136.8 1206.0,1139.1 1206.8,1134.6 1207.5,1135.4 1208.3,1134.1 1209.0,1136.3 1209.8,1137.0 1210.5,1135.9 1211.3,1136.3 1212.0,1138.3 1212.8,1138.9 1213.5,1135.9 1214.3,1137.4 1215.0,1137.0 1215.8,1135.1 1216.5,1138.2 1217.3,1139.1 1218.0,1138.7 1218.8,1136.4 1219.5,1140.3 1220.3,1139.7 1221.0,1136.8 1221.8,1137.8 1222.5,1140.4 1223.3,1137.9 1224.0,1141.4 1224.8,1142.4 1225.5,1139.4 1226.3,1139.8 1227.0,1139.8 1227.8,1142.4 1228.5,1141.6 1229.3,1137.8 1230.0,1137.2 1230.8,1138.7 1231.5,1139.3 1232.3,1137.9 1233.0,1141.9 1233.8,1140.4 1234.5,1142.2 1235.3,1142.5 1236.0,1138.8 1236.8,1144.8 1237.5,1144.1 1238.3,1140.6 1239.0,1139.4 1239.8,1139.6 1240.5,1142.3 1241.3,1140.3 1242.0,1142.1 1242.8,1145.2 1243.5,1141.6 1244.3,1141.1 1245.0,1142.7 1245.8,1142.5 1246.5,1139.9 1247.3,1138.4 1248.0,1141.6 1248.8,1141.1 1249.5,1141.0 1250.3,1142.1 1251.0,1142.6 1251.8,1139.6 1252.5,1142.4 1253.3,1136.3 1254.0,1139.8 1254.8,1140.2 1255.5,1140.9 1256.3,1141.5 1257.0,1140.2 1257.8,1139.5 1258.5,1140.7 1259.3,1140.9 1260.0,1139.1 1260.8,1140.6 1261.5,1140.3 1262.3,1141.7 1263.0,1137.8 1263.8,1138.3 1264.5,1136.7 1265.3,1142.7 1266.0,1140.3 1266.8,1141.0 1267.5,1137.2 1268.3,1142.1 1269.0,1141.4 1269.8,1143.5 1270.5,1143.7 1271.3,1141.3 1272.0,1140.6 1272.8,1140.9 1273.5,1139.9 1274.3,1139.4 1275.0,1140.3 1275.8,1141.0 1276.5,1139.3 1277.3,1140.5 1278.0,1145.2 1278.8,1140.8 1279.5,1141.3 1280.3,1143.3 1281.0,1140.4 1281.8,1141.2 1282.5,1138.9 1283.3,1141.5 1284.0,1139.5 1284.8,1137.1 1285.5,1141.8 1286.3,1143.5 1287.0,1140.5 1287.8,1144.8 1288.5,1137.7 1289.3,1138.2 1290.0,1141.6 1290.8,1143.4 1291.5,1141.3 1292.3,1140.8 1293.0,1139.6 1293.8,1145.5 1294.5,1140.7 1295.3,1143.2 1296.0,1142.4 1296.8,1139.1 1297.5,1143.8 1298.3,1140.8 1299.0,1142.8 1299.8,1143.0 1300.5,1141.4 1301.3,1145.1 1302.0,1144.4 1302.8,1141.3 1303.5,1143.0 1304.3,1143.7 1305.0,1145.0 1305.8,1141.0 1306.5,1145.9 1307.3,1140.1 1308.0,1139.7 1308.8,1143.7 1309.5,1140.6 1310.3,1147.5 1311.0,1138.5 1311.8,1142.0 1312.5,1142.9 1313.3,1137.8 1314.0,1143.0 1314.8,1137.5 1315.5,1139.9 1316.3,1140.2 1317.0,1140.5 1317.8,1142.1 1318.5,1142.4 1319.3,1139.4 1320.0,1139.5 1320.8,1141.9 1321.5,1138.6 1322.3,1145.1 1323.0,1142.0 1323.8,1147.5 1324.5,1142.8 1325.3,1140.1 1326.0,1139.0 1326.8,1143.5 1327.5,1135.5 1328.3,1139.5 1329.0,1144.9 1329.8,1140.7 1330.5,1142.4 1331.3,1141.2 1332.0,1142.6 1332.8,1140.0 1333.5,1142.1 1334.3,1144.7 1335.0,1142.0 1335.8,1142.0 1336.5,1144.1 1337.3,1143.6 1338.0,1141.7 1338.8,1139.4 1339.5,1138.6 1340.3,1141.1 1341.0,1140.8 1341.8,1144.3 1342.5,1147.3 1343.3,1144.3 1344.0,1140.0 1344.8,1140.5 1345.5,1137.9 1346.3,1141.8 1347.0,1141.9 1347.8,1143.4 1348.5,1139.7 1349.3,1142.3 1350.0,1141.8 1350.8,1143.9 1351.5,1139.1 1352.3,1144.8 1353.0,1142.2 1353.8,1142.0 1354.5,1139.7 1355.3,1141.7 1356.0,1142.7 1356.8,1141.6 1357.5,1142.5 1358.3,1139.8 1359.0,1142.2 1359.8,1140.4 1360.5,1138.6 1361.3,1139.7 1362.0,1142.0 1362.8,1143.4 1363.5,1143.0 1364.3,1145.7 1365.0,1143.6 1365.8,1143.0 1366.5,1141.8 1367.3,1143.9 1368.0,1142.7 1368.8,1139.0 1369.5,1143.9 1370.3,1142.7 1371.0,1142.2 1371.8,1147.6 1372.5,1143.3 1373.3,1143.5 1374.0,1142.8 1374.8,1140.3 1375.5,1141.5 1376.3,1141.3 1377.0,1141.4 1377.8,1139.4 1378.5,1141.7 1379.3,1140.4 1380.0,1138.6 1380.8,1136.0 1381.5,1138.9 1382.3,1141.1 1383.0,1138.7 1383.8,1138.3 1384.5,1139.5 1385.3,1140.6 1386.0,1144.9 1386.8,1142.9 1387.5,1137.4 1388.3,1141.0 1389.0,1142.3 1389.8,1144.1 1390.5,1141.7 1391.3,1145.5 1392.0,1140.4 1392.8,1146.0 1393.5,1141.0 1394.3,1141.5 1395.0,1142.3 1395.8,1140.4 1396.5,1139.2 1397.3,1142.2 1398.0,1141.7 1398.8,1144.4 1399.5,1142.9 1400.3,1139.8 1401.0,1142.2 1401.8,1139.5 1402.5,1137.9 1403.3,1140.8 1404.0,1140.2 1404.8,1140.0 1405.5,1143.4 1406.3,1141.5 1407.0,1139.7 1407.8,1140.6 1408.5,1142.2 1409.3,1137.5 1410.0,1142.7 1410.8,1142.3 1411.5,1142.9 1412.3,1144.6 1413.0,1147.6 1413.8,1140.5 1414.5,1147.5 1415.3,1142.4 1416.0,1139.7 1416.8,1142.0 1417.5,1142.0 1418.3,1143.1 1419.0,1140.5 1419.8,1140.5 1420.5,1142.9 1421.3,1140.9 1422.0,1141.5 1422.8,1141.1 1423.5,1143.2 1424.3,1144.8 1425.0,1141.5 1425.8,1136.3 1426.5,1143.3 1427.3,1139.8 1428.0,1141.7 1428.8,1140.2 1429.5,1137.2 1430.3,1141.8 1431.0,1139.7 1431.8,1140.7 1432.5,1141.1 1433.3,1145.7 1434.0,1140.1 1434.8,1140.5 1435.5,1139.9 1436.3,1140.7 1437.0,1141.9 1437.8,1140.9 1438.5,1141.8 1439.3,1141.4 1440.0,1141.3 1440.8,1141.3 1441.5,1146.7 1442.3,1140.1 1443.0,1141.6 1443.8,1139.4 1444.5,1142.5 1445.3,1142.4 1446.0,1140.6 1446.8,1138.7 1447.5,1141.9 1448.3,1142.8 1449.0,1137.1 1449.8,1138.9 1450.5,1140.3 1451.3,1140.5 1452.0,1140.7 1452.8,1142.1 1453.5,1140.2 1454.3,1140.8 1455.0,1142.3 1455.8,1140.4 1456.5,1146.9 1457.3,1141.5 1458.0,1143.3 1458.8,1141.9 1459.5,1142.9 1460.3,1141.6 1461.0,1141.7 1461.8,1142.3 1462.5,1140.4 1463.3,1144.4 1464.0,1139.8 1464.8,1143.5 1465.5,1140.4 1466.3,1142.8 1467.0,1142.0 1467.8,1143.5 1468.5,1146.8 1469.3,1146.0 1470.0,1140.2 1470.8,1141.1 1471.5,1139.4 1472.3,1141.3 1473.0,1138.6 1473.8,1142.2 1474.5,1138.7 1475.3,1144.9 1476.0,1141.4 1476.8,1139.9 1477.5,1141.6 1478.3,1143.1 1479.0,1138.7 1479.8,1145.5 1480.5,1142.8 1481.3,1140.5 1482.0,1138.9 1482.8,1141.5 1483.5,1141.6 1484.3,1142.0 1485.0,1140.5 1485.8,1139.2 1486.5,1142.9 1487.3,1141.2 1488.0,1139.7 1488.8,1142.0 1489.5,1141.8 1490.3,1141.5 1491.0,1143.8 1491.8,1137.1 1492.5,1143.8 1493.3,1141.4 1494.0,1141.1 1494.8,1141.3 1495.5,1142.7 1496.3,1139.6 1497.0,1141.7 1497.8,1143.7 1498.5,1143.1 1499.3,1139.3 1500.0,1139.7 1500.8,1138.2 1501.5,1138.1 1502.3,1142.5 1503.0,1142.9 1503.8,1138.7 1504.5,1145.1 1505.3,1144.2 1506.0,1142.8 1506.8,1141.0 1507.5,1140.9 1508.3,1143.8 1509.0,1143.1 1509.8,1138.9 1510.5,1142.2 1511.3,1142.0 1512.0,1144.2 1512.8,1139.5 1513.5,1140.4 1514.3,1140.6 1515.0,1140.6 1515.8,1139.8 1516.5,1143.8 1517.3,1139.3 1518.0,1140.1 1518.8,1139.2 1519.5,1140.6 1520.3,1143.3 1521.0,1141.6 1521.8,1142.7 1522.5,1142.3 1523.3,1140.8 1524.0,1137.5 1524.8,1141.5 1525.5,1141.0 1526.3,1140.6 1527.0,1140.1 1527.8,1140.6 1528.5,1139.6 1529.3,1136.9 1530.0,1139.7 1530.8,1141.4 1531.5,1144.4 1532.3,1142.2 1533.0,1137.3 1533.8,1141.6 1534.5,1143.8 1535.3,1143.3 1536.0,1140.7 1536.8,1138.9 1537.5,1143.8 1538.3,1141.4 1539.0,1146.0 1539.8,1139.8 1540.5,1146.1 1541.3,1139.6 1542.0,1145.8 1542.8,1142.3 1543.5,1143.8 1544.3,1142.9 1545.0,1144.0 1545.8,1142.5 1546.5,1143.6 1547.3,1139.7 1548.0,1141.9 1548.8,1139.6 1549.5,1142.0 1550.3,1142.6 1551.0,1141.9 1551.8,1144.3 1552.5,1146.5 1553.3,1143.3 1554.0,1144.0 1554.8,1145.0 1555.5,1140.4 1556.3,1141.2 1557.0,1142.3 1557.8,1140.6 1558.5,1141.8 1559.3,1139.9 1560.0,1140.9 1560.8,1146.3 1561.5,1143.3 1562.3,1140.3 1563.0,1144.2 1563.8,1142.5 1564.5,1138.9 1565.3,1140.8 1566.0,1141.3 1566.8,1142.0 1567.5,1139.9 1568.3,1142.9 1569.0,1140.4 1569.8,1145.7 1570.5,1143.1 1571.3,1144.3 1572.0,1144.1 1572.8,1139.2 1573.5,1144.4 1574.3,1147.3 1575.0,1145.6 1575.8,1143.0 1576.5,1140.3 1577.3,1144.7 1578.0,1141.6 1578.8,1143.2 1579.5,1144.6 1580.3,1145.2 1581.0,1141.0 1581.8,1144.4 1582.5,1143.3 1583.3,1141.4 1584.0,1141.1 1584.8,1142.3 1585.5,1144.7 1586.3,1140.3 1587.0,1142.9 1587.8,1139.5 1588.5,1140.2 1589.3,1141.2 1590.0,1141.1 1590.8,1141.1 1591.5,1140.0 1592.3,1140.3 1593.0,1140.8 1593.8,1143.2 1594.5,1142.7 1595.3,1143.7 1596.0,1144.6 1596.8,1142.4 1597.5,1141.4 1598.3,1141.4 1599.0,1146.1 1599.8,1144.7 1600.5,1146.0 1601.3,1145.4 1602.0,1142.8 1602.8,1144.2 1603.5,1143.4 1604.3,1147.4 1605.0,1144.3 1605.8,1146.3 1606.5,1143.3 1607.3,1145.7 1608.0,1143.5 1608.8,1141.7 1609.5,1145.5 1610.3,1141.4 1611.0,1142.3 1611.8,1144.5 1612.5,1143.8 1613.3,1142.3 1614.0,1143.3 1614.8,1145.9 1615.5,1141.9 1616.3,1138.3 1617.0,1145.3 1617.8,1142.0 1618.5,1142.2 1619.3,1144.2 1620.0,1141.6 1620.8,1141.8 1621.5,1147.4 1622.3,1143.2 1623.0,1141.8 1623.8,1140.2 1624.5,1139.9 1625.3,1143.6 1626.0,1142.9 1626.8,1139.8 1627.5,1142.2 1628.3,1137.4 1629.0,1143.1 1629.8,1142.4 1630.5,1140.5 1631.3,1144.3 1632.0,1142.9 1632.8,1141.6 1633.5,1141.7 1634.3,1141.9 1635.0,1144.1 1635.8,1143.8 1636.5,1141.7 1637.3,1140.2 1638.0,1142.2 1638.8,1143.5 1639.5,1141.1 1640.3,1141.3 1641.0,1142.2 1641.8,1142.9 1642.5,1143.4 1643.3,1144.0 1644.0,1137.9 1644.8,1143.4 1645.5,1141.8 1646.3,1139.7 1647.0,1142.8 1647.8,1137.3 1648.5,1137.9 1649.3,1145.9 1650.0,1139.6 1650.8,1142.9 1651.5,1140.5 1652.3,1142.1 1653.0,1140.8 1653.8,1144.7 1654.5,1138.4 1655.3,1142.3 1656.0,1140.0 1656.8,1139.8 1657.5,1143.3 1658.3,1139.7 1659.0,1141.2 1659.8,1142.2 1660.5,1141.3 1661.3,1142.3 1662.0,1143.0 1662.8,1141.3 1663.5,1140.0 1664.3,1140.4 1665.0,1140.0 1665.8,1143.0 1666.5,1139.9 1667.3,1142.3 1668.0,1143.2 1668.8,1140.7 1669.5,1139.3 1670.3,1144.3 1671.0,1142.6 1671.8,1142.1 1672.5,1142.0 1673.3,1142.2 1674.0,1142.5 1674.8,1141.3 1675.5,1140.1 1676.3,1142.2 1677.0,1142.5 1677.8,1139.7 1678.5,1137.1 1679.3,1143.0 1680.0,1142.6 1680.8,1142.3 1681.5,1139.8 1682.3,1145.0 1683.0,1141.7 1683.8,1140.4 1684.5,1139.7 1685.3,1144.7 1686.0,1141.9 1686.8,1141.7 1687.5,1139.9 1688.3,1143.5 1689.0,1141.5 1689.8,1145.3 1690.5,1142.8 1691.3,1142.5 1692.0,1139.7 1692.8,1138.8 1693.5,1139.2 1694.3,1139.9 1695.0,1138.2 1695.8,1138.6 1696.5,1138.1 1697.3,1141.5 1698.0,1142.3 1698.8,1139.0 1699.5,1143.5 1700.3,1141.4 1701.0,1140.9 1701.8,1141.9 1702.5,1144.7 1703.3,1142.8 1704.0,1144.0 1704.8,1147.3 1705.5,1141.7 1706.3,1142.0 1707.0,1143.1 1707.8,1140.0 1708.5,1140.3 1709.3,1139.7 1710.0,1144.6 1710.8,1141.8 1711.5,1139.6 1712.3,1138.5 1713.0,1141.8 1713.8,1142.4 1714.5,1139.9 1715.3,1142.6 1716.0,1139.7 1716.8,1143.5 1717.5,1142.2 1718.3,1140.8 1719.0,1138.7 1719.8,1141.7 1720.5,1142.6 1721.3,1145.5 1722.0,1141.0 1722.8,1141.7 1723.5,1140.4 1724.3,1143.2 1725.0,1141.7 1725.8,1140.1 1726.5,1141.3 1727.3,1141.3 1728.0,1140.1 1728.8,1142.3 1729.5,1140.4 1730.3,1140.6 1731.0,1141.3 1731.8,1137.9 1732.5,1141.4 1733.3,1140.1 1734.0,1139.2 1734.8,1144.3 1735.5,1141.3 1736.3,1135.6 1737.0,1137.3 1737.8,1138.9 1738.5,1143.1 1739.3,1136.1 1740.0,1141.4 1740.8,1138.4 1741.5,1141.1 1742.3,1145.2 1743.0,1143.0 1743.8,1141.4 1744.5,1140.1 1745.3,1142.2 1746.0,1138.9 1746.8,1138.6 1747.5,1140.7 1748.3,1144.2 1749.0,1141.3 1749.8,1143.3 1750.5,1139.9 1751.3,1141.5 1752.0,1138.5 1752.8,1141.9 1753.5,1140.4 1754.3,1144.3 1755.0,1143.0 1755.8,1142.6 1756.5,1143.6 1757.3,1140.2 1758.0,1136.1 1758.8,1137.0 1759.5,1140.3 1760.3,1137.5 1761.0,1138.8 1761.8,1139.5 1762.5,1141.6 1763.3,1135.8 1764.0,1143.0 1764.8,1143.2 1765.5,1142.3 1766.3,1142.5 1767.0,1146.2 1767.8,1142.4 1768.5,1137.0 1769.3,1144.3 1770.0,1139.1 1770.8,1141.3 1771.5,1144.2 1772.3,1138.7 1773.0,1140.1 1773.8,1143.1 1774.5,1140.3 1775.3,1143.5 1776.0,1139.7 1776.8,1139.9 1777.5,1140.7 1778.3,1140.5 1779.0,1141.6 1779.8,1142.5 1780.5,1143.2 1781.3,1137.7 1782.0,1139.5 1782.8,1140.2 1783.5,1142.1 1784.3,1141.7 1785.0,1138.1 1785.8,1144.3 1786.5,1140.1 1787.3,1145.3 1788.0,1139.1 1788.8,1139.7 1789.5,1147.1 1790.3,1140.4 1791.0,1141.3 1791.8,1143.4 1792.5,1142.2 1793.3,1145.1 1794.0,1139.6 1794.8,1141.3 1795.5,1139.4 1796.3,1142.2 1797.0,1142.6 1797.8,1141.7 1798.5,1138.5 1799.3,1141.6 1800.0,1138.6 1800.8,1136.8 1801.5,1139.7 1802.3,1140.8 1803.0,1141.7 1803.8,1138.8 1804.5,1139.7 1805.3,1143.9 1806.0,1139.6 1806.8,1140.6 1807.5,1138.3 1808.3,1144.1 1809.0,1135.5 1809.8,1139.8 1810.5,1139.9 1811.3,1140.2 1812.0,1142.7 1812.8,1140.8 1813.5,1143.0 1814.3,1145.9 1815.0,1139.6 1815.8,1140.8 1816.5,1139.5 1817.3,1141.4 1818.0,1139.2 1818.8,1142.1 1819.5,1135.0 1820.3,1142.6 1821.0,1139.2 1821.8,1140.9 1822.5,1136.1 1823.3,1142.5 1824.0,1135.8 1824.8,1137.1 1825.5,1140.1 1826.3,1137.4 1827.0,1138.0 1827.8,1143.7 1828.5,1140.5 1829.3,1138.8 1830.0,1135.6 1830.8,1141.2 1831.5,1141.2 1832.3,1139.1 1833.0,1135.9 1833.8,1138.7 1834.5,1134.9 1835.3,1138.1 1836.0,1141.6 1836.8,1143.4 1837.5,1143.3 1838.3,1142.0 1839.0,1142.7 1839.8,1137.7 1840.5,1141.8 1841.3,1136.9 1842.0,1138.4 1842.8,1140.7 1843.5,1144.6 1844.3,1139.1 1845.0,1138.4 1845.8,1141.6 1846.5,1142.0 1847.3,1138.1 1848.0,1140.9 1848.8,1139.1 1849.5,1142.1 1850.3,1141.6 1851.0,1140.8 1851.8,1140.2 1852.5,1141.1 1853.3,1138.3 1854.0,1143.4 1854.8,1144.0 1855.5,1141.5 1856.3,1137.4 1857.0,1143.4 1857.8,1137.2 1858.5,1141.7 1859.3,1142.1 1860.0,1141.2 1860.8,1142.9 1861.5,1144.2 1862.3,1138.9 1863.0,1143.4 1863.8,1138.0 1864.5,1140.5 1865.3,1138.1 1866.0,1139.2 1866.8,1139.7 1867.5,1138.4 1868.3,1139.5 1869.0,1138.6 1869.8,1138.7 1870.5,1139.1 1871.3,1138.5 1872.0,1142.7 1872.8,1137.4 1873.5,1146.3 1874.3,1139.4 1875.0,1137.3 1875.8,1136.6 1876.5,1138.4 1877.3,1139.0 1878.0,1139.7 1878.8,1142.4 1879.5,1135.9 1880.3,1139.9 1881.0,1140.2 1881.8,1136.9 1882.5,1140.0 1883.3,1142.5 1884.0,1142.0 1884.8,1138.4 1885.5,1142.8 1886.3,1140.5 1887.0,1139.8 1887.8,1139.3 1888.5,1141.7 1889.3,1140.0 1890.0,1141.1 1890.8,1139.3 1891.5,1139.7 1892.3,1140.7 1893.0,1140.5 1893.8,1138.9 1894.5,1139.5 1895.3,1138.6 1896.0,1139.4 1896.8,1136.2 1897.5,1137.7 1898.3,1141.0 1899.0,1139.2 1899.8,1138.6 1900.5,1136.1 1901.3,1138.7 1902.0,1137.7 1902.8,1137.0 1903.5,1141.0 1904.3,1133.9 1905.0,1137.8 1905.8,1139.4 1906.5,1139.1 1907.3,1137.7 1908.0,1136.5 1908.8,1135.3 1909.5,1137.4 1910.3,1134.6 1911.0,1133.6 1911.8,1132.9 1912.5,1134.1 1913.3,1130.6 1914.0,1128.0 1914.8,1125.9 1915.5,1127.1 1916.3,1121.5 1917.0,1126.7 1917.8,1121.3 1918.5,1122.7 1919.3,1123.4 1920.0,1120.5 1920.8,1121.0 1921.5,1121.7 1922.3,1117.1 1923.0,1111.3 1923.8,1116.0 1924.5,1112.7 1925.3,1113.7 1926.0,1112.9 1926.8,1107.9 1927.5,1113.1 1928.3,1108.6 1929.0,1110.9 1929.8,1109.4 1930.5,1117.1 1931.3,1114.9 1932.0,1117.7 1932.8,1114.5 1933.5,1118.3 1934.3,1123.5 1935.0,1125.7 1935.8,1123.8 1936.5,1123.1 1937.3,1125.6 1938.0,1127.0 1938.8,1128.4 1939.5,1126.0 1940.3,1131.9 1941.0,1128.4 1941.8,1131.6 1942.5,1132.7 1943.3,1134.8 1944.0,1130.7 1944.8,1133.8 1945.5,1135.6 1946.3,1137.4 1947.0,1136.4 1947.8,1138.3 1948.5,1136.8 1949.3,1136.5 1950.0,1134.9 1950.8,1140.0 1951.5,1145.0 1952.3,1135.2 1953.0,1137.9 1953.8,1137.0 1954.5,1139.6 1955.3,1146.0 1956.0,1138.8 1956.8,1142.2 1957.5,1140.1 1958.3,1137.9 1959.0,1138.3 1959.8,1142.8 1960.5,1140.3 1961.3,1144.2 1962.0,1142.4 1962.8,1142.5 1963.5,1139.7 1964.3,1141.6 1965.0,1138.4 1965.8,1143.0 1966.5,1141.5 1967.3,1144.5 1968.0,1140.2 1968.8,1141.7 1969.5,1140.0 1970.3,1142.7 1971.0,1138.5 1971.8,1141.2 1972.5,1140.3 1973.3,1136.8 1974.0,1139.6 1974.8,1144.3 1975.5,1143.9 1976.3,1141.6 1977.0,1145.0 1977.8,1142.9 1978.5,1143.5 1979.3,1142.1 1980.0,1140.6 1980.8,1142.1 1981.5,1145.2 1982.3,1141.9 1983.0,1137.1 1983.8,1143.3 1984.5,1141.6 1985.3,1137.5 1986.0,1142.3 1986.8,1142.3 1987.5,1142.9 1988.3,1144.1 1989.0,1142.4 1989.8,1143.2 1990.5,1141.2 1991.3,1140.6 1992.0,1143.0 1992.8,1141.8 1993.5,1141.6 1994.3,1140.9 1995.0,1142.8 1995.8,1139.9 1996.5,1141.4 1997.3,1141.1 1998.0,1146.0 1998.8,1144.0 1999.5,1143.4 2000.3,1146.7 2001.0,1140.3 2001.8,1144.0 2002.5,1145.6 2003.3,1142.9 2004.0,1142.4 2004.8,1142.4 2005.5,1143.9 2006.3,1143.7 2007.0,1142.5 2007.8,1145.7 2008.5,1145.8 2009.3,1144.8 2010.0,1139.9 2010.8,1143.7 2011.5,1143.2 2012.3,1141.2 2013.0,1144.5 2013.8,1141.4 2014.5,1145.3 2015.3,1145.6 2016.0,1143.5 2016.8,1146.9 2017.5,1141.2 2018.3,1147.0 2019.0,1144.0 2019.8,1143.0 2020.5,1142.8 2021.3,1146.3 2022.0,1143.0 2022.8,1142.1 2023.5,1147.2 2024.3,1142.8 2025.0,1147.2 2025.8,1142.5 2026.5,1144.1 2027.3,1141.3 2028.0,1141.9 2028.8,1143.4 2029.5,1140.7 2030.3,1143.0 2031.0,1142.1 2031.8,1143.0 2032.5,1146.1 2033.3,1143.5 2034.0,1143.2 2034.8,1142.1 2035.5,1144.9 2036.3,1144.4 2037.0,1146.8 2037.8,1144.8 2038.5,1145.8 2039.3,1144.6 2040.0,1147.0 2040.8,1141.1 2041.5,1144.8 2042.3,1142.0 2043.0,1141.0 2043.8,1143.9 2044.5,1142.3 2045.3,1146.0 2046.0,1144.9 2046.8,1143.0 2047.5,1143.1 2048.3,1146.2 2049.1,1145.0 2049.8,1147.4 2050.6,1143.5 2051.3,1149.6 2052.1,1143.7 2052.8,1140.8 2053.6,1145.5 2054.3,1148.6 2055.1,1143.8 2055.8,1142.7 2056.6,1140.9 2057.3,1143.1 2058.1,1145.0 2058.8,1145.6 2059.6,1146.3 2060.3,1148.5 2061.1,1143.6 2061.8,1147.1 2062.6,1145.1 2063.3,1148.3 2064.1,1145.8 2064.8,1145.9 2065.6,1145.7 2066.3,1143.5 2067.1,1143.0 2067.8,1144.8 2068.6,1142.8 2069.3,1147.9 2070.1,1142.1 2070.8,1145.3 2071.6,1145.3 2072.3,1143.8 2073.1,1144.2 2073.8,1145.3 2074.6,1146.8 2075.3,1145.3 2076.1,1146.7 2076.8,1145.2 2077.6,1150.5 2078.3,1142.8 2079.1,1140.3 2079.8,1147.6 2080.6,1147.1 2081.3,1145.2"/>
<polyline fill="none" stroke="#3c3c3c" stroke-width="2.4" stroke-linejoin="round" points="182.3,1385.0 183.1,1376.8 183.8,1382.6 184.6,1385.8 185.3,1380.6 186.1,1383.0 186.8,1385.6 187.6,1380.4 188.3,1384.0 189.1,1386.1 189.8,1383.4 190.6,1385.6 191.3,1382.3 192.1,1380.9 192.8,1383.5 193.6,1379.9 194.3,1384.7 195.1,1382.7 195.8,1380.2 196.6,1384.8 197.3,1384.0 198.1,1382.1 198.8,1381.5 199.6,1383.4 200.3,1379.7 201.1,1380.4 201.8,1388.2 202.6,1383.2 203.3,1384.8 204.1,1382.8 204.8,1385.5 205.6,1380.2 206.3,1384.5 207.1,1384.1 207.8,1387.8 208.6,1385.6 209.3,1381.9 210.1,1382.8 210.8,1386.7 211.6,1387.9 212.3,1384.9 213.1,1380.2 213.8,1386.6 214.6,1383.8 215.3,1384.5 216.1,1379.4 216.8,1383.2 217.6,1378.1 218.3,1384.0 219.1,1382.3 219.8,1382.6 220.6,1380.1 221.3,1382.4 222.1,1381.3 222.8,1378.1 223.6,1381.8 224.3,1380.6 225.1,1378.2 225.8,1383.0 226.6,1378.4 227.3,1379.6 228.1,1377.4 228.8,1377.8 229.6,1382.0 230.3,1385.8 231.1,1380.2 231.8,1381.0 232.6,1381.1 233.3,1383.9 234.1,1386.8 234.8,1383.0 235.6,1382.2 236.3,1384.6 237.1,1383.8 237.8,1381.7 238.6,1382.1 239.3,1380.0 240.1,1381.7 240.8,1378.5 241.6,1383.8 242.3,1383.6 243.1,1376.5 243.8,1376.5 244.6,1376.5 245.3,1379.5 246.1,1382.5 246.8,1379.6 247.6,1382.4 248.3,1377.1 249.1,1379.6 249.8,1379.8 250.6,1377.9 251.3,1378.1 252.1,1381.2 252.8,1380.5 253.6,1381.7 254.3,1374.4 255.1,1382.9 255.8,1383.5 256.6,1384.2 257.3,1379.9 258.1,1378.7 258.8,1382.5 259.6,1380.5 260.3,1382.2 261.1,1375.6 261.8,1379.7 262.6,1380.9 263.3,1378.4 264.1,1378.4 264.8,1384.1 265.6,1381.7 266.3,1378.6 267.1,1383.9 267.8,1379.4 268.6,1378.2 269.3,1378.2 270.1,1378.4 270.8,1380.6 271.6,1379.2 272.3,1379.6 273.1,1378.2 273.8,1380.6 274.6,1377.9 275.3,1380.3 276.1,1377.5 276.8,1382.0 277.6,1381.4 278.3,1379.6 279.1,1380.3 279.8,1378.5 280.6,1378.6 281.3,1379.6 282.1,1381.0 282.8,1375.3 283.6,1377.8 284.3,1379.7 285.1,1376.0 285.8,1375.8 286.6,1380.5 287.3,1377.7 288.1,1382.5 288.8,1380.6 289.6,1379.2 290.3,1378.9 291.1,1378.9 291.8,1378.7 292.6,1378.3 293.3,1376.4 294.1,1378.2 294.8,1379.8 295.6,1377.1 296.3,1376.9 297.1,1377.7 297.8,1385.0 298.6,1381.8 299.3,1380.2 300.1,1377.8 300.8,1380.8 301.6,1375.2 302.3,1380.2 303.1,1379.2 303.8,1383.6 304.6,1380.5 305.3,1378.5 306.1,1380.1 306.8,1378.3 307.6,1380.8 308.3,1379.2 309.1,1381.4 309.8,1381.6 310.6,1377.2 311.3,1382.1 312.1,1373.5 312.8,1376.2 313.6,1380.1 314.3,1379.9 315.1,1382.2 315.8,1378.0 316.6,1378.3 317.3,1380.1 318.1,1377.4 318.8,1379.6 319.6,1377.4 320.3,1377.8 321.1,1380.2 321.8,1379.4 322.6,1376.3 323.3,1380.6 324.1,1374.8 324.8,1378.3 325.6,1378.8 326.3,1376.1 327.1,1374.8 327.8,1375.5 328.6,1378.1 329.3,1381.4 330.1,1377.2 330.8,1374.5 331.6,1376.9 332.3,1375.3 333.1,1381.2 333.8,1379.6 334.6,1379.4 335.3,1374.1 336.1,1374.9 336.8,1375.6 337.6,1377.4 338.3,1377.0 339.1,1376.6 339.8,1379.7 340.6,1375.5 341.3,1380.0 342.1,1378.9 342.8,1373.8 343.6,1376.9 344.3,1381.5 345.1,1378.5 345.8,1375.3 346.6,1377.4 347.3,1377.0 348.1,1379.0 348.8,1376.3 349.6,1379.3 350.3,1377.0 351.1,1376.5 351.8,1379.9 352.6,1378.6 353.3,1374.5 354.1,1378.3 354.8,1378.1 355.6,1378.9 356.3,1380.6 357.1,1375.2 357.8,1379.4 358.6,1377.3 359.3,1379.6 360.1,1376.1 360.8,1378.2 361.6,1380.7 362.3,1377.6 363.1,1379.2 363.8,1372.6 364.6,1375.4 365.3,1375.6 366.1,1377.2 366.8,1377.3 367.6,1379.2 368.3,1375.6 369.1,1381.8 369.8,1382.1 370.6,1376.9 371.3,1379.8 372.1,1382.2 372.8,1377.9 373.6,1379.2 374.3,1381.0 375.1,1381.1 375.8,1380.2 376.6,1378.3 377.3,1379.4 378.1,1378.0 378.8,1380.3 379.6,1377.5 380.3,1377.0 381.1,1376.2 381.8,1381.4 382.6,1377.0 383.3,1375.5 384.1,1379.1 384.8,1377.0 385.6,1379.3 386.3,1377.9 387.1,1378.2 387.8,1378.1 388.6,1378.7 389.3,1377.7 390.1,1376.3 390.8,1378.5 391.6,1379.0 392.3,1374.7 393.1,1377.5 393.8,1379.1 394.6,1382.7 395.3,1382.5 396.1,1384.4 396.8,1381.2 397.6,1380.2 398.3,1381.0 399.1,1380.0 399.8,1381.2 400.6,1375.9 401.3,1379.5 402.1,1382.9 402.8,1378.3 403.6,1374.3 404.3,1378.1 405.1,1379.3 405.8,1381.2 406.6,1375.3 407.3,1378.6 408.1,1381.5 408.8,1379.9 409.6,1377.4 410.3,1381.5 411.1,1379.4 411.8,1379.7 412.6,1379.6 413.3,1378.7 414.1,1381.7 414.8,1382.2 415.6,1380.6 416.3,1381.8 417.1,1380.2 417.8,1379.2 418.6,1379.9 419.3,1378.7 420.1,1379.0 420.8,1378.6 421.6,1381.5 422.3,1375.2 423.1,1377.6 423.8,1379.9 424.6,1377.1 425.3,1378.1 426.1,1378.5 426.8,1378.3 427.6,1378.8 428.3,1377.0 429.1,1377.8 429.8,1376.7 430.6,1378.2 431.3,1377.5 432.1,1376.1 432.8,1379.0 433.6,1379.6 434.3,1380.0 435.1,1379.8 435.8,1381.1 436.6,1380.3 437.3,1380.0 438.1,1381.9 438.8,1380.0 439.6,1378.3 440.3,1381.4 441.1,1380.0 441.8,1376.7 442.6,1378.9 443.3,1377.6 444.1,1381.6 444.8,1379.0 445.6,1375.7 446.3,1377.2 447.1,1384.7 447.8,1379.4 448.6,1379.7 449.3,1378.8 450.1,1379.6 450.8,1381.7 451.6,1380.2 452.3,1378.8 453.1,1379.7 453.8,1382.6 454.6,1380.9 455.3,1379.6 456.1,1383.0 456.8,1378.0 457.6,1375.8 458.3,1379.7 459.1,1380.6 459.8,1380.8 460.6,1377.4 461.3,1380.0 462.1,1379.2 462.8,1382.1 463.6,1381.9 464.3,1380.2 465.1,1378.1 465.8,1380.7 466.6,1380.0 467.3,1379.8 468.1,1380.1 468.8,1381.7 469.6,1378.0 470.3,1377.1 471.1,1380.1 471.8,1380.6 472.6,1379.7 473.3,1376.2 474.1,1379.1 474.8,1378.3 475.6,1379.4 476.3,1379.6 477.1,1377.4 477.8,1378.4 478.6,1377.8 479.3,1379.0 480.1,1381.5 480.8,1377.6 481.6,1380.5 482.3,1380.3 483.1,1378.1 483.8,1383.7 484.6,1375.2 485.3,1383.5 486.1,1382.6 486.8,1379.7 487.6,1378.3 488.3,1378.8 489.1,1378.0 489.8,1383.4 490.6,1377.5 491.3,1380.4 492.1,1376.7 492.8,1379.5 493.6,1380.2 494.3,1378.3 495.1,1381.2 495.8,1378.9 496.6,1380.1 497.3,1378.5 498.1,1376.7 498.8,1378.3 499.6,1379.4 500.3,1380.1 501.1,1377.6 501.8,1377.0 502.6,1378.5 503.3,1377.9 504.1,1379.0 504.8,1378.6 505.6,1380.2 506.3,1380.9 507.1,1377.8 507.8,1380.2 508.6,1378.8 509.3,1381.7 510.1,1378.4 510.8,1378.2 511.6,1377.5 512.3,1379.4 513.0,1379.6 513.8,1378.3 514.5,1379.4 515.3,1375.1 516.0,1380.1 516.8,1379.7 517.5,1375.7 518.3,1382.3 519.0,1380.7 519.8,1381.1 520.5,1382.3 521.3,1379.2 522.0,1378.1 522.8,1384.2 523.5,1379.5 524.3,1377.3 525.0,1377.1 525.8,1386.5 526.5,1380.9 527.3,1381.3 528.0,1381.0 528.8,1381.4 529.5,1384.2 530.3,1379.5 531.0,1382.4 531.8,1381.1 532.5,1379.6 533.3,1379.0 534.0,1380.4 534.8,1379.5 535.5,1382.7 536.3,1384.2 537.0,1381.7 537.8,1379.7 538.5,1378.0 539.3,1378.6 540.0,1382.2 540.8,1381.8 541.5,1382.9 542.3,1378.4 543.0,1380.3 543.8,1382.9 544.5,1381.2 545.3,1378.7 546.0,1379.1 546.8,1377.9 547.5,1378.4 548.3,1383.8 549.0,1378.9 549.8,1383.8 550.5,1383.1 551.3,1381.8 552.0,1379.4 552.8,1385.1 553.5,1382.6 554.3,1383.0 555.0,1381.0 555.8,1378.2 556.5,1382.3 557.3,1382.7 558.0,1378.7 558.8,1381.5 559.5,1382.0 560.3,1379.2 561.0,1382.6 561.8,1381.5 562.5,1383.3 563.3,1381.2 564.0,1380.5 564.8,1379.9 565.5,1380.0 566.3,1383.8 567.0,1381.9 567.8,1378.0 568.5,1381.1 569.3,1383.5 570.0,1384.2 570.8,1380.4 571.5,1383.6 572.3,1383.5 573.0,1383.4 573.8,1380.7 574.5,1384.7 575.3,1381.5 576.0,1380.2 576.8,1386.8 577.5,1383.2 578.3,1383.4 579.0,1386.8 579.8,1378.8 580.5,1380.7 581.3,1378.2 582.0,1381.1 582.8,1385.1 583.5,1382.7 584.3,1383.1 585.0,1380.5 585.8,1380.5 586.5,1380.6 587.3,1386.4 588.0,1382.8 588.8,1384.2 589.5,1379.4 590.3,1384.3 591.0,1380.2 591.8,1382.6 592.5,1384.2 593.3,1383.7 594.0,1384.1 594.8,1381.2 595.5,1380.9 596.3,1383.3 597.0,1388.0 597.8,1382.3 598.5,1382.5 599.3,1382.5 600.0,1381.6 600.8,1382.6 601.5,1381.1 602.3,1381.7 603.0,1383.5 603.8,1380.1 604.5,1382.1 605.3,1382.4 606.0,1382.7 606.8,1381.5 607.5,1383.0 608.3,1384.1 609.0,1384.8 609.8,1379.2 610.5,1383.5 611.3,1381.9 612.0,1385.4 612.8,1380.6 613.5,1381.8 614.3,1383.1 615.0,1378.8 615.8,1386.3 616.5,1384.6 617.3,1382.3 618.0,1380.4 618.8,1384.6 619.5,1384.5 620.3,1384.6 621.0,1386.4 621.8,1385.4 622.5,1384.8 623.3,1377.1 624.0,1386.1 624.8,1384.8 625.5,1381.4 626.3,1382.4 627.0,1384.3 627.8,1380.2 628.5,1386.6 629.3,1382.4 630.0,1383.5 630.8,1381.8 631.5,1384.3 632.3,1387.2 633.0,1386.5 633.8,1383.6 634.5,1379.9 635.3,1383.3 636.0,1382.4 636.8,1383.8 637.5,1381.5 638.3,1386.6 639.0,1384.7 639.8,1383.2 640.5,1383.1 641.3,1383.9 642.0,1385.2 642.8,1381.3 643.5,1382.4 644.3,1383.4 645.0,1383.0 645.8,1385.1 646.5,1383.6 647.3,1386.0 648.0,1382.7 648.8,1381.8 649.5,1383.6 650.3,1379.7 651.0,1383.1 651.8,1388.3 652.5,1387.2 653.3,1382.0 654.0,1384.2 654.8,1385.4 655.5,1381.1 656.3,1386.3 657.0,1385.9 657.8,1389.9 658.5,1386.6 659.3,1383.5 660.0,1382.4 660.8,1385.4 661.5,1385.7 662.3,1390.0 663.0,1382.3 663.8,1382.5 664.5,1384.6 665.3,1383.3 666.0,1381.5 666.8,1382.4 667.5,1385.9 668.3,1383.7 669.0,1385.1 669.8,1383.7 670.5,1388.1 671.3,1382.4 672.0,1384.5 672.8,1382.1 673.5,1381.3 674.3,1380.9 675.0,1380.7 675.8,1382.0 676.5,1382.1 677.3,1381.2 678.0,1382.0 678.8,1384.7 679.5,1381.7 680.3,1386.2 681.0,1385.6 681.8,1384.3 682.5,1383.7 683.3,1386.8 684.0,1386.8 684.8,1388.1 685.5,1387.3 686.3,1384.7 687.0,1382.2 687.8,1383.3 688.5,1380.6 689.3,1383.5 690.0,1383.5 690.8,1385.2 691.5,1382.7 692.3,1387.0 693.0,1385.3 693.8,1383.4 694.5,1384.1 695.3,1383.5 696.0,1383.9 696.8,1383.3 697.5,1382.4 698.3,1383.2 699.0,1385.4 699.8,1382.6 700.5,1382.7 701.3,1384.3 702.0,1388.4 702.8,1385.8 703.5,1384.6 704.3,1386.5 705.0,1385.4 705.8,1379.5 706.5,1384.7 707.3,1385.6 708.0,1386.2 708.8,1385.6 709.5,1385.5 710.3,1380.6 711.0,1383.2 711.8,1384.7 712.5,1388.2 713.3,1383.8 714.0,1387.2 714.8,1388.0 715.5,1389.5 716.3,1388.1 717.0,1389.5 717.8,1387.4 718.5,1385.0 719.3,1384.3 720.0,1388.3 720.8,1384.8 721.5,1390.6 722.3,1389.2 723.0,1387.8 723.8,1386.2 724.5,1386.5 725.3,1388.1 726.0,1386.7 726.8,1383.7 727.5,1388.5 728.3,1385.0 729.0,1384.4 729.8,1385.7 730.5,1385.5 731.3,1388.7 732.0,1386.3 732.8,1385.4 733.5,1386.3 734.3,1386.9 735.0,1384.3 735.8,1383.1 736.5,1385.0 737.3,1386.1 738.0,1382.8 738.8,1382.9 739.5,1384.9 740.3,1386.0 741.0,1386.6 741.8,1383.6 742.5,1387.0 743.3,1382.1 744.0,1384.6 744.8,1384.8 745.5,1388.9 746.3,1386.7 747.0,1382.7 747.8,1386.5 748.5,1384.7 749.3,1385.0 750.0,1389.7 750.8,1385.1 751.5,1383.6 752.3,1385.5 753.0,1386.2 753.8,1385.5 754.5,1383.8 755.3,1384.6 756.0,1384.7 756.8,1384.9 757.5,1386.4 758.3,1387.0 759.0,1384.7 759.8,1383.4 760.5,1386.9 761.3,1385.0 762.0,1389.5 762.8,1387.9 763.5,1388.9 764.3,1383.7 765.0,1387.3 765.8,1388.5 766.5,1384.2 767.3,1386.3 768.0,1388.5 768.8,1387.1 769.5,1383.5 770.3,1386.9 771.0,1386.6 771.8,1386.6 772.5,1385.8 773.3,1385.7 774.0,1384.6 774.8,1383.9 775.5,1381.8 776.3,1386.0 777.0,1385.8 777.8,1385.2 778.5,1386.2 779.3,1386.6 780.0,1384.0 780.8,1385.6 781.5,1386.8 782.3,1388.9 783.0,1385.3 783.8,1386.3 784.5,1384.8 785.3,1384.8 786.0,1388.5 786.8,1380.3 787.5,1388.0 788.3,1384.7 789.0,1385.3 789.8,1386.3 790.5,1386.6 791.3,1387.7 792.0,1388.4 792.8,1388.6 793.5,1383.6 794.3,1386.7 795.0,1387.4 795.8,1387.6 796.5,1384.1 797.3,1389.9 798.0,1388.9 798.8,1387.0 799.5,1392.5 800.3,1385.2 801.0,1386.7 801.8,1386.7 802.5,1388.2 803.3,1385.7 804.0,1385.6 804.8,1389.0 805.5,1386.3 806.3,1388.5 807.0,1389.3 807.8,1386.1 808.5,1384.8 809.3,1385.6 810.0,1387.5 810.8,1388.7 811.5,1387.1 812.3,1384.1 813.0,1386.9 813.8,1389.6 814.5,1389.3 815.3,1384.8 816.0,1386.5 816.8,1386.7 817.5,1382.8 818.3,1386.5 819.0,1382.6 819.8,1383.0 820.5,1384.6 821.3,1383.6 822.0,1386.9 822.8,1387.5 823.5,1385.8 824.3,1386.6 825.0,1388.4 825.8,1387.3 826.5,1390.5 827.3,1391.6 828.0,1382.6 828.8,1385.3 829.5,1384.0 830.3,1382.7 831.0,1387.5 831.8,1385.4 832.5,1383.2 833.3,1388.5 834.0,1388.5 834.8,1385.1 835.5,1386.9 836.3,1384.6 837.0,1385.7 837.8,1382.8 838.5,1385.1 839.3,1386.3 840.0,1384.4 840.8,1388.9 841.5,1384.1 842.3,1386.7 843.0,1386.8 843.8,1383.5 844.5,1389.0 845.3,1387.3 846.0,1389.2 846.8,1387.7 847.5,1388.2 848.3,1391.1 849.0,1387.5 849.8,1387.9 850.5,1385.9 851.3,1387.3 852.0,1386.2 852.8,1386.2 853.5,1388.5 854.3,1384.8 855.0,1386.0 855.8,1385.3 856.5,1390.9 857.3,1386.3 858.0,1385.8 858.8,1387.3 859.5,1383.7 860.3,1389.8 861.0,1384.9 861.8,1384.9 862.5,1387.7 863.3,1384.1 864.0,1389.1 864.8,1386.7 865.5,1388.9 866.3,1382.5 867.0,1385.7 867.8,1387.1 868.5,1384.7 869.3,1389.5 870.0,1386.6 870.8,1385.7 871.5,1386.7 872.3,1388.0 873.0,1386.4 873.8,1386.6 874.5,1386.1 875.3,1387.9 876.0,1387.1 876.8,1387.1 877.5,1389.7 878.3,1386.9 879.0,1385.0 879.8,1386.2 880.5,1384.7 881.3,1384.1 882.0,1386.6 882.8,1384.9 883.5,1384.6 884.3,1386.7 885.0,1385.2 885.8,1383.6 886.5,1382.9 887.3,1385.6 888.0,1382.7 888.8,1386.2 889.5,1385.5 890.3,1382.7 891.0,1384.5 891.8,1384.8 892.5,1383.5 893.3,1384.3 894.0,1386.1 894.8,1380.2 895.5,1384.1 896.3,1384.5 897.0,1385.8 897.8,1381.6 898.5,1382.0 899.3,1382.0 900.0,1385.6 900.8,1380.1 901.5,1382.8 902.3,1383.0 903.0,1380.5 903.8,1384.3 904.5,1379.7 905.3,1378.2 906.0,1378.6 906.8,1379.6 907.5,1380.6 908.3,1376.1 909.0,1375.9 909.8,1382.5 910.5,1378.0 911.3,1374.4 912.0,1373.0 912.8,1371.2 913.5,1371.9 914.3,1374.7 915.0,1370.5 915.8,1372.7 916.5,1368.9 917.3,1364.2 918.0,1366.9 918.8,1362.9 919.5,1360.3 920.3,1359.1 921.0,1353.7 921.8,1358.4 922.5,1347.1 923.3,1344.1 924.0,1339.9 924.8,1338.8 925.5,1329.8 926.3,1320.5 927.0,1320.4 927.8,1306.6 928.5,1297.9 929.3,1286.8 930.0,1280.8 930.8,1267.9 931.5,1253.9 932.3,1241.4 933.0,1233.1 933.8,1215.6 934.5,1209.8 935.3,1192.5 936.0,1189.3 936.8,1180.7 937.5,1178.6 938.3,1176.1 939.0,1182.9 939.8,1182.0 940.5,1188.3 941.3,1198.9 942.0,1207.0 942.8,1216.9 943.5,1231.4 944.3,1244.2 945.0,1254.3 945.8,1269.6 946.5,1278.9 947.3,1293.0 948.0,1301.5 948.8,1303.9 949.5,1318.4 950.3,1325.1 951.0,1328.0 951.8,1338.5 952.5,1338.9 953.3,1345.7 954.0,1349.6 954.8,1359.5 955.5,1354.9 956.3,1360.9 957.0,1361.7 957.8,1363.8 958.5,1362.8 959.3,1373.2 960.0,1362.7 960.8,1369.0 961.5,1373.7 962.3,1371.6 963.0,1373.8 963.8,1372.7 964.5,1376.3 965.3,1377.0 966.0,1379.6 966.8,1376.0 967.5,1376.7 968.3,1377.5 969.0,1373.4 969.8,1378.2 970.5,1382.7 971.3,1377.4 972.0,1382.0 972.8,1380.3 973.5,1380.4 974.3,1377.9 975.0,1383.8 975.8,1380.1 976.5,1382.2 977.3,1383.5 978.0,1384.8 978.8,1383.4 979.5,1383.3 980.3,1382.9 981.0,1386.2 981.8,1381.1 982.5,1383.5 983.3,1383.6 984.0,1385.2 984.8,1385.1 985.5,1385.9 986.3,1383.6 987.0,1384.1 987.8,1386.8 988.5,1388.9 989.3,1384.9 990.0,1384.0 990.8,1386.7 991.5,1385.4 992.3,1382.0 993.0,1387.9 993.8,1385.2 994.5,1387.2 995.3,1384.4 996.0,1382.7 996.8,1386.3 997.5,1386.6 998.3,1387.4 999.0,1387.1 999.8,1389.8 1000.5,1388.4 1001.3,1387.2 1002.0,1385.4 1002.8,1383.8 1003.5,1387.3 1004.3,1386.0 1005.0,1386.5 1005.8,1385.1 1006.5,1386.6 1007.3,1386.9 1008.0,1386.7 1008.8,1386.4 1009.5,1385.6 1010.3,1388.1 1011.0,1387.8 1011.8,1384.3 1012.5,1385.0 1013.3,1385.0 1014.0,1385.1 1014.8,1385.0 1015.5,1384.2 1016.3,1382.7 1017.0,1388.4 1017.8,1384.7 1018.5,1385.7 1019.3,1388.5 1020.0,1387.2 1020.8,1388.7 1021.5,1384.6 1022.3,1386.3 1023.0,1388.4 1023.8,1386.2 1024.5,1385.2 1025.3,1387.6 1026.0,1389.4 1026.8,1384.0 1027.5,1389.0 1028.3,1388.5 1029.0,1385.4 1029.8,1386.7 1030.5,1388.7 1031.3,1384.1 1032.0,1387.8 1032.8,1388.6 1033.5,1387.7 1034.3,1388.0 1035.0,1384.0 1035.8,1384.9 1036.5,1386.8 1037.3,1392.2 1038.0,1387.2 1038.8,1387.5 1039.5,1386.6 1040.3,1387.3 1041.0,1384.0 1041.8,1390.7 1042.5,1385.3 1043.3,1383.4 1044.0,1385.9 1044.8,1387.1 1045.5,1387.1 1046.3,1384.2 1047.0,1387.5 1047.8,1386.0 1048.5,1389.8 1049.3,1386.1 1050.0,1389.7 1050.8,1383.5 1051.5,1386.8 1052.3,1389.8 1053.0,1388.7 1053.8,1388.2 1054.5,1387.0 1055.3,1388.0 1056.0,1388.9 1056.8,1384.3 1057.5,1388.7 1058.3,1388.8 1059.0,1386.1 1059.8,1389.2 1060.5,1386.2 1061.3,1387.1 1062.0,1389.7 1062.8,1383.7 1063.5,1387.3 1064.3,1386.3 1065.0,1387.6 1065.8,1384.6 1066.5,1387.6 1067.3,1388.7 1068.0,1389.6 1068.8,1389.6 1069.5,1391.2 1070.3,1390.7 1071.0,1390.6 1071.8,1387.6 1072.5,1388.6 1073.3,1389.9 1074.0,1385.3 1074.8,1387.4 1075.5,1388.1 1076.3,1387.6 1077.0,1388.4 1077.8,1388.2 1078.5,1391.4 1079.3,1387.2 1080.0,1384.7 1080.8,1382.1 1081.5,1385.6 1082.3,1387.7 1083.0,1389.3 1083.8,1388.5 1084.5,1384.0 1085.3,1388.8 1086.0,1391.3 1086.8,1387.1 1087.5,1387.4 1088.3,1389.5 1089.0,1388.8 1089.8,1385.7 1090.5,1382.5 1091.3,1384.9 1092.0,1390.2 1092.8,1384.9 1093.5,1387.8 1094.3,1387.5 1095.0,1386.3 1095.8,1382.1 1096.5,1386.4 1097.3,1386.1 1098.0,1389.7 1098.8,1387.5 1099.5,1392.2 1100.3,1389.4 1101.0,1387.9 1101.8,1384.2 1102.5,1387.2 1103.3,1386.1 1104.0,1387.8 1104.8,1386.3 1105.5,1386.5 1106.3,1391.4 1107.0,1387.3 1107.8,1387.5 1108.5,1385.9 1109.3,1386.8 1110.0,1389.7 1110.8,1383.5 1111.5,1385.6 1112.3,1384.3 1113.0,1386.6 1113.8,1382.4 1114.5,1390.8 1115.3,1386.4 1116.0,1385.8 1116.8,1383.3 1117.5,1385.5 1118.3,1388.7 1119.0,1388.1 1119.8,1383.5 1120.5,1383.1 1121.3,1382.3 1122.0,1387.3 1122.8,1383.0 1123.5,1383.4 1124.3,1384.9 1125.0,1380.3 1125.8,1383.4 1126.5,1385.1 1127.3,1385.8 1128.0,1383.6 1128.8,1380.6 1129.5,1382.7 1130.3,1381.0 1131.0,1381.0 1131.8,1382.2 1132.5,1377.6 1133.3,1377.8 1134.0,1384.1 1134.8,1377.7 1135.5,1379.6 1136.3,1375.8 1137.0,1378.8 1137.8,1378.8 1138.5,1374.2 1139.3,1379.2 1140.0,1375.1 1140.8,1378.9 1141.5,1371.7 1142.3,1373.3 1143.0,1374.7 1143.8,1373.0 1144.5,1372.1 1145.3,1369.4 1146.0,1366.8 1146.8,1365.3 1147.5,1362.0 1148.3,1357.0 1149.0,1355.7 1149.8,1352.5 1150.5,1347.2 1151.3,1334.3 1152.0,1334.0 1152.8,1327.3 1153.5,1320.5 1154.3,1313.4 1155.0,1305.4 1155.8,1296.1 1156.5,1284.6 1157.3,1276.6 1158.0,1261.4 1158.8,1253.6 1159.5,1247.1 1160.3,1235.3 1161.0,1225.0 1161.8,1221.4 1162.5,1218.6 1163.3,1216.2 1164.0,1221.3 1164.8,1227.6 1165.5,1230.8 1166.3,1245.0 1167.0,1246.1 1167.8,1260.4 1168.5,1273.2 1169.3,1283.7 1170.0,1294.8 1170.8,1301.8 1171.5,1309.9 1172.3,1314.6 1173.0,1325.2 1173.8,1331.0 1174.5,1341.3 1175.3,1345.9 1176.0,1349.5 1176.8,1355.5 1177.5,1360.0 1178.3,1361.6 1179.0,1362.0 1179.8,1363.8 1180.5,1369.5 1181.3,1374.3 1182.0,1372.7 1182.8,1371.9 1183.5,1375.6 1184.3,1374.0 1185.0,1373.0 1185.8,1377.8 1186.5,1376.5 1187.3,1381.1 1188.0,1372.8 1188.8,1377.9 1189.5,1379.6 1190.3,1378.8 1191.0,1379.8 1191.8,1382.8 1192.5,1377.6 1193.3,1378.2 1194.0,1378.4 1194.8,1383.1 1195.5,1380.3 1196.3,1381.5 1197.0,1378.8 1197.8,1379.9 1198.5,1382.3 1199.3,1389.0 1200.0,1379.9 1200.8,1382.0 1201.5,1386.2 1202.3,1385.7 1203.0,1379.7 1203.8,1385.8 1204.5,1383.7 1205.3,1385.9 1206.0,1385.2 1206.8,1388.3 1207.5,1385.6 1208.3,1384.0 1209.0,1386.9 1209.8,1383.1 1210.5,1382.7 1211.3,1386.7 1212.0,1384.0 1212.8,1387.8 1213.5,1387.4 1214.3,1387.0 1215.0,1389.1 1215.8,1388.9 1216.5,1388.3 1217.3,1388.8 1218.0,1388.8 1218.8,1388.6 1219.5,1385.6 1220.3,1382.6 1221.0,1384.6 1221.8,1386.2 1222.5,1391.2 1223.3,1384.7 1224.0,1387.3 1224.8,1387.5 1225.5,1389.2 1226.3,1389.2 1227.0,1387.8 1227.8,1388.0 1228.5,1384.3 1229.3,1386.9 1230.0,1386.9 1230.8,1393.9 1231.5,1390.7 1232.3,1390.5 1233.0,1388.2 1233.8,1387.6 1234.5,1386.3 1235.3,1387.2 1236.0,1384.5 1236.8,1386.5 1237.5,1386.1 1238.3,1387.3 1239.0,1394.4 1239.8,1390.9 1240.5,1386.0 1241.3,1390.7 1242.0,1386.5 1242.8,1385.5 1243.5,1387.9 1244.3,1386.7 1245.0,1385.7 1245.8,1387.0 1246.5,1387.8 1247.3,1392.4 1248.0,1383.4 1248.8,1387.6 1249.5,1391.1 1250.3,1387.2 1251.0,1387.9 1251.8,1386.8 1252.5,1388.5 1253.3,1389.5 1254.0,1387.6 1254.8,1392.2 1255.5,1386.7 1256.3,1388.7 1257.0,1388.6 1257.8,1389.4 1258.5,1386.9 1259.3,1388.3 1260.0,1390.2 1260.8,1391.9 1261.5,1391.3 1262.3,1390.2 1263.0,1390.0 1263.8,1393.6 1264.5,1389.9 1265.3,1390.5 1266.0,1390.3 1266.8,1390.5 1267.5,1390.6 1268.3,1389.5 1269.0,1391.9 1269.8,1391.5 1270.5,1390.6 1271.3,1393.8 1272.0,1388.0 1272.8,1390.7 1273.5,1391.9 1274.3,1389.1 1275.0,1391.6 1275.8,1390.1 1276.5,1386.7 1277.3,1391.8 1278.0,1388.6 1278.8,1389.2 1279.5,1389.8 1280.3,1388.4 1281.0,1389.0 1281.8,1389.6 1282.5,1389.3 1283.3,1392.4 1284.0,1390.1 1284.8,1393.1 1285.5,1389.6 1286.3,1392.3 1287.0,1388.7 1287.8,1386.8 1288.5,1389.3 1289.3,1385.6 1290.0,1391.2 1290.8,1389.8 1291.5,1389.1 1292.3,1387.5 1293.0,1388.5 1293.8,1388.0 1294.5,1392.1 1295.3,1389.9 1296.0,1388.1 1296.8,1387.9 1297.5,1391.4 1298.3,1389.8 1299.0,1391.9 1299.8,1390.2 1300.5,1391.5 1301.3,1385.5 1302.0,1390.8 1302.8,1388.5 1303.5,1391.6 1304.3,1391.8 1305.0,1391.0 1305.8,1390.0 1306.5,1390.1 1307.3,1390.2 1308.0,1390.2 1308.8,1387.4 1309.5,1390.9 1310.3,1390.2 1311.0,1389.0 1311.8,1392.3 1312.5,1389.3 1313.3,1391.1 1314.0,1392.0 1314.8,1393.8 1315.5,1390.0 1316.3,1391.3 1317.0,1386.8 1317.8,1389.7 1318.5,1388.9 1319.3,1390.4 1320.0,1386.6 1320.8,1391.2 1321.5,1390.7 1322.3,1392.1 1323.0,1390.0 1323.8,1389.9 1324.5,1390.3 1325.3,1391.5 1326.0,1387.7 1326.8,1392.8 1327.5,1390.0 1328.3,1387.3 1329.0,1391.5 1329.8,1394.7 1330.5,1388.6 1331.3,1388.9 1332.0,1385.8 1332.8,1387.6 1333.5,1391.6 1334.3,1389.6 1335.0,1392.0 1335.8,1388.4 1336.5,1392.1 1337.3,1389.4 1338.0,1393.3 1338.8,1389.6 1339.5,1394.9 1340.3,1389.8 1341.0,1389.9 1341.8,1393.4 1342.5,1394.3 1343.3,1389.1 1344.0,1388.0 1344.8,1393.7 1345.5,1390.5 1346.3,1389.2 1347.0,1397.0 1347.8,1388.9 1348.5,1392.0 1349.3,1393.2 1350.0,1394.0 1350.8,1394.5 1351.5,1390.9 1352.3,1393.7 1353.0,1393.5 1353.8,1395.5 1354.5,1393.4 1355.3,1390.0 1356.0,1389.5 1356.8,1390.4 1357.5,1396.1 1358.3,1391.2 1359.0,1389.5 1359.8,1391.8 1360.5,1393.3 1361.3,1392.1 1362.0,1390.8 1362.8,1394.6 1363.5,1393.4 1364.3,1393.5 1365.0,1389.2 1365.8,1389.7 1366.5,1389.7 1367.3,1390.8 1368.0,1391.1 1368.8,1387.9 1369.5,1388.6 1370.3,1391.0 1371.0,1391.4 1371.8,1394.2 1372.5,1390.8 1373.3,1392.7 1374.0,1385.4 1374.8,1391.5 1375.5,1387.8 1376.3,1389.1 1377.0,1391.2 1377.8,1391.4 1378.5,1390.1 1379.3,1392.9 1380.0,1388.4 1380.8,1391.0 1381.5,1392.6 1382.3,1391.5 1383.0,1392.8 1383.8,1396.1 1384.5,1391.2 1385.3,1391.9 1386.0,1388.7 1386.8,1389.6 1387.5,1391.5 1388.3,1393.7 1389.0,1390.1 1389.8,1393.6 1390.5,1391.9 1391.3,1388.9 1392.0,1388.3 1392.8,1388.4 1393.5,1391.3 1394.3,1389.9 1395.0,1392.9 1395.8,1390.5 1396.5,1391.5 1397.3,1394.2 1398.0,1395.2 1398.8,1388.8 1399.5,1394.0 1400.3,1392.1 1401.0,1393.4 1401.8,1391.0 1402.5,1394.1 1403.3,1389.8 1404.0,1392.0 1404.8,1391.9 1405.5,1392.9 1406.3,1388.4 1407.0,1387.6 1407.8,1394.2 1408.5,1393.2 1409.3,1390.4 1410.0,1390.9 1410.8,1388.6 1411.5,1394.3 1412.3,1388.2 1413.0,1392.6 1413.8,1391.5 1414.5,1393.8 1415.3,1394.2 1416.0,1390.1 1416.8,1390.6 1417.5,1393.2 1418.3,1389.8 1419.0,1394.8 1419.8,1393.9 1420.5,1389.0 1421.3,1396.1 1422.0,1391.2 1422.8,1394.4 1423.5,1390.7 1424.3,1395.5 1425.0,1392.1 1425.8,1391.1 1426.5,1394.7 1427.3,1391.9 1428.0,1390.8 1428.8,1390.9 1429.5,1393.1 1430.3,1393.4 1431.0,1391.6 1431.8,1391.2 1432.5,1391.8 1433.3,1390.3 1434.0,1393.7 1434.8,1393.5 1435.5,1389.2 1436.3,1389.5 1437.0,1395.9 1437.8,1392.4 1438.5,1389.7 1439.3,1392.2 1440.0,1389.5 1440.8,1391.8 1441.5,1394.8 1442.3,1391.7 1443.0,1391.8 1443.8,1392.6 1444.5,1393.8 1445.3,1392.9 1446.0,1397.0 1446.8,1391.9 1447.5,1395.3 1448.3,1391.5 1449.0,1390.7 1449.8,1392.7 1450.5,1392.4 1451.3,1388.9 1452.0,1390.3 1452.8,1393.9 1453.5,1394.7 1454.3,1395.4 1455.0,1394.8 1455.8,1390.9 1456.5,1392.9 1457.3,1392.9 1458.0,1391.7 1458.8,1394.5 1459.5,1393.0 1460.3,1395.3 1461.0,1394.8 1461.8,1395.0 1462.5,1393.9 1463.3,1391.3 1464.0,1390.8 1464.8,1392.9 1465.5,1392.1 1466.3,1394.1 1467.0,1389.6 1467.8,1393.9 1468.5,1392.5 1469.3,1389.4 1470.0,1394.0 1470.8,1393.0 1471.5,1391.5 1472.3,1391.2 1473.0,1394.6 1473.8,1391.1 1474.5,1395.8 1475.3,1392.2 1476.0,1393.6 1476.8,1393.1 1477.5,1393.0 1478.3,1393.5 1479.0,1390.8 1479.8,1395.3 1480.5,1394.0 1481.3,1393.4 1482.0,1392.4 1482.8,1391.2 1483.5,1394.6 1484.3,1391.8 1485.0,1391.1 1485.8,1390.3 1486.5,1389.3 1487.3,1393.6 1488.0,1392.7 1488.8,1389.4 1489.5,1392.2 1490.3,1392.5 1491.0,1395.2 1491.8,1393.2 1492.5,1394.5 1493.3,1398.2 1494.0,1390.3 1494.8,1396.7 1495.5,1394.6 1496.3,1394.3 1497.0,1392.0 1497.8,1392.6 1498.5,1394.9 1499.3,1391.0 1500.0,1387.4 1500.8,1394.9 1501.5,1392.1 1502.3,1391.7 1503.0,1389.7 1503.8,1392.1 1504.5,1392.3 1505.3,1392.4 1506.0,1392.4 1506.8,1393.2 1507.5,1394.6 1508.3,1391.0 1509.0,1393.2 1509.8,1393.7 1510.5,1392.3 1511.3,1392.6 1512.0,1390.5 1512.8,1390.4 1513.5,1392.2 1514.3,1393.3 1515.0,1394.6 1515.8,1397.0 1516.5,1394.5 1517.3,1398.9 1518.0,1392.5 1518.8,1393.3 1519.5,1392.9 1520.3,1392.2 1521.0,1396.5 1521.8,1392.7 1522.5,1393.4 1523.3,1395.9 1524.0,1393.0 1524.8,1394.4 1525.5,1395.3 1526.3,1395.9 1527.0,1395.1 1527.8,1391.8 1528.5,1392.5 1529.3,1393.2 1530.0,1391.7 1530.8,1390.7 1531.5,1394.3 1532.3,1395.8 1533.0,1392.8 1533.8,1389.2 1534.5,1397.7 1535.3,1392.7 1536.0,1393.4 1536.8,1394.2 1537.5,1392.8 1538.3,1396.3 1539.0,1395.1 1539.8,1395.4 1540.5,1394.1 1541.3,1393.0 1542.0,1395.1 1542.8,1387.7 1543.5,1391.0 1544.3,1393.1 1545.0,1393.0 1545.8,1390.6 1546.5,1391.3 1547.3,1391.6 1548.0,1395.9 1548.8,1392.3 1549.5,1391.7 1550.3,1391.5 1551.0,1394.3 1551.8,1391.9 1552.5,1391.8 1553.3,1396.4 1554.0,1393.5 1554.8,1389.0 1555.5,1393.9 1556.3,1389.3 1557.0,1391.2 1557.8,1393.7 1558.5,1390.9 1559.3,1389.8 1560.0,1394.0 1560.8,1388.0 1561.5,1391.4 1562.3,1393.5 1563.0,1392.9 1563.8,1389.1 1564.5,1392.9 1565.3,1394.7 1566.0,1388.1 1566.8,1392.9 1567.5,1393.1 1568.3,1395.3 1569.0,1394.5 1569.8,1391.5 1570.5,1391.3 1571.3,1393.5 1572.0,1389.1 1572.8,1394.7 1573.5,1395.0 1574.3,1394.4 1575.0,1392.1 1575.8,1391.6 1576.5,1390.7 1577.3,1392.4 1578.0,1394.7 1578.8,1392.6 1579.5,1391.8 1580.3,1394.6 1581.0,1392.7 1581.8,1393.5 1582.5,1391.7 1583.3,1394.9 1584.0,1393.9 1584.8,1390.7 1585.5,1395.9 1586.3,1392.4 1587.0,1394.0 1587.8,1393.5 1588.5,1389.4 1589.3,1391.8 1590.0,1397.3 1590.8,1393.0 1591.5,1392.3 1592.3,1392.3 1593.0,1391.7 1593.8,1391.8 1594.5,1396.3 1595.3,1392.0 1596.0,1390.7 1596.8,1393.3 1597.5,1390.7 1598.3,1392.8 1599.0,1396.8 1599.8,1395.3 1600.5,1392.4 1601.3,1400.5 1602.0,1393.5 1602.8,1396.9 1603.5,1394.0 1604.3,1392.9 1605.0,1393.4 1605.8,1393.7 1606.5,1395.8 1607.3,1394.1 1608.0,1395.6 1608.8,1392.7 1609.5,1397.4 1610.3,1396.7 1611.0,1392.9 1611.8,1393.1 1612.5,1392.8 1613.3,1390.1 1614.0,1388.4 1614.8,1393.0 1615.5,1392.4 1616.3,1396.2 1617.0,1393.7 1617.8,1396.8 1618.5,1395.5 1619.3,1391.0 1620.0,1400.4 1620.8,1397.3 1621.5,1396.1 1622.3,1400.1 1623.0,1393.1 1623.8,1397.9 1624.5,1398.7 1625.3,1400.3 1626.0,1398.4 1626.8,1393.9 1627.5,1395.7 1628.3,1396.2 1629.0,1395.0 1629.8,1400.4 1630.5,1393.3 1631.3,1396.9 1632.0,1394.6 1632.8,1395.6 1633.5,1394.6 1634.3,1393.1 1635.0,1396.2 1635.8,1391.3 1636.5,1394.2 1637.3,1395.9 1638.0,1392.7 1638.8,1394.8 1639.5,1393.8 1640.3,1388.3 1641.0,1394.4 1641.8,1396.1 1642.5,1394.2 1643.3,1397.4 1644.0,1392.2 1644.8,1395.0 1645.5,1396.8 1646.3,1394.9 1647.0,1395.3 1647.8,1393.9 1648.5,1393.0 1649.3,1395.9 1650.0,1400.0 1650.8,1393.7 1651.5,1394.5 1652.3,1395.4 1653.0,1392.9 1653.8,1396.4 1654.5,1394.0 1655.3,1397.2 1656.0,1394.3 1656.8,1392.0 1657.5,1395.6 1658.3,1391.0 1659.0,1396.2 1659.8,1392.2 1660.5,1392.4 1661.3,1392.8 1662.0,1396.6 1662.8,1394.0 1663.5,1397.8 1664.3,1396.6 1665.0,1395.2 1665.8,1395.4 1666.5,1393.5 1667.3,1393.9 1668.0,1391.9 1668.8,1393.4 1669.5,1391.4 1670.3,1394.0 1671.0,1393.4 1671.8,1393.3 1672.5,1395.4 1673.3,1392.2 1674.0,1396.0 1674.8,1395.4 1675.5,1390.6 1676.3,1394.9 1677.0,1395.4 1677.8,1393.2 1678.5,1396.2 1679.3,1390.9 1680.0,1392.4 1680.8,1391.9 1681.5,1396.3 1682.3,1394.1 1683.0,1390.6 1683.8,1396.5 1684.5,1396.9 1685.3,1395.9 1686.0,1390.1 1686.8,1392.0 1687.5,1393.1 1688.3,1393.7 1689.0,1394.6 1689.8,1393.5 1690.5,1395.2 1691.3,1393.8 1692.0,1391.4 1692.8,1393.4 1693.5,1391.7 1694.3,1392.9 1695.0,1395.7 1695.8,1396.5 1696.5,1395.7 1697.3,1391.7 1698.0,1392.6 1698.8,1395.5 1699.5,1399.3 1700.3,1391.3 1701.0,1391.6 1701.8,1394.0 1702.5,1394.9 1703.3,1395.3 1704.0,1393.2 1704.8,1397.3 1705.5,1391.1 1706.3,1394.9 1707.0,1395.1 1707.8,1395.4 1708.5,1393.6 1709.3,1395.3 1710.0,1392.0 1710.8,1389.4 1711.5,1388.7 1712.3,1392.2 1713.0,1389.4 1713.8,1396.0 1714.5,1387.9 1715.3,1391.5 1716.0,1395.1 1716.8,1391.7 1717.5,1395.7 1718.3,1390.6 1719.0,1390.4 1719.8,1393.8 1720.5,1394.7 1721.3,1396.0 1722.0,1395.9 1722.8,1396.2 1723.5,1396.6 1724.3,1395.3 1725.0,1395.1 1725.8,1392.7 1726.5,1391.0 1727.3,1396.3 1728.0,1397.5 1728.8,1393.2 1729.5,1393.6 1730.3,1394.6 1731.0,1391.6 1731.8,1393.0 1732.5,1393.4 1733.3,1390.6 1734.0,1396.0 1734.8,1391.6 1735.5,1394.1 1736.3,1390.8 1737.0,1389.8 1737.8,1393.2 1738.5,1393.2 1739.3,1392.8 1740.0,1393.1 1740.8,1393.3 1741.5,1391.9 1742.3,1393.2 1743.0,1395.5 1743.8,1396.9 1744.5,1397.3 1745.3,1392.2 1746.0,1394.2 1746.8,1393.7 1747.5,1393.8 1748.3,1397.8 1749.0,1393.8 1749.8,1393.4 1750.5,1392.5 1751.3,1393.5 1752.0,1392.6 1752.8,1394.0 1753.5,1393.1 1754.3,1396.8 1755.0,1394.8 1755.8,1390.8 1756.5,1393.1 1757.3,1394.1 1758.0,1394.9 1758.8,1390.9 1759.5,1390.9 1760.3,1392.4 1761.0,1395.0 1761.8,1395.8 1762.5,1394.7 1763.3,1389.8 1764.0,1388.8 1764.8,1393.1 1765.5,1394.3 1766.3,1394.3 1767.0,1394.9 1767.8,1392.0 1768.5,1398.5 1769.3,1391.5 1770.0,1395.6 1770.8,1396.3 1771.5,1390.8 1772.3,1392.8 1773.0,1393.8 1773.8,1392.8 1774.5,1391.1 1775.3,1394.1 1776.0,1393.4 1776.8,1392.9 1777.5,1394.7 1778.3,1395.0 1779.0,1393.7 1779.8,1393.0 1780.5,1394.2 1781.3,1390.9 1782.0,1391.9 1782.8,1394.5 1783.5,1394.2 1784.3,1394.4 1785.0,1391.5 1785.8,1393.6 1786.5,1391.4 1787.3,1393.1 1788.0,1394.0 1788.8,1390.3 1789.5,1393.0 1790.3,1392.1 1791.0,1393.5 1791.8,1396.6 1792.5,1392.8 1793.3,1394.3 1794.0,1395.6 1794.8,1390.1 1795.5,1392.9 1796.3,1394.3 1797.0,1393.0 1797.8,1393.3 1798.5,1393.1 1799.3,1391.4 1800.0,1389.0 1800.8,1388.4 1801.5,1389.6 1802.3,1391.4 1803.0,1392.9 1803.8,1390.6 1804.5,1389.6 1805.3,1389.8 1806.0,1392.0 1806.8,1390.9 1807.5,1392.3 1808.3,1393.4 1809.0,1395.8 1809.8,1395.3 1810.5,1389.9 1811.3,1392.9 1812.0,1390.4 1812.8,1394.6 1813.5,1394.2 1814.3,1389.5 1815.0,1394.1 1815.8,1393.5 1816.5,1394.5 1817.3,1397.1 1818.0,1395.2 1818.8,1394.6 1819.5,1392.4 1820.3,1393.4 1821.0,1395.1 1821.8,1395.5 1822.5,1391.3 1823.3,1389.4 1824.0,1394.8 1824.8,1394.4 1825.5,1389.7 1826.3,1395.0 1827.0,1392.2 1827.8,1392.9 1828.5,1390.0 1829.3,1394.1 1830.0,1391.0 1830.8,1389.8 1831.5,1391.9 1832.3,1394.8 1833.0,1394.7 1833.8,1394.3 1834.5,1391.5 1835.3,1393.7 1836.0,1391.4 1836.8,1393.6 1837.5,1391.3 1838.3,1390.6 1839.0,1391.5 1839.8,1392.3 1840.5,1391.7 1841.3,1393.4 1842.0,1392.9 1842.8,1392.0 1843.5,1395.3 1844.3,1393.9 1845.0,1393.6 1845.8,1392.5 1846.5,1396.5 1847.3,1394.7 1848.0,1391.9 1848.8,1395.1 1849.5,1395.7 1850.3,1392.8 1851.0,1393.1 1851.8,1392.8 1852.5,1395.0 1853.3,1393.0 1854.0,1394.2 1854.8,1393.2 1855.5,1390.6 1856.3,1389.8 1857.0,1391.4 1857.8,1389.1 1858.5,1392.4 1859.3,1391.9 1860.0,1394.3 1860.8,1392.8 1861.5,1391.7 1862.3,1396.2 1863.0,1394.9 1863.8,1395.0 1864.5,1396.8 1865.3,1394.4 1866.0,1392.1 1866.8,1396.5 1867.5,1392.6 1868.3,1393.0 1869.0,1391.8 1869.8,1393.9 1870.5,1394.5 1871.3,1395.6 1872.0,1392.7 1872.8,1392.9 1873.5,1391.1 1874.3,1391.0 1875.0,1393.3 1875.8,1390.3 1876.5,1392.6 1877.3,1393.0 1878.0,1391.6 1878.8,1394.0 1879.5,1391.6 1880.3,1391.4 1881.0,1391.4 1881.8,1389.5 1882.5,1393.0 1883.3,1391.5 1884.0,1391.6 1884.8,1392.1 1885.5,1392.6 1886.3,1396.5 1887.0,1389.9 1887.8,1393.2 1888.5,1389.1 1889.3,1391.9 1890.0,1391.4 1890.8,1390.6 1891.5,1393.2 1892.3,1387.6 1893.0,1391.4 1893.8,1388.3 1894.5,1386.3 1895.3,1386.8 1896.0,1390.5 1896.8,1389.9 1897.5,1394.1 1898.3,1395.8 1899.0,1388.6 1899.8,1391.6 1900.5,1389.4 1901.3,1390.9 1902.0,1394.1 1902.8,1389.9 1903.5,1388.2 1904.3,1388.3 1905.0,1388.4 1905.8,1386.4 1906.5,1387.7 1907.3,1386.0 1908.0,1388.7 1908.8,1380.1 1909.5,1380.8 1910.3,1379.8 1911.0,1379.8 1911.8,1378.1 1912.5,1376.3 1913.3,1376.0 1914.0,1376.1 1914.8,1371.3 1915.5,1369.4 1916.3,1363.0 1917.0,1361.3 1917.8,1359.0 1918.5,1360.1 1919.3,1354.2 1920.0,1355.9 1920.8,1355.2 1921.5,1353.4 1922.3,1346.5 1923.0,1348.0 1923.8,1350.3 1924.5,1340.9 1925.3,1344.6 1926.0,1346.9 1926.8,1345.4 1927.5,1350.4 1928.3,1351.3 1929.0,1358.2 1929.8,1353.1 1930.5,1358.7 1931.3,1361.0 1932.0,1360.3 1932.8,1365.5 1933.5,1371.3 1934.3,1367.8 1935.0,1375.7 1935.8,1373.4 1936.5,1374.3 1937.3,1376.4 1938.0,1378.4 1938.8,1381.0 1939.5,1381.5 1940.3,1384.8 1941.0,1385.0 1941.8,1386.5 1942.5,1386.6 1943.3,1387.9 1944.0,1386.1 1944.8,1383.6 1945.5,1386.1 1946.3,1388.4 1947.0,1391.7 1947.8,1384.6 1948.5,1390.0 1949.3,1392.5 1950.0,1391.7 1950.8,1389.2 1951.5,1391.4 1952.3,1389.8 1953.0,1390.4 1953.8,1392.8 1954.5,1392.6 1955.3,1391.8 1956.0,1390.8 1956.8,1391.0 1957.5,1389.8 1958.3,1386.1 1959.0,1390.7 1959.8,1393.6 1960.5,1394.6 1961.3,1392.9 1962.0,1392.0 1962.8,1396.1 1963.5,1393.1 1964.3,1393.8 1965.0,1390.7 1965.8,1394.7 1966.5,1395.7 1967.3,1391.4 1968.0,1392.0 1968.8,1397.1 1969.5,1396.0 1970.3,1394.3 1971.0,1395.4 1971.8,1392.4 1972.5,1394.5 1973.3,1391.4 1974.0,1396.9 1974.8,1391.5 1975.5,1391.7 1976.3,1391.6 1977.0,1390.9 1977.8,1394.1 1978.5,1391.4 1979.3,1399.1 1980.0,1393.2 1980.8,1393.3 1981.5,1397.1 1982.3,1398.7 1983.0,1395.3 1983.8,1391.6 1984.5,1393.5 1985.3,1395.8 1986.0,1393.0 1986.8,1393.1 1987.5,1395.1 1988.3,1394.1 1989.0,1397.3 1989.8,1394.7 1990.5,1392.9 1991.3,1395.5 1992.0,1393.0 1992.8,1393.6 1993.5,1395.7 1994.3,1396.8 1995.0,1394.0 1995.8,1395.8 1996.5,1393.6 1997.3,1394.7 1998.0,1397.5 1998.8,1393.6 1999.5,1397.1 2000.3,1393.4 2001.0,1392.3 2001.8,1395.6 2002.5,1395.6 2003.3,1395.7 2004.0,1392.5 2004.8,1400.4 2005.5,1394.2 2006.3,1396.2 2007.0,1391.5 2007.8,1395.1 2008.5,1394.5 2009.3,1396.0 2010.0,1395.0 2010.8,1392.4 2011.5,1393.0 2012.3,1395.0 2013.0,1395.5 2013.8,1399.7 2014.5,1393.6 2015.3,1394.0 2016.0,1392.0 2016.8,1392.5 2017.5,1394.3 2018.3,1393.6 2019.0,1396.9 2019.8,1395.9 2020.5,1394.0 2021.3,1392.3 2022.0,1394.7 2022.8,1393.0 2023.5,1395.8 2024.3,1394.8 2025.0,1392.0 2025.8,1394.9 2026.5,1398.1 2027.3,1391.3 2028.0,1394.5 2028.8,1395.2 2029.5,1396.4 2030.3,1394.5 2031.0,1394.1 2031.8,1396.2 2032.5,1395.9 2033.3,1397.0 2034.0,1394.9 2034.8,1397.8 2035.5,1394.3 2036.3,1394.4 2037.0,1394.9 2037.8,1394.8 2038.5,1394.3 2039.3,1393.0 2040.0,1399.1 2040.8,1394.5 2041.5,1396.2 2042.3,1397.5 2043.0,1398.8 2043.8,1398.3 2044.5,1395.9 2045.3,1395.4 2046.0,1396.6 2046.8,1398.7 2047.5,1393.2 2048.3,1394.7 2049.1,1394.9 2049.8,1395.0 2050.6,1392.6 2051.3,1394.5 2052.1,1397.8 2052.8,1398.6 2053.6,1400.7 2054.3,1396.3 2055.1,1392.8 2055.8,1397.2 2056.6,1395.3 2057.3,1396.3 2058.1,1389.4 2058.8,1396.4 2059.6,1395.5 2060.3,1392.2 2061.1,1395.3 2061.8,1398.6 2062.6,1395.0 2063.3,1395.7 2064.1,1395.6 2064.8,1396.4 2065.6,1398.3 2066.3,1397.5 2067.1,1397.3 2067.8,1393.7 2068.6,1398.7 2069.3,1397.6 2070.1,1395.5 2070.8,1395.5 2071.6,1396.5 2072.3,1398.0 2073.1,1393.5 2073.8,1396.9 2074.6,1396.5 2075.3,1399.7 2076.1,1397.2 2076.8,1397.3 2077.6,1395.3 2078.3,1393.7 2079.1,1396.7 2079.8,1397.7 2080.6,1399.7 2081.3,1398.8"/>
<rect x="182.3" y="39.3" width="1899.7" height="1403.3" fill="none" stroke="#000" stroke-width="5.4"/>
<path d="M182.3 1442.6V1414.1M340.6 1442.6V1428.6M498.9 1442.6V1414.1M657.2 1442.6V1428.6M815.5 1442.6V1414.1M973.8 1442.6V1428.6M1132.2 1442.6V1414.1M1290.5 1442.6V1428.6M1448.8 1442.6V1414.1M1607.1 1442.6V1428.6M1765.4 1442.6V1414.1M1923.7 1442.6V1428.6M2082.0 1442.6V1414.1" stroke="#000" stroke-width="5.2" fill="none"/>
<text x="181.5" y="1517.3" text-anchor="middle" style="font-family:'Liberation Serif','Times New Roman',serif;font-size:63px">20</text>
<text x="498.1" y="1517.3" text-anchor="middle" style="font-family:'Liberation Serif','Times New Roman',serif;font-size:63px">30</text>
<text x="814.7" y="1517.3" text-anchor="middle" style="font-family:'Liberation Serif','Times New Roman',serif;font-size:63px">40</text>
<text x="1131.4" y="1517.3" text-anchor="middle" style="font-family:'Liberation Serif','Times New Roman',serif;font-size:63px">50</text>
<text x="1448.0" y="1517.3" text-anchor="middle" style="font-family:'Liberation Serif','Times New Roman',serif;font-size:63px">60</text>
<text x="1764.6" y="1517.3" text-anchor="middle" style="font-family:'Liberation Serif','Times New Roman',serif;font-size:63px">70</text>
<text x="2081.2" y="1517.3" text-anchor="middle" style="font-family:'Liberation Serif','Times New Roman',serif;font-size:63px">80</text>
<text x="1130.4" y="1620.6" text-anchor="middle" style="font-family:'Liberation Serif','Times New Roman',serif;font-size:80.6px">2θ(degree)</text>
<text transform="translate(90.9,763.6) rotate(-90)" x="0" y="0" text-anchor="middle" style="font-family:'Liberation Serif','Times New Roman',serif;font-size:79px">Intensity(a.u.)</text>
<text x="209.9" y="212.7" fill="#8800ff" style="font-family:'Liberation Serif','Times New Roman',serif;font-size:76px">E</text>
<text x="210.4" y="535.6" fill="#008800" style="font-family:'Liberation Serif','Times New Roman',serif;font-size:76px">D</text>
<text x="212.0" y="834.8" fill="#0033ff" style="font-family:'Liberation Serif','Times New Roman',serif;font-size:76px">C</text>
<text x="209.7" y="1089.6" fill="#ff0000" style="font-family:'Liberation Serif','Times New Roman',serif;font-size:76px">B</text>
<text x="211.2" y="1346.9" fill="#404040" style="font-family:'Liberation Serif','Times New Roman',serif;font-size:76px">A</text>
<text x="1398.3" y="152.3" style="font-family:'Liberation Serif','DejaVu Sans',serif;font-size:63px">♣</text>
<text x="1458.8" y="151.6" style="font-family:'Liberation Serif','Times New Roman',serif;font-size:67px">FCC</text>
<text x="1397.1" y="373.3" fill="#000" transform="matrix(-1 0 0 1 2840.7 0)" stroke="#fff" stroke-width="2.60" stroke-linejoin="round" style="font-family:'DejaVu Serif',serif;font-size:67.5px">∇</text>
<text x="1459" y="371.7" style="font-family:'Liberation Serif','Times New Roman',serif;font-size:67px">CrO</text>
<text x="1637.9" y="366.0" fill="#000" style="font-family:'DejaVu Serif',serif;font-size:57.2px">∗</text>
<text x="1691" y="371.7" style="font-family:'Liberation Serif','Times New Roman',serif;font-size:67px">W<tspan font-size="47px" dy="17.5">2</tspan><tspan dy="-17.5">C</tspan></text>
<text x="1384.4" y="502.4" style="font-family:'Liberation Serif','DejaVu Sans',serif;font-size:63px">▲</text>
<text x="1455.2" y="503.4" style="font-family:'Liberation Serif','Times New Roman',serif;font-size:68px">W<tspan font-size="44px" dy="15.5">3</tspan><tspan dy="-15.5">C</tspan></text>
<text x="1645.1" y="500.7" style="font-family:'Liberation Serif','DejaVu Sans',serif;font-size:55px">●</text>
<text x="1693.5" y="504.6" style="font-family:'Liberation Serif','Times New Roman',serif;font-size:68px">W<tspan font-size="44px" dy="17">3</tspan><tspan dy="-17">O</tspan></text>
<text x="883.8" y="67.8" fill="#000" style="font-family:'Liberation Serif',serif;font-size:41.9px">▲</text>
<text x="926.2" y="67.7" fill="#000" style="font-family:'Liberation Serif',serif;font-size:40.8px">♣</text>
<text x="956.7" y="72.2" fill="#000" transform="matrix(-1 0 0 1 1939.4 0)" stroke="#fff" stroke-width="1.30" stroke-linejoin="round" style="font-family:'DejaVu Serif',serif;font-size:37.8px">∇</text>
<text x="1150.8" y="164.6" fill="#000" transform="matrix(-1 0 0 1 2327.1 0)" stroke="#fff" stroke-width="1.30" stroke-linejoin="round" style="font-family:'DejaVu Serif',serif;font-size:36.9px">∇</text>
<text x="1147.6" y="193.1" fill="#000" style="font-family:'Liberation Serif',serif;font-size:40.3px">♣</text>
<text x="1901.4" y="152.8" fill="#000" style="font-family:'Liberation Serif',serif;font-size:42.2px">▲</text>
<text x="1908.6" y="186.0" fill="#222" stroke="#fff" stroke-width="0.70" stroke-linejoin="round" style="font-family:'DejaVu Serif',serif;font-size:36.1px">∗</text>
<text x="1908.9" y="215.6" fill="#000" style="font-family:'Liberation Serif',serif;font-size:40.8px">♣</text>
<text x="880.6" y="283.4" fill="#000" style="font-family:'Liberation Serif',serif;font-size:42.5px">▲</text>
<text x="926.4" y="281.2" fill="#000" style="font-family:'Liberation Serif',serif;font-size:40.0px">♣</text>
<text x="963.0" y="283.2" fill="#000" style="font-family:'Liberation Serif',serif;font-size:36.3px">●</text>
<text x="1150.3" y="477.5" fill="#000" style="font-family:'Liberation Serif',serif;font-size:39.9px">♣</text>
<text x="1901.6" y="452.9" fill="#000" style="font-family:'Liberation Serif',serif;font-size:41.7px">▲</text>
<text x="1905.2" y="483.4" fill="#222" stroke="#fff" stroke-width="0.70" stroke-linejoin="round" style="font-family:'DejaVu Serif',serif;font-size:38.9px">∗</text>
<text x="1910.5" y="499.4" fill="#000" style="font-family:'Liberation Serif',serif;font-size:32.2px">●</text>
<text x="1906.2" y="532.3" fill="#000" style="font-family:'Liberation Serif',serif;font-size:40.3px">♣</text>
<text x="889.2" y="593.6" fill="#000" style="font-family:'Liberation Serif',serif;font-size:41.7px">▲</text>
<text x="931.9" y="596.1" fill="#000" style="font-family:'Liberation Serif',serif;font-size:37.4px">♣</text>
<text x="960.8" y="595.3" fill="#000" style="font-family:'Liberation Serif',serif;font-size:33.5px">●</text>
<text x="1152.3" y="830.3" fill="#000" style="font-family:'Liberation Serif',serif;font-size:39.1px">♣</text>
<text x="1912.6" y="734.5" fill="#000" style="font-family:'Liberation Serif',serif;font-size:41.7px">▲</text>
<text x="1916.7" y="762.5" fill="#222" stroke="#fff" stroke-width="0.70" stroke-linejoin="round" style="font-family:'DejaVu Serif',serif;font-size:37.0px">∗</text>
<text x="1918.1" y="783.5" fill="#000" style="font-family:'Liberation Serif',serif;font-size:37.3px">●</text>
<text x="1917.6" y="809.5" fill="#000" style="font-family:'Liberation Serif',serif;font-size:38.8px">♣</text>
<text x="926.8" y="903.2" fill="#000" style="font-family:'Liberation Serif',serif;font-size:39.6px">♣</text>
<text x="947.8" y="901.7" fill="#000" style="font-family:'Liberation Serif',serif;font-size:41.2px">▲</text>
<text x="1150.3" y="973.0" fill="#000" style="font-family:'Liberation Serif',serif;font-size:39.3px">♣</text>
<text x="1904.5" y="1040.6" fill="#000" style="font-family:'Liberation Serif',serif;font-size:41.7px">▲</text>
<text x="1913.8" y="1069.0" fill="#222" stroke="#fff" stroke-width="0.70" stroke-linejoin="round" style="font-family:'DejaVu Serif',serif;font-size:37.1px">∗</text>
<text x="1914.6" y="1097.0" fill="#000" style="font-family:'Liberation Serif',serif;font-size:39.6px">♣</text>
<text x="926.7" y="1166.9" fill="#000" style="font-family:'Liberation Serif',serif;font-size:38.9px">♣</text>
<text x="1149.7" y="1210.0" fill="#000" style="font-family:'Liberation Serif',serif;font-size:40.5px">♣</text>
<text x="1912.0" y="1308.8" fill="#222" stroke="#fff" stroke-width="0.70" stroke-linejoin="round" style="font-family:'DejaVu Serif',serif;font-size:35.4px">∗</text>
<text x="1911.8" y="1333.2" fill="#000" style="font-family:'Liberation Serif',serif;font-size:40.3px">♣</text>
</svg>
</body></html>
